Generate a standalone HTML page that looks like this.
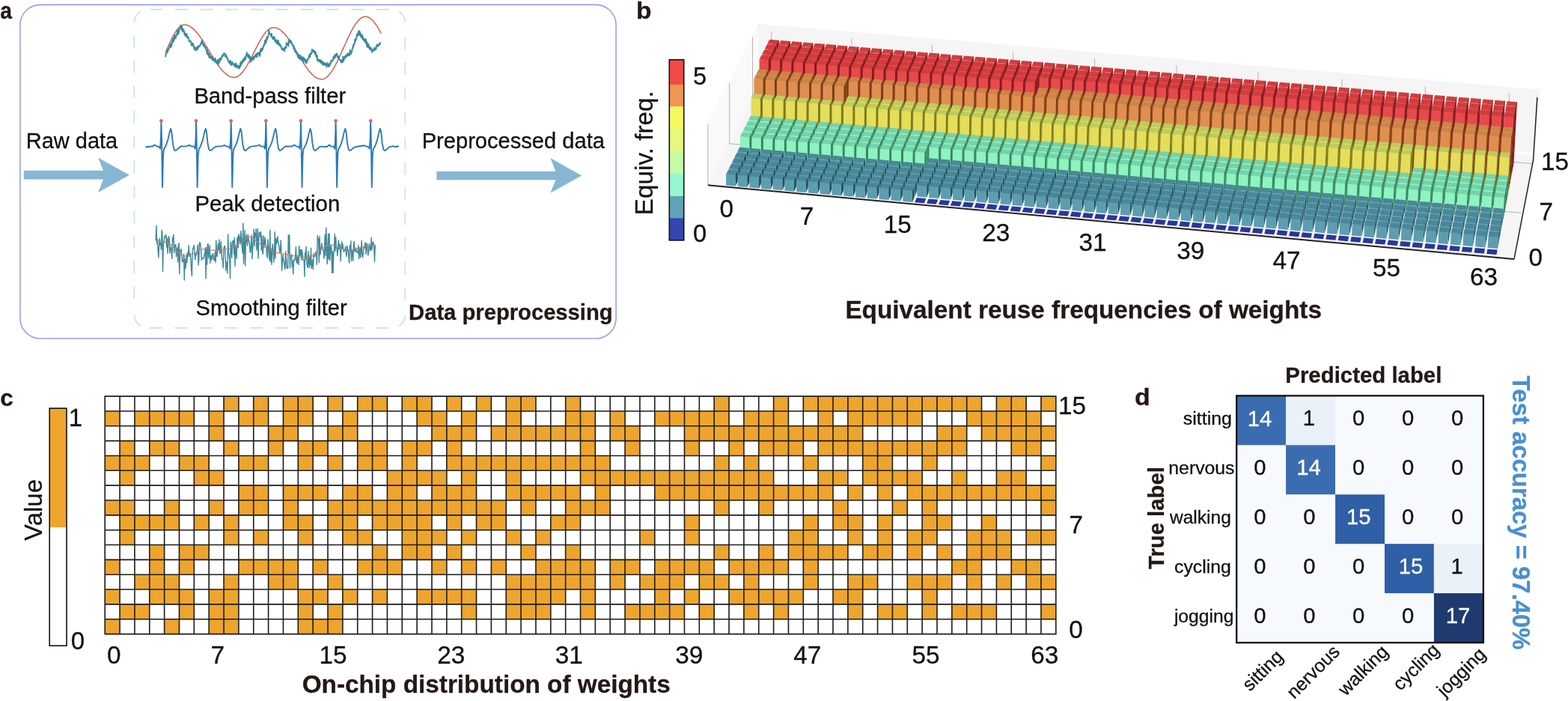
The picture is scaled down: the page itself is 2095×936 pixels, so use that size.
<!DOCTYPE html>
<html lang="en"><head><meta charset="utf-8"><title>Figure</title>
<style>
html,body{margin:0;padding:0;background:#fff;}
body{width:2095px;height:936px;overflow:hidden;}
svg{display:block;font-family:"Liberation Sans",sans-serif;}
.b{font-weight:700;fill:#231815;}
.t{fill:#111;}
</style></head><body>
<svg width="2095" height="936" viewBox="0 0 2095 936">
<rect width="2095" height="936" fill="#fff"/>
<g id="panel-a">
<rect x="26.9" y="6.4" width="796.2" height="445.6" rx="27" ry="27" fill="none" stroke="#9d9dee" stroke-width="1.6"/>
<path d="M200.5 12.6h16.8M234.1 12.6h16.8M267.7 12.6h16.8M301.3 12.6h16.8M334.9 12.6h16.8M368.5 12.6h16.8M402.1 12.6h16.8M435.7 12.6h16.8M469.3 12.6h16.8M502.9 12.6h16.8M199.8 437.8h16.8M233.4 437.8h16.8M267.0 437.8h16.8M300.6 437.8h16.8M334.2 437.8h16.8M367.8 437.8h16.8M401.4 437.8h16.8M435.0 437.8h16.8M468.6 437.8h16.8M502.2 437.8h16.8M179.3 47.3v16.7M179.3 80.8v16.7M179.3 114.2v16.7M179.3 147.7v16.7M179.3 181.1v16.7M179.3 214.6v16.7M179.3 248.0v16.7M179.3 281.5v16.7M179.3 314.9v16.7M179.3 348.4v16.7M179.3 381.8v16.7M541.4 49.4v16.7M541.4 82.8v16.7M541.4 116.3v16.7M541.4 149.8v16.7M541.4 183.2v16.7M541.4 216.7v16.7M541.4 250.1v16.7M541.4 283.6v16.7M541.4 317.0v16.7M541.4 350.4v16.7M541.4 383.9v16.7M179.3 29.7A18 18 0 0 1 187.8 15.3M532.9 15.3A18 18 0 0 1 541.4 29.7M541.4 420.7A18 18 0 0 1 532.9 435.1M187.8 435.1A18 18 0 0 1 179.3 420.7" fill="none" stroke="#c5e5e9" stroke-width="1.7"/>
<path d="M31.8 227.8H138.1L131.1 210.4L172.8 233.7L131.1 256.9L138.1 239.6H31.8z" fill="#86b6d3"/>
<path d="M583.3 228.7H742.4L735.4 211.1L777.1 234.5L735.4 257.6L742.4 240.3H583.3z" fill="#86b6d3"/>
<path d="M221.1 70.0L222.1 67.8L223.1 65.5L224.1 63.3L225.1 61.0L226.1 58.8L227.1 56.7L228.1 54.5L229.1 52.5L230.1 50.5L231.1 48.6L232.1 46.7L233.1 45.0L234.1 43.3L235.1 41.8L236.1 40.3L237.1 39.0L238.1 37.8L239.1 36.7L240.1 35.8L241.1 35.0L242.1 34.3L243.1 33.8L244.1 33.4L245.1 33.2L246.1 33.1L247.1 33.1L248.1 33.2L249.1 33.4L250.1 33.6L251.1 34.0L252.1 34.4L253.1 34.9L254.1 35.4L255.1 36.1L256.1 36.8L257.1 37.6L258.1 38.4L259.1 39.3L260.1 40.3L261.1 41.3L262.1 42.4L263.1 43.6L264.1 44.8L265.1 46.1L266.1 47.4L267.1 48.7L268.1 50.1L269.1 51.6L270.1 53.0L271.1 54.6L272.1 56.1L273.1 57.7L274.1 59.3L275.1 60.9L276.1 62.5L277.1 64.2L278.1 65.8L279.1 67.5L280.1 69.1L281.1 70.8L282.1 72.4L283.1 74.1L284.1 75.7L285.1 77.3L286.1 78.9L287.1 80.5L288.1 82.0L289.1 83.5L290.1 85.0L291.1 86.4L292.1 87.8L293.1 89.2L294.1 90.5L295.1 91.7L296.1 93.0L297.1 94.1L298.1 95.2L299.1 96.2L300.1 97.2L301.1 98.1L302.1 98.9L303.1 99.7L304.1 100.4L305.1 101.0L306.1 101.6L307.1 102.1L308.1 102.5L309.1 102.8L310.1 103.1L311.1 103.2L312.1 103.3L313.1 103.4L314.1 103.3L315.1 103.1L316.1 102.7L317.1 102.3L318.1 101.7L319.1 101.1L320.1 100.3L321.1 99.4L322.1 98.4L323.1 97.3L324.1 96.2L325.1 94.9L326.1 93.5L327.1 92.1L328.1 90.5L329.1 88.9L330.1 87.3L331.1 85.5L332.1 83.8L333.1 81.9L334.1 80.1L335.1 78.2L336.1 76.2L337.1 74.3L338.1 72.3L339.1 70.3L340.1 68.3L341.1 66.4L342.1 64.4L343.1 62.5L344.1 60.5L345.1 58.7L346.1 56.8L347.1 55.0L348.1 53.3L349.1 51.6L350.1 50.0L351.1 48.4L352.1 47.0L353.1 45.6L354.1 44.3L355.1 43.1L356.1 42.0L357.1 41.0L358.1 40.1L359.1 39.3L360.1 38.6L361.1 38.0L362.1 37.5L363.1 37.2L364.1 36.9L365.1 36.8L366.1 36.8L367.1 36.9L368.1 37.0L369.1 37.3L370.1 37.6L371.1 38.0L372.1 38.5L373.1 39.1L374.1 39.7L375.1 40.5L376.1 41.3L377.1 42.1L378.1 43.1L379.1 44.1L380.1 45.1L381.1 46.3L382.1 47.5L383.1 48.7L384.1 50.0L385.1 51.4L386.1 52.8L387.1 54.2L388.1 55.7L389.1 57.2L390.1 58.8L391.1 60.4L392.1 62.0L393.1 63.6L394.1 65.3L395.1 67.0L396.1 68.6L397.1 70.3L398.1 72.0L399.1 73.7L400.1 75.4L401.1 77.1L402.1 78.7L403.1 80.4L404.1 82.0L405.1 83.6L406.1 85.1L407.1 86.7L408.1 88.2L409.1 89.6L410.1 91.0L411.1 92.4L412.1 93.7L413.1 95.0L414.1 96.2L415.1 97.3L416.1 98.4L417.1 99.4L418.1 100.3L419.1 101.2L420.1 102.0L421.1 102.8L422.1 103.4L423.1 104.0L424.1 104.5L425.1 104.9L426.1 105.2L427.1 105.5L428.1 105.7L429.1 105.8L430.1 105.8L431.1 105.7L432.1 105.5L433.1 105.1L434.1 104.7L435.1 104.1L436.1 103.4L437.1 102.6L438.1 101.6L439.1 100.6L440.1 99.5L441.1 98.2L442.1 96.9L443.1 95.5L444.1 93.9L445.1 92.3L446.1 90.6L447.1 88.9L448.1 87.0L449.1 85.1L450.1 83.2L451.1 81.1L452.1 79.1L453.1 76.9L454.1 74.8L455.1 72.6L456.1 70.4L457.1 68.2L458.1 65.9L459.1 63.7L460.1 61.4L461.1 59.2L462.1 57.0L463.1 54.8L464.1 52.6L465.1 50.4L466.1 48.3L467.1 46.3L468.1 44.3L469.1 42.3L470.1 40.4L471.1 38.6L472.1 36.9L473.1 35.2L474.1 33.6L475.1 32.1L476.1 30.7L477.1 29.4L478.1 28.2L479.1 27.1L480.1 26.1L481.1 25.2L482.1 24.4L483.1 23.7L484.1 23.2L485.1 22.8L486.1 22.4L487.1 22.2L488.1 22.2L489.1 22.2L490.1 22.4L491.1 22.7L492.1 23.0L493.1 23.5L494.1 24.1L495.1 24.8L496.1 25.7L497.1 26.6L498.1 27.6L499.1 28.7L500.1 29.9L501.1 31.3L502.1 32.7L503.1 34.1L504.1 35.7L505.1 37.3L506.1 39.0L507.1 40.8L508.1 42.7L509.1 44.6" fill="none" stroke="#d2604f" stroke-width="1.5"/>
<path d="M221.1 76.3L221.5 71.8L221.8 72.1L222.2 72.0L222.5 69.3L222.9 70.0L223.3 69.3L223.6 65.6L224.0 69.8L224.3 68.4L224.7 65.6L225.1 65.7L225.4 66.3L225.8 64.3L226.1 63.6L226.5 60.8L226.9 63.7L227.2 62.3L227.6 61.9L227.9 58.1L228.3 63.0L228.7 59.7L229.0 58.1L229.4 61.6L229.7 57.3L230.1 54.2L230.5 55.4L230.8 51.4L231.2 56.6L231.5 53.4L231.9 52.2L232.3 54.7L232.6 49.2L233.0 52.4L233.3 47.2L233.7 49.0L234.1 47.4L234.4 51.4L234.8 51.2L235.1 46.9L235.5 48.3L235.9 45.8L236.2 46.5L236.6 43.5L236.9 41.2L237.3 40.4L237.7 43.5L238.0 46.1L238.4 42.0L238.7 39.9L239.1 43.5L239.5 40.0L239.8 39.1L240.2 38.7L240.5 37.3L240.9 36.3L241.3 33.7L241.6 37.2L242.0 36.7L242.3 39.5L242.7 37.3L243.1 35.1L243.4 38.8L243.8 42.5L244.1 39.4L244.5 39.0L244.9 39.0L245.2 39.8L245.6 41.6L245.9 40.6L246.3 45.9L246.7 43.3L247.0 44.5L247.4 47.4L247.7 48.0L248.1 45.5L248.5 47.0L248.8 48.3L249.2 47.2L249.5 44.9L249.9 49.7L250.3 50.7L250.6 50.4L251.0 48.5L251.3 50.4L251.7 50.2L252.1 51.2L252.4 54.6L252.8 55.5L253.1 54.5L253.5 54.9L253.9 55.6L254.2 54.9L254.6 55.4L254.9 54.8L255.3 56.5L255.7 61.0L256.0 59.1L256.4 57.6L256.7 57.9L257.1 57.7L257.5 60.4L257.8 61.0L258.2 58.3L258.5 62.2L258.9 60.9L259.3 64.9L259.6 63.2L260.0 66.5L260.3 63.2L260.7 64.0L261.1 65.6L261.4 67.5L261.8 66.9L262.1 63.4L262.5 65.4L262.9 64.8L263.2 63.6L263.6 62.8L263.9 66.6L264.3 62.5L264.7 61.3L265.0 63.5L265.4 62.2L265.7 61.4L266.1 62.5L266.5 61.6L266.8 61.0L267.2 61.7L267.5 60.1L267.9 58.1L268.3 58.2L268.6 57.5L269.0 58.4L269.3 55.7L269.7 54.0L270.1 57.7L270.4 55.8L270.8 55.3L271.1 60.0L271.5 58.7L271.9 61.5L272.2 60.3L272.6 59.9L272.9 60.3L273.3 62.2L273.7 63.2L274.0 62.9L274.4 64.4L274.7 62.9L275.1 66.2L275.5 63.6L275.8 67.1L276.2 69.2L276.5 70.5L276.9 72.2L277.3 67.1L277.6 71.8L278.0 73.2L278.3 73.4L278.7 70.7L279.1 73.7L279.4 76.8L279.8 71.6L280.1 75.6L280.5 77.4L280.9 74.8L281.2 77.6L281.6 75.0L281.9 75.7L282.3 75.9L282.7 77.9L283.0 77.7L283.4 79.8L283.7 76.7L284.1 78.4L284.5 80.5L284.8 80.1L285.2 77.0L285.5 80.8L285.9 79.0L286.3 80.8L286.6 80.9L287.0 82.7L287.3 81.0L287.7 77.8L288.1 78.9L288.4 82.9L288.8 81.4L289.1 84.1L289.5 82.8L289.9 81.3L290.2 84.7L290.6 81.7L290.9 79.7L291.3 87.2L291.7 80.5L292.0 84.5L292.4 84.5L292.7 82.5L293.1 78.7L293.5 82.9L293.8 78.0L294.2 77.6L294.5 78.7L294.9 80.2L295.3 78.8L295.6 79.1L296.0 76.3L296.3 76.2L296.7 73.9L297.1 74.8L297.4 75.8L297.8 73.7L298.1 74.4L298.5 72.0L298.9 71.4L299.2 72.0L299.6 71.0L299.9 72.1L300.3 72.0L300.7 75.4L301.0 72.6L301.4 73.2L301.7 72.4L302.1 74.9L302.5 76.7L302.8 74.9L303.2 76.7L303.5 78.7L303.9 77.9L304.3 77.8L304.6 81.1L305.0 80.2L305.3 81.3L305.7 83.3L306.1 83.9L306.4 82.0L306.8 82.3L307.1 84.4L307.5 83.8L307.9 80.9L308.2 86.6L308.6 84.5L308.9 85.9L309.3 82.8L309.7 87.2L310.0 84.1L310.4 85.1L310.7 83.0L311.1 85.3L311.5 85.4L311.8 85.6L312.2 86.8L312.5 86.3L312.9 88.1L313.3 85.7L313.6 85.0L314.0 86.8L314.3 88.1L314.7 89.4L315.1 88.8L315.4 84.4L315.8 88.3L316.1 90.4L316.5 88.1L316.9 87.2L317.2 88.8L317.6 87.6L317.9 89.7L318.3 88.7L318.7 91.3L319.0 89.9L319.4 88.0L319.7 90.4L320.1 91.2L320.5 88.0L320.8 87.6L321.2 83.7L321.5 88.7L321.9 85.5L322.3 82.1L322.6 82.1L323.0 84.2L323.3 85.3L323.7 83.2L324.1 83.5L324.4 80.1L324.8 79.1L325.1 82.4L325.5 81.0L325.9 79.5L326.2 81.2L326.6 76.6L326.9 76.9L327.3 78.8L327.7 79.6L328.0 75.8L328.4 78.1L328.7 73.5L329.1 74.5L329.5 72.9L329.8 69.8L330.2 73.3L330.5 74.9L330.9 73.4L331.3 73.9L331.6 76.9L332.0 72.7L332.3 72.7L332.7 74.5L333.1 74.0L333.4 78.8L333.8 77.4L334.1 75.8L334.5 76.6L334.9 83.1L335.2 77.4L335.6 77.6L335.9 79.9L336.3 80.8L336.7 80.0L337.0 77.7L337.4 76.9L337.7 79.7L338.1 78.2L338.5 75.1L338.8 79.7L339.2 78.7L339.5 76.6L339.9 76.3L340.3 76.8L340.6 74.9L341.0 73.4L341.3 76.0L341.7 72.6L342.1 75.5L342.4 72.0L342.8 74.0L343.1 73.7L343.5 76.7L343.9 71.4L344.2 70.5L344.6 71.5L344.9 70.4L345.3 71.0L345.7 72.4L346.0 72.7L346.4 74.0L346.7 69.5L347.1 75.1L347.5 73.6L347.8 69.4L348.2 65.5L348.5 69.0L348.9 69.0L349.3 64.5L349.6 68.0L350.0 66.7L350.3 64.8L350.7 66.5L351.1 66.3L351.4 62.9L351.8 63.3L352.1 60.9L352.5 59.8L352.9 60.5L353.2 60.5L353.6 57.7L353.9 54.0L354.3 58.1L354.7 53.4L355.0 55.6L355.4 57.7L355.7 53.7L356.1 50.8L356.5 49.5L356.8 53.3L357.2 50.4L357.5 50.5L357.9 50.4L358.3 47.8L358.6 46.6L359.0 44.6L359.3 40.0L359.7 42.0L360.1 44.1L360.4 44.4L360.8 45.8L361.1 45.4L361.5 46.3L361.9 47.8L362.2 45.3L362.6 46.8L362.9 45.0L363.3 49.9L363.7 48.7L364.0 49.9L364.4 52.2L364.7 51.9L365.1 50.3L365.5 52.2L365.8 48.8L366.2 52.5L366.5 52.4L366.9 49.8L367.3 55.4L367.6 52.2L368.0 55.1L368.3 53.6L368.7 56.5L369.1 57.5L369.4 54.2L369.8 53.4L370.1 56.3L370.5 58.5L370.9 56.8L371.2 56.8L371.6 59.1L371.9 53.9L372.3 58.0L372.7 57.2L373.0 60.6L373.4 59.2L373.7 59.0L374.1 60.7L374.5 59.2L374.8 62.2L375.2 61.5L375.5 62.5L375.9 62.3L376.3 65.6L376.6 64.2L377.0 65.8L377.3 66.1L377.7 64.3L378.1 67.2L378.4 67.2L378.8 67.1L379.1 65.4L379.5 64.9L379.9 66.6L380.2 68.6L380.6 62.9L380.9 64.8L381.3 62.8L381.7 64.4L382.0 63.3L382.4 63.9L382.7 56.8L383.1 60.1L383.5 59.0L383.8 60.1L384.2 58.6L384.5 58.3L384.9 60.1L385.3 61.8L385.6 53.1L386.0 57.1L386.3 57.7L386.7 56.7L387.1 55.6L387.4 53.4L387.8 53.7L388.1 56.2L388.5 56.9L388.9 55.9L389.2 55.0L389.6 57.4L389.9 57.6L390.3 59.7L390.7 59.7L391.0 59.2L391.4 61.3L391.7 59.7L392.1 63.9L392.5 65.3L392.8 61.9L393.2 65.5L393.5 63.8L393.9 68.1L394.3 68.6L394.6 67.3L395.0 70.2L395.3 68.5L395.7 68.9L396.1 69.7L396.4 71.2L396.8 71.7L397.1 73.3L397.5 72.7L397.9 75.8L398.2 76.8L398.6 74.4L398.9 73.0L399.3 77.0L399.7 78.0L400.0 75.9L400.4 74.2L400.7 77.1L401.1 79.6L401.5 73.8L401.8 78.2L402.2 77.0L402.5 76.3L402.9 78.9L403.3 76.0L403.6 79.0L404.0 81.0L404.3 79.3L404.7 77.7L405.1 76.3L405.4 77.4L405.8 76.7L406.1 82.9L406.5 79.9L406.9 78.8L407.2 78.6L407.6 79.2L407.9 80.7L408.3 79.3L408.7 84.7L409.0 80.7L409.4 80.8L409.7 82.3L410.1 83.7L410.5 82.8L410.8 79.0L411.2 79.7L411.5 78.9L411.9 78.9L412.3 77.8L412.6 75.1L413.0 73.9L413.3 75.8L413.7 72.8L414.1 76.7L414.4 73.7L414.8 71.2L415.1 71.8L415.5 70.9L415.9 70.9L416.2 72.2L416.6 67.4L416.9 66.0L417.3 69.3L417.7 67.7L418.0 67.7L418.4 67.6L418.7 67.2L419.1 69.5L419.5 67.2L419.8 69.5L420.2 68.6L420.5 68.7L420.9 72.4L421.3 73.0L421.6 69.2L422.0 71.3L422.3 74.4L422.7 76.4L423.1 74.0L423.4 75.5L423.8 74.0L424.1 81.5L424.5 78.6L424.9 79.9L425.2 80.2L425.6 81.3L425.9 81.0L426.3 79.6L426.7 81.7L427.0 80.8L427.4 83.1L427.7 79.8L428.1 80.4L428.5 82.7L428.8 84.0L429.2 82.3L429.5 81.0L429.9 82.2L430.3 81.8L430.6 86.2L431.0 84.7L431.3 85.6L431.7 84.1L432.1 82.8L432.4 86.1L432.8 87.1L433.1 85.5L433.5 84.7L433.9 86.8L434.2 84.5L434.6 86.7L434.9 84.4L435.3 84.1L435.7 87.0L436.0 86.9L436.4 89.8L436.7 86.2L437.1 87.0L437.5 85.2L437.8 84.1L438.2 84.5L438.5 88.7L438.9 85.5L439.3 89.0L439.6 89.0L440.0 85.5L440.3 88.4L440.7 85.4L441.1 86.4L441.4 83.5L441.8 85.1L442.1 81.2L442.5 83.4L442.9 81.0L443.2 81.1L443.6 81.9L443.9 80.5L444.3 79.6L444.7 80.5L445.0 80.1L445.4 75.7L445.7 78.6L446.1 78.2L446.5 75.2L446.8 76.7L447.2 73.2L447.5 77.5L447.9 74.0L448.3 73.8L448.6 75.5L449.0 72.6L449.3 73.7L449.7 71.3L450.1 72.7L450.4 71.7L450.8 74.3L451.1 77.0L451.5 76.0L451.9 77.7L452.2 74.8L452.6 75.6L452.9 76.8L453.3 79.1L453.7 79.2L454.0 79.1L454.4 80.7L454.7 79.8L455.1 80.6L455.5 83.4L455.8 80.3L456.2 81.4L456.5 83.6L456.9 80.6L457.3 81.4L457.6 78.8L458.0 83.0L458.3 75.3L458.7 77.0L459.1 76.8L459.4 81.2L459.8 78.7L460.1 77.3L460.5 75.3L460.9 77.8L461.2 77.1L461.6 75.4L461.9 73.7L462.3 74.1L462.7 76.1L463.0 76.0L463.4 75.3L463.7 74.6L464.1 71.4L464.5 74.3L464.8 72.1L465.2 73.7L465.5 74.2L465.9 71.9L466.3 71.0L466.6 74.2L467.0 72.8L467.3 70.8L467.7 66.3L468.1 71.2L468.4 72.1L468.8 72.6L469.1 69.2L469.5 69.0L469.9 68.2L470.2 69.4L470.6 64.7L470.9 65.5L471.3 62.9L471.7 63.9L472.0 59.6L472.4 61.9L472.7 59.2L473.1 58.6L473.5 58.8L473.8 58.8L474.2 52.7L474.5 56.3L474.9 54.4L475.3 51.8L475.6 53.7L476.0 50.4L476.3 51.2L476.7 46.8L477.1 45.2L477.4 47.8L477.8 48.3L478.1 44.5L478.5 44.1L478.9 42.2L479.2 41.2L479.6 43.6L479.9 47.1L480.3 41.7L480.7 44.6L481.0 42.6L481.4 46.6L481.7 48.4L482.1 45.2L482.5 47.1L482.8 50.6L483.2 48.6L483.5 47.1L483.9 47.4L484.3 46.7L484.6 52.1L485.0 49.9L485.3 53.5L485.7 53.7L486.1 51.5L486.4 52.2L486.8 54.9L487.1 54.3L487.5 55.0L487.9 52.1L488.2 57.1L488.6 54.5L488.9 52.5L489.3 55.9L489.7 58.2L490.0 61.6L490.4 57.7L490.7 56.5L491.1 63.1L491.5 60.1L491.8 59.8L492.2 58.9L492.5 59.5L492.9 64.3L493.3 61.7L493.6 61.8L494.0 62.3L494.3 66.4L494.7 63.1L495.1 65.7L495.4 65.6L495.8 66.0L496.1 64.5L496.5 67.7L496.9 69.8L497.2 67.4L497.6 66.4L497.9 66.2L498.3 68.4L498.7 67.2L499.0 67.1L499.4 66.9L499.7 63.9L500.1 67.5L500.5 66.1L500.8 65.2L501.2 65.4L501.5 66.2L501.9 64.3L502.3 62.3L502.6 65.4L503.0 62.3L503.3 61.4L503.7 59.5L504.1 61.9L504.4 59.6L504.8 60.2L505.1 61.5L505.5 60.4L505.9 61.7L506.2 60.1L506.6 58.4L506.9 58.2L507.3 57.5L507.7 59.1L508.0 57.6L508.4 56.5" fill="none" stroke="#3a8a9c" stroke-width="1.8" stroke-linejoin="round"/>
<path d="M194.50 196.90L197.00 195.70L200.00 196.00L203.00 195.20L203.40 195.70L205.40 194.23L206.90 193.44L208.40 194.57L210.40 195.75L212.80 195.98L214.00 198.60L214.90 185.40L215.40 161.80L216.00 185.40L217.00 249.90L218.00 207.40L219.00 198.90L220.40 196.92L222.40 192.40L224.40 186.40L226.40 177.40L228.10 171.80L229.40 176.40L230.90 191.40L232.40 198.90L233.90 201.00L235.90 200.40L238.40 197.90L241.40 195.45L250.03 195.11L252.03 194.12L253.53 193.68L255.03 195.06L257.03 195.55L259.43 195.74L260.63 198.60L261.53 185.40L262.03 161.80L262.63 185.40L263.63 249.90L264.63 207.40L265.63 198.90L267.03 197.02L269.03 192.40L271.03 186.40L273.03 177.40L274.73 171.80L276.03 176.40L277.53 191.40L279.03 198.90L280.53 201.00L282.53 200.40L285.03 197.90L288.03 195.68L296.66 195.14L298.66 194.47L300.16 193.88L301.66 195.38L303.66 195.55L306.06 195.83L307.26 198.60L308.16 185.40L308.66 161.80L309.26 185.40L310.26 249.90L311.26 207.40L312.26 198.90L313.66 196.49L315.66 192.40L317.66 186.40L319.66 177.40L321.36 171.80L322.66 176.40L324.16 191.40L325.66 198.90L327.16 201.00L329.16 200.40L331.66 197.90L334.66 195.86L343.29 194.65L345.29 194.06L346.79 193.48L348.29 195.40L350.29 195.60L352.69 195.56L353.89 198.60L354.79 185.40L355.29 161.80L355.89 185.40L356.89 249.90L357.89 207.40L358.89 198.90L360.29 196.40L362.29 192.40L364.29 186.40L366.29 177.40L367.99 171.80L369.29 176.40L370.79 191.40L372.29 198.90L373.79 201.00L375.79 200.40L378.29 197.90L381.29 195.34L389.92 195.44L391.92 194.22L393.42 193.53L394.92 194.86L396.92 195.53L399.32 196.25L400.52 198.60L401.42 185.40L401.92 161.80L402.52 185.40L403.52 249.90L404.52 207.40L405.52 198.90L406.92 196.51L408.92 192.40L410.92 186.40L412.92 177.40L414.62 171.80L415.92 176.40L417.42 191.40L418.92 198.90L420.42 201.00L422.42 200.40L424.92 197.90L427.92 195.61L436.55 195.97L438.55 194.39L440.05 193.44L441.55 195.33L443.55 195.34L445.95 195.90L447.15 198.60L448.05 185.40L448.55 161.80L449.15 185.40L450.15 249.90L451.15 207.40L452.15 198.90L453.55 197.44L455.55 192.40L457.55 186.40L459.55 177.40L461.25 171.80L462.55 176.40L464.05 191.40L465.55 198.90L467.05 201.00L469.05 200.40L471.55 197.90L474.55 196.26L483.18 194.80L485.18 194.45L486.68 194.28L488.18 194.91L490.18 195.69L492.58 196.43L493.78 198.60L494.68 185.40L495.18 161.80L495.78 185.40L496.78 249.90L497.78 207.40L498.78 198.90L500.18 196.73L502.18 192.40L504.18 186.40L506.18 177.40L507.88 171.80L509.18 176.40L510.68 191.40L512.18 198.90L513.68 201.00L515.68 200.40L518.18 197.90L521.18 195.76L523.18 195.60L525.18 195.10L527.18 195.80L529.18 196.00L530.68 196.20L532.38 194.20" fill="none" stroke="#2b79b8" stroke-width="1.9" stroke-linejoin="round"/>
<circle cx="215.4" cy="161.2" r="2.3" fill="#cf6b5d"/>
<circle cx="262.0" cy="161.2" r="2.3" fill="#cf6b5d"/>
<circle cx="308.7" cy="161.2" r="2.3" fill="#cf6b5d"/>
<circle cx="355.3" cy="161.2" r="2.3" fill="#cf6b5d"/>
<circle cx="401.9" cy="161.2" r="2.3" fill="#cf6b5d"/>
<circle cx="448.6" cy="161.2" r="2.3" fill="#cf6b5d"/>
<circle cx="495.2" cy="161.2" r="2.3" fill="#cf6b5d"/>
<path d="M208.2 320.9L208.9 301.3L209.6 325.2L210.3 319.8L211.0 331.5L211.8 343.9L212.5 329.1L213.2 318.2L213.9 326.9L214.6 324.4L215.4 333.1L216.1 307.3L216.8 310.3L217.5 362.6L218.2 329.1L219.0 322.6L219.7 316.2L220.4 315.3L221.1 317.0L221.8 313.4L222.6 330.0L223.3 318.1L224.0 338.1L224.7 327.2L225.4 315.6L226.2 318.6L226.9 338.0L227.6 331.0L228.3 330.2L229.0 335.5L229.8 345.5L230.5 316.9L231.2 322.7L231.9 313.1L232.6 337.5L233.4 329.1L234.1 326.8L234.8 326.5L235.5 342.4L236.2 334.3L237.0 330.8L237.7 350.1L238.4 326.4L239.1 324.7L239.8 365.7L240.6 335.2L241.3 333.9L242.0 332.4L242.7 339.2L243.4 349.5L244.2 349.6L244.9 347.7L245.6 339.2L246.3 374.0L247.0 345.2L247.8 358.3L248.5 353.4L249.2 339.9L249.9 350.2L250.6 337.2L251.4 342.4L252.1 327.6L252.8 337.4L253.5 342.2L254.2 338.6L255.0 348.6L255.7 360.6L256.4 368.6L257.1 336.0L257.8 331.0L258.6 331.4L259.3 327.4L260.0 338.5L260.7 346.6L261.4 338.9L262.2 340.7L262.9 337.8L263.6 334.1L264.3 326.9L265.0 354.1L265.8 346.2L266.5 324.0L267.2 323.8L267.9 327.1L268.6 333.9L269.4 347.5L270.1 344.5L270.8 344.9L271.5 345.0L272.2 345.0L273.0 340.6L273.7 337.3L274.4 330.7L275.1 371.9L275.8 330.7L276.6 353.0L277.3 326.3L278.0 325.5L278.7 344.6L279.4 334.0L280.2 327.7L280.9 351.5L281.6 340.9L282.3 342.6L283.0 347.1L283.8 339.8L284.5 338.5L285.2 343.3L285.9 347.7L286.6 347.5L287.4 336.3L288.1 350.5L288.8 320.9L289.5 342.0L290.2 342.5L291.0 329.8L291.7 325.2L292.4 333.7L293.1 319.9L293.8 338.3L294.6 337.6L295.3 322.7L296.0 334.4L296.7 346.5L297.4 346.4L298.2 357.8L298.9 331.5L299.6 329.1L300.3 328.3L301.0 340.1L301.8 361.2L302.5 349.6L303.2 351.6L303.9 364.9L304.6 312.8L305.4 336.9L306.1 342.3L306.8 346.7L307.5 372.1L308.2 323.1L309.0 331.7L309.7 343.8L310.4 324.1L311.1 322.0L311.8 321.0L312.6 339.4L313.3 317.4L314.0 355.2L314.7 328.6L315.4 336.1L316.2 345.3L316.9 318.3L317.6 316.1L318.3 330.6L319.0 312.7L319.8 315.9L320.5 322.9L321.2 325.7L321.9 308.5L322.6 318.4L323.4 329.5L324.1 338.1L324.8 298.2L325.5 352.3L326.2 331.2L327.0 307.3L327.7 354.8L328.4 324.3L329.1 313.8L329.8 320.0L330.6 328.1L331.3 313.0L332.0 318.9L332.7 322.2L333.4 326.9L334.2 337.1L334.9 336.5L335.6 319.4L336.3 314.1L337.0 345.6L337.8 325.7L338.5 323.7L339.2 306.1L339.9 329.0L340.6 311.1L341.4 315.5L342.1 305.7L342.8 334.3L343.5 323.3L344.2 305.4L345.0 344.9L345.7 323.4L346.4 309.9L347.1 310.6L347.8 316.1L348.6 309.8L349.3 334.2L350.0 315.7L350.7 337.0L351.4 339.3L352.2 314.8L352.9 329.9L353.6 324.3L354.3 317.0L355.0 327.0L355.8 328.5L356.5 340.2L357.2 344.3L357.9 319.7L358.6 328.2L359.4 339.6L360.1 347.6L360.8 307.1L361.5 349.5L362.2 332.8L363.0 353.2L363.7 330.5L364.4 326.0L365.1 336.6L365.8 350.1L366.6 336.9L367.3 309.8L368.0 344.9L368.7 318.1L369.4 325.6L370.2 323.6L370.9 315.8L371.6 322.9L372.3 326.1L373.0 330.7L373.8 337.4L374.5 334.2L375.2 320.9L375.9 336.3L376.6 361.4L377.4 349.9L378.1 340.5L378.8 346.3L379.5 349.6L380.2 355.3L381.0 359.3L381.7 335.8L382.4 346.1L383.1 357.1L383.8 358.3L384.6 358.2L385.3 313.6L386.0 337.9L386.7 313.9L387.4 357.8L388.2 341.5L388.9 341.6L389.6 339.6L390.3 356.5L391.0 348.3L391.8 365.7L392.5 348.2L393.2 346.1L393.9 347.4L394.6 343.5L395.4 329.6L396.1 350.8L396.8 350.9L397.5 341.1L398.2 351.4L399.0 353.5L399.7 328.3L400.4 341.6L401.1 338.2L401.8 332.9L402.6 347.2L403.3 333.7L404.0 338.4L404.7 346.2L405.4 347.4L406.2 347.0L406.9 369.2L407.6 337.4L408.3 346.1L409.0 329.1L409.8 348.7L410.5 356.4L411.2 357.0L411.9 335.6L412.6 349.4L413.4 357.5L414.1 341.7L414.8 353.8L415.5 331.3L416.2 358.3L417.0 353.8L417.7 346.9L418.4 359.6L419.1 338.7L419.8 341.8L420.6 342.6L421.3 337.9L422.0 336.1L422.7 340.3L423.4 353.3L424.2 314.5L424.9 321.1L425.6 318.7L426.3 350.5L427.0 315.5L427.8 340.1L428.5 335.5L429.2 330.0L429.9 324.7L430.6 333.1L431.4 332.7L432.1 333.7L432.8 345.0L433.5 335.9L434.2 313.2L435.0 341.4L435.7 304.3L436.4 321.8L437.1 352.6L437.8 343.9L438.6 312.5L439.3 346.0L440.0 311.9L440.7 347.7L441.4 336.2L442.2 327.5L442.9 331.4L443.6 364.5L444.3 335.8L445.0 364.2L445.8 338.8L446.5 332.0L447.2 312.3L447.9 335.3L448.6 317.0L449.4 330.5L450.1 331.3L450.8 341.5L451.5 335.8L452.2 320.7L453.0 332.2L453.7 325.8L454.4 329.5L455.1 348.7L455.8 332.8L456.6 322.5L457.3 331.4L458.0 326.0L458.7 333.3L459.4 336.1L460.2 334.1L460.9 334.2L461.6 329.0L462.3 337.4L463.0 342.5L463.8 328.4L464.5 333.1L465.2 334.1L465.9 343.8L466.6 351.1L467.4 327.7L468.1 334.7L468.8 321.7L469.5 348.8L470.2 333.6L471.0 338.3L471.7 348.1L472.4 330.6L473.1 322.4L473.8 335.6L474.6 331.0L475.3 335.4L476.0 333.1L476.7 337.1L477.4 336.4L478.2 337.5L478.9 327.6L479.6 345.5L480.3 338.0L481.0 331.0L481.8 343.7L482.5 332.5L483.2 321.2L483.9 340.2L484.6 343.6L485.4 337.2L486.1 330.4L486.8 331.3L487.5 327.1L488.2 323.8L489.0 339.2L489.7 325.9L490.4 325.1L491.1 334.4L491.8 340.9L492.6 334.1L493.3 325.5L494.0 327.6L494.7 334.6L495.4 333.6L496.2 317.1L496.9 333.5L497.6 326.1L498.3 322.9L499.0 324.8L499.8 332.3L500.5 349.5L501.2 328.0L501.9 330.5" fill="none" stroke="#3f8b9c" stroke-width="1.45" stroke-linejoin="round"/>
<path d="M208.2 321.5L210.2 321.7L212.2 321.9L214.2 322.2L216.2 322.4L218.2 322.7L220.2 322.9L222.2 323.2L224.2 323.6L226.2 324.8L228.2 326.9L230.2 329.3L232.2 331.7L234.2 333.9L236.2 335.7L238.2 337.2L240.2 338.7L242.2 340.2L244.2 341.6L246.2 342.2L248.2 342.0L250.2 341.5L252.2 341.0L254.2 340.5L256.2 339.8L258.2 338.8L260.2 337.6L262.2 336.4L264.2 335.3L266.2 334.3L268.2 333.7L270.2 333.1L272.2 332.5L274.2 332.1L276.2 332.2L278.2 332.7L280.2 333.3L282.2 333.8L284.2 334.1L286.2 334.2L288.2 334.3L290.2 334.4L292.2 334.4L294.2 334.2L296.2 333.8L298.2 333.5L300.2 333.1L302.2 332.7L304.2 332.3L306.2 331.9L308.2 331.1L310.2 330.1L312.2 329.0L314.2 327.8L316.2 326.7L318.2 325.6L320.2 324.5L322.2 323.3L324.2 322.0L326.2 320.7L328.2 319.4L330.2 318.2L332.2 316.9L334.2 316.2L336.2 316.8L338.2 318.4L340.2 319.9L342.2 321.5L344.2 323.1L346.2 324.6L348.2 326.1L350.2 327.5L352.2 328.9L354.2 330.3L356.2 331.6L358.2 332.7L360.2 333.7L362.2 334.7L364.2 335.7L366.2 336.4L368.2 336.9L370.2 337.3L372.2 337.7L374.2 338.1L376.2 338.5L378.2 338.9L380.2 339.3L382.2 339.7L384.2 340.1L386.2 340.5L388.2 340.9L390.2 341.3L392.2 341.7L394.2 342.1L396.2 342.5L398.2 342.9L400.2 343.3L402.2 343.5L404.2 343.4L406.2 343.3L408.2 343.2L410.2 343.0L412.2 342.9L414.2 342.8L416.2 342.3L418.2 341.3L420.2 339.9L422.2 338.5L424.2 337.0L426.2 335.4L428.2 333.7L430.2 331.9L432.2 330.1L434.2 328.7L436.2 327.9L438.2 327.7L440.2 327.5L442.2 327.2L444.2 327.1L446.2 327.4L448.2 328.2L450.2 329.2L452.2 330.1L454.2 331.0L456.2 331.9L458.2 332.8L460.2 333.4L462.2 333.6L464.2 333.6L466.2 333.6L468.2 333.6L470.2 333.5L472.2 333.1L474.2 332.5L476.2 331.9L478.2 331.2L480.2 330.6L482.2 330.0L484.2 329.4L486.2 329.0L488.2 328.7L490.2 328.4L492.2 328.2L494.2 327.9L496.2 327.7L498.2 327.4L500.2 327.2L502.2 327.0" fill="none" stroke="#d4796b" stroke-width="1.2"/>
<text x="0.2" y="24.8" font-size="32.0" textLength="15.7" lengthAdjust="spacingAndGlyphs" font-weight="700" fill="#231815" stroke="#231815" stroke-width="0.3">a</text>
<text x="259.4" y="138.2" font-size="29.2" fill="#111" stroke="#111" stroke-width="0.3">Band-pass filter</text>
<text x="260.4" y="282.0" font-size="29.3" fill="#111" stroke="#111" stroke-width="0.3">Peak detection</text>
<text x="261.5" y="420.8" font-size="29.1" fill="#111" stroke="#111" stroke-width="0.3">Smoothing filter</text>
<text x="34.7" y="198.1" font-size="29.0" fill="#111" stroke="#111" stroke-width="0.3">Raw data</text>
<text x="563.7" y="197.9" font-size="29.1" fill="#111" stroke="#111" stroke-width="0.3">Preprocessed data</text>
<text x="546.1" y="426.6" font-size="29.2" font-weight="700" fill="#231815" stroke="#231815" stroke-width="0.3">Data preprocessing</text>
</g>
<g id="panel-b">
<path d="M1012.9 32L2057.6 119.4L2048.6 213.6L1012.9 116z" fill="#f5f5f5"/>
<path d="M945.8 247L945.8 163L1012.9 32L1012.9 116z" fill="#f9f9f9"/>
<path d="M945.8 247L2023 345.7L2050 205.5L1012.9 116z" fill="#f5f5f5"/>
<path d="M1012.9 116L2050 205.5" stroke="#fff" stroke-width="3.5" fill="none" opacity="0.9"/>
<path d="M945.8 166V247M974.7 111V191.8L2032.8 284.3M1005.5 49.5V130.5L2046.7 218.5M1030.9 42.0V122.0M1137.9 51.0V131.0M1245.3 59.9V139.9M1353.6 69.0V149.0M1462.5 78.1V158.1M1572 87.3V167.3M1681 96.4V176.4M1793 105.8V185.8M1904.3 115.1V195.1M2016.3 124.4V204.4" stroke="#b4b4b4" stroke-width="1" fill="none"/>
<path d="M1037.3 138.4L1040.1 132.7L1040.3 53.8L1037.5 59.3zM1052.5 139.7L1055.2 134.0L1055.5 55.0L1052.7 60.6zM1067.6 141.0L1070.4 135.3L1070.7 56.3L1067.9 61.9zM1082.8 142.3L1085.5 136.6L1085.9 57.6L1083.2 63.1zM1098.0 143.6L1100.7 137.9L1101.1 58.8L1098.4 64.4zM1113.2 144.9L1115.9 139.2L1116.4 60.1L1113.7 65.7zM1128.4 146.2L1131.1 140.5L1131.6 61.4L1129.0 67.0zM1143.7 147.5L1146.3 141.8L1146.9 62.7L1144.3 68.3zM1158.9 148.9L1161.5 143.1L1162.2 64.0L1159.6 69.5zM1174.2 150.2L1176.8 144.4L1177.5 65.2L1174.9 70.8zM1189.5 151.5L1192.0 145.8L1192.8 66.5L1190.3 72.1zM1204.7 152.8L1207.3 147.1L1208.2 67.8L1205.6 73.4zM1220.1 154.1L1222.6 148.4L1223.5 69.1L1221.0 74.7zM1235.4 155.4L1237.9 149.7L1238.9 70.4L1236.4 76.0zM1250.7 156.8L1253.2 151.0L1254.3 71.6L1251.8 77.3zM1266.1 158.1L1268.5 152.3L1269.7 72.9L1267.2 78.6zM1281.4 159.4L1283.8 153.7L1285.1 74.2L1282.7 79.9zM1296.8 160.7L1299.2 155.0L1300.5 75.5L1298.1 81.2zM1312.2 162.1L1314.6 156.3L1315.9 76.8L1313.6 82.4zM1327.6 163.4L1330.0 157.6L1331.4 78.1L1329.0 83.7zM1343.1 164.7L1345.4 159.0L1346.8 79.4L1344.5 85.0zM1358.5 166.1L1360.8 160.3L1362.3 80.7L1360.1 86.3zM1374.0 167.4L1376.2 161.6L1377.8 82.0L1375.6 87.6zM1389.5 168.7L1391.7 162.9L1393.3 83.3L1391.1 88.9zM1404.9 170.1L1407.1 164.3L1408.9 84.6L1406.7 90.2zM1420.4 171.4L1422.6 165.6L1424.4 85.9L1422.2 91.5zM1436.0 172.8L1438.1 166.9L1440.0 87.2L1437.8 92.9zM1451.5 174.1L1453.6 168.3L1455.5 88.5L1453.4 94.2zM1467.1 175.4L1469.1 169.6L1471.1 89.8L1469.1 95.5zM1482.6 176.8L1484.7 171.0L1486.7 91.1L1484.7 96.8zM1498.2 178.1L1500.2 172.3L1502.4 92.4L1500.3 98.1zM1513.8 179.5L1515.8 173.6L1518.0 93.7L1516.0 99.4zM1529.4 180.8L1531.4 175.0L1533.6 95.0L1531.7 100.7zM1545.0 182.2L1547.0 176.3L1549.3 96.3L1547.4 102.0zM1560.7 183.5L1562.6 177.7L1565.0 97.6L1563.1 103.3zM1576.3 184.9L1578.2 179.0L1580.7 98.9L1578.8 104.7zM1592.0 186.2L1593.9 180.3L1596.4 100.2L1594.5 106.0zM1607.7 187.6L1609.5 181.7L1612.1 101.6L1610.3 107.3zM1623.4 188.9L1625.2 183.0L1627.9 102.9L1626.1 108.6zM1639.1 190.3L1640.9 184.4L1643.6 104.2L1641.8 109.9zM1654.8 191.6L1656.6 185.7L1659.4 105.5L1657.6 111.3zM1670.6 193.0L1672.3 187.1L1675.2 106.8L1673.5 112.6zM1686.3 194.3L1688.0 188.5L1691.0 108.1L1689.3 113.9zM1702.1 195.7L1703.8 189.8L1706.8 109.5L1705.1 115.2zM1717.9 197.1L1719.6 191.2L1722.7 110.8L1721.0 116.6zM1733.7 198.4L1735.3 192.5L1738.5 112.1L1736.9 117.9zM1749.5 199.8L1751.1 193.9L1754.4 113.4L1752.8 119.2zM1765.4 201.2L1766.9 195.2L1770.3 114.8L1768.7 120.6zM1781.2 202.5L1782.8 196.6L1786.1 116.1L1784.6 121.9zM1797.1 203.9L1798.6 198.0L1802.1 117.4L1800.6 123.2zM1813.0 205.3L1814.5 199.3L1818.0 118.8L1816.5 124.6zM1828.9 206.6L1830.4 200.7L1833.9 120.1L1832.5 125.9zM1844.8 208.0L1846.2 202.1L1849.9 121.4L1848.5 127.2zM1860.8 209.4L1862.2 203.4L1865.9 122.8L1864.5 128.6zM1876.7 210.8L1878.1 204.8L1881.9 124.1L1880.5 129.9zM1892.7 212.1L1894.0 206.2L1897.9 125.4L1896.5 131.3zM1908.7 213.5L1910.0 207.6L1913.9 126.8L1912.6 132.6zM1924.7 214.9L1925.9 208.9L1929.9 128.1L1928.7 134.0zM1940.7 216.3L1941.9 210.3L1946.0 129.5L1944.7 135.3zM1956.7 217.7L1957.9 211.7L1962.1 130.8L1960.8 136.7zM1972.7 219.1L1973.9 213.1L1978.1 132.1L1977.0 138.0zM1988.8 220.4L1990.0 214.4L1994.3 133.5L1993.1 139.4zM2004.9 221.8L2006.0 215.8L2010.4 134.8L2009.2 140.7zM2021.0 223.2L2022.1 217.2L2026.5 136.2L2025.4 142.1z" fill="#821a20" stroke="#821a20" stroke-width="0.9" stroke-linejoin="round"/>
<path d="M1025.3 58.3L1037.5 59.3L1040.3 53.8L1028.2 52.7zM1040.5 59.6L1052.7 60.6L1055.5 55.0L1043.3 54.0zM1055.7 60.9L1067.9 61.9L1070.7 56.3L1058.5 55.3zM1071.0 62.1L1083.2 63.1L1085.9 57.6L1073.7 56.6zM1086.2 63.4L1098.4 64.4L1101.1 58.8L1088.9 57.8zM1101.5 64.7L1113.7 65.7L1116.4 60.1L1104.2 59.1zM1116.7 66.0L1129.0 67.0L1131.6 61.4L1119.4 60.4zM1132.0 67.2L1144.3 68.3L1146.9 62.7L1134.7 61.7zM1147.3 68.5L1159.6 69.5L1162.2 64.0L1150.0 62.9zM1162.7 69.8L1174.9 70.8L1177.5 65.2L1165.3 64.2zM1178.0 71.1L1190.3 72.1L1192.8 66.5L1180.6 65.5zM1193.3 72.4L1205.6 73.4L1208.2 67.8L1195.9 66.8zM1208.7 73.7L1221.0 74.7L1223.5 69.1L1211.2 68.0zM1224.1 75.0L1236.4 76.0L1238.9 70.4L1226.6 69.3zM1239.5 76.2L1251.8 77.3L1254.3 71.6L1242.0 70.6zM1254.9 77.5L1267.2 78.6L1269.7 72.9L1257.3 71.9zM1270.3 78.8L1282.7 79.9L1285.1 74.2L1272.7 73.2zM1285.7 80.1L1298.1 81.2L1300.5 75.5L1288.1 74.5zM1301.2 81.4L1313.6 82.4L1315.9 76.8L1303.6 75.8zM1316.7 82.7L1329.0 83.7L1331.4 78.1L1319.0 77.1zM1332.1 84.0L1344.5 85.0L1346.8 79.4L1334.5 78.3zM1347.6 85.3L1360.1 86.3L1362.3 80.7L1349.9 79.6zM1363.2 86.6L1375.6 87.6L1377.8 82.0L1365.4 80.9zM1378.7 87.9L1391.1 88.9L1393.3 83.3L1380.9 82.2zM1394.2 89.2L1406.7 90.2L1408.9 84.6L1396.4 83.5zM1409.8 90.5L1422.2 91.5L1424.4 85.9L1412.0 84.8zM1425.4 91.8L1437.8 92.9L1440.0 87.2L1427.5 86.1zM1441.0 93.1L1453.4 94.2L1455.5 88.5L1443.1 87.4zM1456.6 94.4L1469.1 95.5L1471.1 89.8L1458.7 88.7zM1472.2 95.7L1484.7 96.8L1486.7 91.1L1474.3 90.0zM1487.8 97.0L1500.3 98.1L1502.4 92.4L1489.9 91.3zM1503.5 98.4L1516.0 99.4L1518.0 93.7L1505.5 92.6zM1519.1 99.7L1531.7 100.7L1533.6 95.0L1521.1 93.9zM1534.8 101.0L1547.4 102.0L1549.3 96.3L1536.8 95.3zM1550.5 102.3L1563.1 103.3L1565.0 97.6L1552.4 96.6zM1566.2 103.6L1578.8 104.7L1580.7 98.9L1568.1 97.9zM1581.9 104.9L1594.5 106.0L1596.4 100.2L1583.8 99.2zM1597.7 106.2L1610.3 107.3L1612.1 101.6L1599.5 100.5zM1613.4 107.6L1626.1 108.6L1627.9 102.9L1615.3 101.8zM1629.2 108.9L1641.8 109.9L1643.6 104.2L1631.0 103.1zM1645.0 110.2L1657.6 111.3L1659.4 105.5L1646.8 104.4zM1660.8 111.5L1673.5 112.6L1675.2 106.8L1662.6 105.8zM1676.6 112.9L1689.3 113.9L1691.0 108.1L1678.4 107.1zM1692.5 114.2L1705.1 115.2L1706.8 109.5L1694.2 108.4zM1708.3 115.5L1721.0 116.6L1722.7 110.8L1710.0 109.7zM1724.2 116.8L1736.9 117.9L1738.5 112.1L1725.8 111.1zM1740.1 118.2L1752.8 119.2L1754.4 113.4L1741.7 112.4zM1756.0 119.5L1768.7 120.6L1770.3 114.8L1757.5 113.7zM1771.9 120.8L1784.6 121.9L1786.1 116.1L1773.4 115.0zM1787.8 122.2L1800.6 123.2L1802.1 117.4L1789.3 116.4zM1803.7 123.5L1816.5 124.6L1818.0 118.8L1805.2 117.7zM1819.7 124.8L1832.5 125.9L1833.9 120.1L1821.2 119.0zM1835.7 126.2L1848.5 127.2L1849.9 121.4L1837.1 120.4zM1851.7 127.5L1864.5 128.6L1865.9 122.8L1853.1 121.7zM1867.7 128.9L1880.5 129.9L1881.9 124.1L1869.1 123.0zM1883.7 130.2L1896.5 131.3L1897.9 125.4L1885.1 124.4zM1899.8 131.5L1912.6 132.6L1913.9 126.8L1901.1 125.7zM1915.8 132.9L1928.7 134.0L1929.9 128.1L1917.1 127.0zM1931.9 134.2L1944.7 135.3L1946.0 129.5L1933.1 128.4zM1948.0 135.6L1960.8 136.7L1962.1 130.8L1949.2 129.7zM1964.1 136.9L1977.0 138.0L1978.1 132.1L1965.3 131.1zM1980.2 138.3L1993.1 139.4L1994.3 133.5L1981.4 132.4zM1996.3 139.6L2009.2 140.7L2010.4 134.8L1997.5 133.8zM2012.5 141.0L2025.4 142.1L2026.5 136.2L2013.6 135.1z" fill="#cf3d3e"/>
<path d="M1025.2 137.3L1037.3 138.4L1037.5 59.3L1025.3 58.3zM1040.3 138.6L1052.5 139.7L1052.7 60.6L1040.5 59.6zM1055.5 139.9L1067.6 141.0L1067.9 61.9L1055.7 60.9zM1070.7 141.2L1082.8 142.3L1083.2 63.1L1071.0 62.1zM1085.8 142.5L1098.0 143.6L1098.4 64.4L1086.2 63.4zM1101.0 143.9L1113.2 144.9L1113.7 65.7L1101.5 64.7zM1116.2 145.2L1128.4 146.2L1129.0 67.0L1116.7 66.0zM1131.5 146.5L1143.7 147.5L1144.3 68.3L1132.0 67.2zM1146.7 147.8L1158.9 148.9L1159.6 69.5L1147.3 68.5zM1162.0 149.1L1174.2 150.2L1174.9 70.8L1162.7 69.8zM1177.2 150.4L1189.5 151.5L1190.3 72.1L1178.0 71.1zM1192.5 151.8L1204.7 152.8L1205.6 73.4L1193.3 72.4zM1207.8 153.1L1220.1 154.1L1221.0 74.7L1208.7 73.7zM1223.1 154.4L1235.4 155.4L1236.4 76.0L1224.1 75.0zM1238.5 155.7L1250.7 156.8L1251.8 77.3L1239.5 76.2zM1253.8 157.0L1266.1 158.1L1267.2 78.6L1254.9 77.5zM1269.2 158.4L1281.4 159.4L1282.7 79.9L1270.3 78.8zM1284.5 159.7L1296.8 160.7L1298.1 81.2L1285.7 80.1zM1299.9 161.0L1312.2 162.1L1313.6 82.4L1301.2 81.4zM1315.3 162.3L1327.6 163.4L1329.0 83.7L1316.7 82.7zM1330.7 163.7L1343.1 164.7L1344.5 85.0L1332.1 84.0zM1346.2 165.0L1358.5 166.1L1360.1 86.3L1347.6 85.3zM1361.6 166.3L1374.0 167.4L1375.6 87.6L1363.2 86.6zM1377.1 167.7L1389.5 168.7L1391.1 88.9L1378.7 87.9zM1392.6 169.0L1404.9 170.1L1406.7 90.2L1394.2 89.2zM1408.0 170.3L1420.4 171.4L1422.2 91.5L1409.8 90.5zM1423.5 171.7L1436.0 172.8L1437.8 92.9L1425.4 91.8zM1439.1 173.0L1451.5 174.1L1453.4 94.2L1441.0 93.1zM1454.6 174.4L1467.1 175.4L1469.1 95.5L1456.6 94.4zM1470.2 175.7L1482.6 176.8L1484.7 96.8L1472.2 95.7zM1485.7 177.0L1498.2 178.1L1500.3 98.1L1487.8 97.0zM1501.3 178.4L1513.8 179.5L1516.0 99.4L1503.5 98.4zM1516.9 179.7L1529.4 180.8L1531.7 100.7L1519.1 99.7zM1532.5 181.1L1545.0 182.2L1547.4 102.0L1534.8 101.0zM1548.2 182.4L1560.7 183.5L1563.1 103.3L1550.5 102.3zM1563.8 183.8L1576.3 184.9L1578.8 104.7L1566.2 103.6zM1579.5 185.1L1592.0 186.2L1594.5 106.0L1581.9 104.9zM1595.1 186.5L1607.7 187.6L1610.3 107.3L1597.7 106.2zM1610.8 187.8L1623.4 188.9L1626.1 108.6L1613.4 107.6zM1626.5 189.2L1639.1 190.3L1641.8 109.9L1629.2 108.9zM1642.2 190.5L1654.8 191.6L1657.6 111.3L1645.0 110.2zM1658.0 191.9L1670.6 193.0L1673.5 112.6L1660.8 111.5zM1673.7 193.3L1686.3 194.3L1689.3 113.9L1676.6 112.9zM1689.5 194.6L1702.1 195.7L1705.1 115.2L1692.5 114.2zM1705.3 196.0L1717.9 197.1L1721.0 116.6L1708.3 115.5zM1721.1 197.3L1733.7 198.4L1736.9 117.9L1724.2 116.8zM1736.9 198.7L1749.5 199.8L1752.8 119.2L1740.1 118.2zM1752.7 200.1L1765.4 201.2L1768.7 120.6L1756.0 119.5zM1768.6 201.4L1781.2 202.5L1784.6 121.9L1771.9 120.8zM1784.4 202.8L1797.1 203.9L1800.6 123.2L1787.8 122.2zM1800.3 204.2L1813.0 205.3L1816.5 124.6L1803.7 123.5zM1816.2 205.5L1828.9 206.6L1832.5 125.9L1819.7 124.8zM1832.1 206.9L1844.8 208.0L1848.5 127.2L1835.7 126.2zM1848.0 208.3L1860.8 209.4L1864.5 128.6L1851.7 127.5zM1863.9 209.7L1876.7 210.8L1880.5 129.9L1867.7 128.9zM1879.9 211.0L1892.7 212.1L1896.5 131.3L1883.7 130.2zM1895.9 212.4L1908.7 213.5L1912.6 132.6L1899.8 131.5zM1911.9 213.8L1924.7 214.9L1928.7 134.0L1915.8 132.9zM1927.9 215.2L1940.7 216.3L1944.7 135.3L1931.9 134.2zM1943.9 216.6L1956.7 217.7L1960.8 136.7L1948.0 135.6zM1959.9 217.9L1972.7 219.1L1977.0 138.0L1964.1 136.9zM1976.0 219.3L1988.8 220.4L1993.1 139.4L1980.2 138.3zM1992.0 220.7L2004.9 221.8L2009.2 140.7L1996.3 139.6zM2008.1 222.1L2021.0 223.2L2025.4 142.1L2012.5 141.0z" fill="#e74a4a"/>
<path d="M1033.8 145.5L1036.6 139.8L1036.8 60.7L1033.9 66.3zM1049.0 146.8L1051.8 141.1L1052.0 62.0L1049.2 67.6zM1064.2 148.1L1066.9 142.4L1067.2 63.3L1064.4 68.9zM1079.4 149.4L1082.1 143.7L1082.5 64.5L1079.7 70.1zM1094.6 150.7L1097.3 145.0L1097.7 65.8L1095.0 71.4zM1109.8 152.1L1112.5 146.3L1113.0 67.1L1110.3 72.7zM1125.1 153.4L1127.8 147.7L1128.3 68.4L1125.6 74.0zM1140.3 154.7L1143.0 149.0L1143.6 69.7L1141.0 75.3zM1155.6 156.0L1158.3 150.3L1158.9 71.0L1156.3 76.6zM1170.9 157.3L1173.5 151.6L1174.3 72.2L1171.7 77.9zM1186.2 158.7L1188.8 152.9L1189.6 73.5L1187.0 79.2zM1201.6 160.0L1204.1 154.2L1205.0 74.8L1202.4 80.5zM1216.9 161.3L1219.4 155.6L1220.4 76.1L1217.9 81.7zM1232.3 162.7L1234.8 156.9L1235.8 77.4L1233.3 83.0zM1247.6 164.0L1250.1 158.2L1251.2 78.7L1248.7 84.3zM1263.0 165.3L1265.5 159.5L1266.6 80.0L1264.2 85.6zM1278.4 166.6L1280.8 160.9L1282.1 81.3L1279.6 86.9zM1293.9 168.0L1296.2 162.2L1297.5 82.6L1295.1 88.2zM1309.3 169.3L1311.6 163.5L1313.0 83.9L1310.6 89.5zM1324.7 170.7L1327.1 164.9L1328.5 85.2L1326.1 90.8zM1340.2 172.0L1342.5 166.2L1344.0 86.5L1341.7 92.1zM1355.7 173.3L1358.0 167.5L1359.5 87.8L1357.2 93.4zM1371.2 174.7L1373.4 168.9L1375.0 89.1L1372.8 94.8zM1386.7 176.0L1388.9 170.2L1390.6 90.4L1388.3 96.1zM1402.2 177.4L1404.4 171.5L1406.1 91.7L1403.9 97.4zM1417.7 178.7L1419.9 172.9L1421.7 93.0L1419.5 98.7zM1433.3 180.0L1435.4 174.2L1437.3 94.3L1435.2 100.0zM1448.9 181.4L1451.0 175.5L1452.9 95.6L1450.8 101.3zM1464.4 182.7L1466.5 176.9L1468.5 96.9L1466.4 102.6zM1480.0 184.1L1482.1 178.2L1484.2 98.2L1482.1 103.9zM1495.7 185.4L1497.7 179.6L1499.8 99.5L1497.8 105.3zM1511.3 186.8L1513.3 180.9L1515.5 100.8L1513.5 106.6zM1526.9 188.1L1528.9 182.3L1531.2 102.1L1529.2 107.9zM1542.6 189.5L1544.5 183.6L1546.9 103.5L1544.9 109.2zM1558.3 190.9L1560.2 185.0L1562.6 104.8L1560.7 110.5zM1573.9 192.2L1575.8 186.3L1578.3 106.1L1576.4 111.9zM1589.7 193.6L1591.5 187.7L1594.1 107.4L1592.2 113.2zM1605.4 194.9L1607.2 189.0L1609.8 108.7L1608.0 114.5zM1621.1 196.3L1622.9 190.4L1625.6 110.1L1623.8 115.8zM1636.9 197.7L1638.7 191.7L1641.4 111.4L1639.6 117.2zM1652.6 199.0L1654.4 193.1L1657.2 112.7L1655.4 118.5zM1668.4 200.4L1670.1 194.5L1673.0 114.0L1671.3 119.8zM1684.2 201.7L1685.9 195.8L1688.9 115.4L1687.2 121.2zM1700.0 203.1L1701.7 197.2L1704.7 116.7L1703.0 122.5zM1715.9 204.5L1717.5 198.6L1720.6 118.0L1718.9 123.8zM1731.7 205.9L1733.3 199.9L1736.5 119.4L1734.9 125.2zM1747.6 207.2L1749.2 201.3L1752.4 120.7L1750.8 126.5zM1763.4 208.6L1765.0 202.7L1768.3 122.0L1766.7 127.8zM1779.3 210.0L1780.9 204.0L1784.2 123.4L1782.7 129.2zM1795.2 211.3L1796.7 205.4L1800.2 124.7L1798.7 130.5zM1811.2 212.7L1812.6 206.8L1816.1 126.0L1814.7 131.9zM1827.1 214.1L1828.5 208.1L1832.1 127.4L1830.7 133.2zM1843.0 215.5L1844.5 209.5L1848.1 128.7L1846.7 134.6zM1859.0 216.9L1860.4 210.9L1864.1 130.1L1862.7 135.9zM1875.0 218.2L1876.4 212.3L1880.2 131.4L1878.8 137.3zM1891.0 219.6L1892.3 213.6L1896.2 132.7L1894.9 138.6zM1907.0 221.0L1908.3 215.0L1912.3 134.1L1911.0 140.0zM1923.1 222.4L1924.3 216.4L1928.3 135.4L1927.1 141.3zM1939.1 223.8L1940.4 217.8L1944.4 136.8L1943.2 142.7zM1955.2 225.2L1956.4 219.2L1960.5 138.1L1959.3 144.0zM1971.2 226.6L1972.4 220.6L1976.7 139.5L1975.5 145.4zM1987.3 228.0L1988.5 221.9L1992.8 140.8L1991.6 146.7zM2003.5 229.4L2004.6 223.3L2009.0 142.2L2007.8 148.1zM2019.6 230.8L2020.7 224.7L2025.1 143.5L2024.0 149.5z" fill="#821a20" stroke="#821a20" stroke-width="0.9" stroke-linejoin="round"/>
<path d="M1021.7 65.3L1033.9 66.3L1036.8 60.7L1024.6 59.7zM1037.0 66.6L1049.2 67.6L1052.0 62.0L1039.8 61.0zM1052.2 67.8L1064.4 68.9L1067.2 63.3L1055.0 62.2zM1067.5 69.1L1079.7 70.1L1082.5 64.5L1070.3 63.5zM1082.8 70.4L1095.0 71.4L1097.7 65.8L1085.5 64.8zM1098.1 71.7L1110.3 72.7L1113.0 67.1L1100.8 66.1zM1113.4 73.0L1125.6 74.0L1128.3 68.4L1116.1 67.4zM1128.7 74.3L1141.0 75.3L1143.6 69.7L1131.4 68.6zM1144.0 75.5L1156.3 76.6L1158.9 71.0L1146.7 69.9zM1159.4 76.8L1171.7 77.9L1174.3 72.2L1162.0 71.2zM1174.7 78.1L1187.0 79.2L1189.6 73.5L1177.3 72.5zM1190.1 79.4L1202.4 80.5L1205.0 74.8L1192.7 73.8zM1205.5 80.7L1217.9 81.7L1220.4 76.1L1208.1 75.1zM1220.9 82.0L1233.3 83.0L1235.8 77.4L1223.5 76.4zM1236.4 83.3L1248.7 84.3L1251.2 78.7L1238.9 77.6zM1251.8 84.6L1264.2 85.6L1266.6 80.0L1254.3 78.9zM1267.3 85.9L1279.6 86.9L1282.1 81.3L1269.7 80.2zM1282.7 87.2L1295.1 88.2L1297.5 82.6L1285.1 81.5zM1298.2 88.5L1310.6 89.5L1313.0 83.9L1300.6 82.8zM1313.7 89.8L1326.1 90.8L1328.5 85.2L1316.1 84.1zM1329.2 91.1L1341.7 92.1L1344.0 86.5L1331.6 85.4zM1344.8 92.4L1357.2 93.4L1359.5 87.8L1347.1 86.7zM1360.3 93.7L1372.8 94.8L1375.0 89.1L1362.6 88.0zM1375.9 95.0L1388.3 96.1L1390.6 90.4L1378.1 89.3zM1391.5 96.3L1403.9 97.4L1406.1 91.7L1393.7 90.6zM1407.0 97.6L1419.5 98.7L1421.7 93.0L1409.2 91.9zM1422.7 98.9L1435.2 100.0L1437.3 94.3L1424.8 93.2zM1438.3 100.3L1450.8 101.3L1452.9 95.6L1440.4 94.5zM1453.9 101.6L1466.4 102.6L1468.5 96.9L1456.0 95.9zM1469.6 102.9L1482.1 103.9L1484.2 98.2L1471.7 97.2zM1485.2 104.2L1497.8 105.3L1499.8 99.5L1487.3 98.5zM1500.9 105.5L1513.5 106.6L1515.5 100.8L1503.0 99.8zM1516.6 106.8L1529.2 107.9L1531.2 102.1L1518.6 101.1zM1532.3 108.2L1544.9 109.2L1546.9 103.5L1534.3 102.4zM1548.1 109.5L1560.7 110.5L1562.6 104.8L1550.0 103.7zM1563.8 110.8L1576.4 111.9L1578.3 106.1L1565.7 105.0zM1579.6 112.1L1592.2 113.2L1594.1 107.4L1581.5 106.4zM1595.4 113.5L1608.0 114.5L1609.8 108.7L1597.2 107.7zM1611.1 114.8L1623.8 115.8L1625.6 110.1L1613.0 109.0zM1627.0 116.1L1639.6 117.2L1641.4 111.4L1628.8 110.3zM1642.8 117.4L1655.4 118.5L1657.2 112.7L1644.6 111.6zM1658.6 118.8L1671.3 119.8L1673.0 114.0L1660.4 113.0zM1674.5 120.1L1687.2 121.2L1688.9 115.4L1676.2 114.3zM1690.3 121.4L1703.0 122.5L1704.7 116.7L1692.0 115.6zM1706.2 122.8L1718.9 123.8L1720.6 118.0L1707.9 117.0zM1722.1 124.1L1734.9 125.2L1736.5 119.4L1723.8 118.3zM1738.0 125.4L1750.8 126.5L1752.4 120.7L1739.7 119.6zM1754.0 126.8L1766.7 127.8L1768.3 122.0L1755.6 121.0zM1769.9 128.1L1782.7 129.2L1784.2 123.4L1771.5 122.3zM1785.9 129.5L1798.7 130.5L1800.2 124.7L1787.4 123.6zM1801.9 130.8L1814.7 131.9L1816.1 126.0L1803.4 125.0zM1817.9 132.1L1830.7 133.2L1832.1 127.4L1819.3 126.3zM1833.9 133.5L1846.7 134.6L1848.1 128.7L1835.3 127.6zM1849.9 134.8L1862.7 135.9L1864.1 130.1L1851.3 129.0zM1866.0 136.2L1878.8 137.3L1880.2 131.4L1867.3 130.3zM1882.0 137.5L1894.9 138.6L1896.2 132.7L1883.4 131.7zM1898.1 138.9L1911.0 140.0L1912.3 134.1L1899.4 133.0zM1914.2 140.2L1927.1 141.3L1928.3 135.4L1915.5 134.4zM1930.3 141.6L1943.2 142.7L1944.4 136.8L1931.6 135.7zM1946.4 142.9L1959.3 144.0L1960.5 138.1L1947.7 137.1zM1962.5 144.3L1975.5 145.4L1976.7 139.5L1963.8 138.4zM1978.7 145.6L1991.6 146.7L1992.8 140.8L1979.9 139.8zM1994.9 147.0L2007.8 148.1L2009.0 142.2L1996.0 141.1zM2011.1 148.4L2024.0 149.5L2025.1 143.5L2012.2 142.5z" fill="#cf3d3e"/>
<path d="M1021.6 144.4L1033.8 145.5L1033.9 66.3L1021.7 65.3zM1036.8 145.7L1049.0 146.8L1049.2 67.6L1037.0 66.6zM1052.0 147.1L1064.2 148.1L1064.4 68.9L1052.2 67.8zM1067.2 148.4L1079.4 149.4L1079.7 70.1L1067.5 69.1zM1082.4 149.7L1094.6 150.7L1095.0 71.4L1082.8 70.4zM1097.6 151.0L1109.8 152.1L1110.3 72.7L1098.1 71.7zM1112.9 152.3L1125.1 153.4L1125.6 74.0L1113.4 73.0zM1128.1 153.6L1140.3 154.7L1141.0 75.3L1128.7 74.3zM1143.4 155.0L1155.6 156.0L1156.3 76.6L1144.0 75.5zM1158.7 156.3L1170.9 157.3L1171.7 77.9L1159.4 76.8zM1174.0 157.6L1186.2 158.7L1187.0 79.2L1174.7 78.1zM1189.3 158.9L1201.6 160.0L1202.4 80.5L1190.1 79.4zM1204.6 160.3L1216.9 161.3L1217.9 81.7L1205.5 80.7zM1220.0 161.6L1232.3 162.7L1233.3 83.0L1220.9 82.0zM1235.3 162.9L1247.6 164.0L1248.7 84.3L1236.4 83.3zM1250.7 164.3L1263.0 165.3L1264.2 85.6L1251.8 84.6zM1266.1 165.6L1278.4 166.6L1279.6 86.9L1267.3 85.9zM1281.5 166.9L1293.9 168.0L1295.1 88.2L1282.7 87.2zM1296.9 168.2L1309.3 169.3L1310.6 89.5L1298.2 88.5zM1312.4 169.6L1324.7 170.7L1326.1 90.8L1313.7 89.8zM1327.8 170.9L1340.2 172.0L1341.7 92.1L1329.2 91.1zM1343.3 172.3L1355.7 173.3L1357.2 93.4L1344.8 92.4zM1358.8 173.6L1371.2 174.7L1372.8 94.8L1360.3 93.7zM1374.3 174.9L1386.7 176.0L1388.3 96.1L1375.9 95.0zM1389.8 176.3L1402.2 177.4L1403.9 97.4L1391.5 96.3zM1405.3 177.6L1417.7 178.7L1419.5 98.7L1407.0 97.6zM1420.8 179.0L1433.3 180.0L1435.2 100.0L1422.7 98.9zM1436.4 180.3L1448.9 181.4L1450.8 101.3L1438.3 100.3zM1452.0 181.7L1464.4 182.7L1466.4 102.6L1453.9 101.6zM1467.6 183.0L1480.0 184.1L1482.1 103.9L1469.6 102.9zM1483.2 184.4L1495.7 185.4L1497.8 105.3L1485.2 104.2zM1498.8 185.7L1511.3 186.8L1513.5 106.6L1500.9 105.5zM1514.4 187.1L1526.9 188.1L1529.2 107.9L1516.6 106.8zM1530.1 188.4L1542.6 189.5L1544.9 109.2L1532.3 108.2zM1545.7 189.8L1558.3 190.9L1560.7 110.5L1548.1 109.5zM1561.4 191.1L1573.9 192.2L1576.4 111.9L1563.8 110.8zM1577.1 192.5L1589.7 193.6L1592.2 113.2L1579.6 112.1zM1592.8 193.8L1605.4 194.9L1608.0 114.5L1595.4 113.5zM1608.5 195.2L1621.1 196.3L1623.8 115.8L1611.1 114.8zM1624.3 196.6L1636.9 197.7L1639.6 117.2L1627.0 116.1zM1640.0 197.9L1652.6 199.0L1655.4 118.5L1642.8 117.4zM1655.8 199.3L1668.4 200.4L1671.3 119.8L1658.6 118.8zM1671.6 200.7L1684.2 201.7L1687.2 121.2L1674.5 120.1zM1687.4 202.0L1700.0 203.1L1703.0 122.5L1690.3 121.4zM1703.2 203.4L1715.9 204.5L1718.9 123.8L1706.2 122.8zM1719.0 204.8L1731.7 205.9L1734.9 125.2L1722.1 124.1zM1734.9 206.1L1747.6 207.2L1750.8 126.5L1738.0 125.4zM1750.7 207.5L1763.4 208.6L1766.7 127.8L1754.0 126.8zM1766.6 208.9L1779.3 210.0L1782.7 129.2L1769.9 128.1zM1782.5 210.2L1795.2 211.3L1798.7 130.5L1785.9 129.5zM1798.4 211.6L1811.2 212.7L1814.7 131.9L1801.9 130.8zM1814.3 213.0L1827.1 214.1L1830.7 133.2L1817.9 132.1zM1830.3 214.4L1843.0 215.5L1846.7 134.6L1833.9 133.5zM1846.2 215.8L1859.0 216.9L1862.7 135.9L1849.9 134.8zM1862.2 217.1L1875.0 218.2L1878.8 137.3L1866.0 136.2zM1878.2 218.5L1891.0 219.6L1894.9 138.6L1882.0 137.5zM1894.2 219.9L1907.0 221.0L1911.0 140.0L1898.1 138.9zM1910.2 221.3L1923.1 222.4L1927.1 141.3L1914.2 140.2zM1926.3 222.7L1939.1 223.8L1943.2 142.7L1930.3 141.6zM1942.3 224.1L1955.2 225.2L1959.3 144.0L1946.4 142.9zM1958.4 225.5L1971.2 226.6L1975.5 145.4L1962.5 144.3zM1974.5 226.9L1987.3 228.0L1991.6 146.7L1978.7 145.6zM1990.6 228.2L2003.5 229.4L2007.8 148.1L1994.9 147.0zM2006.7 229.6L2019.6 230.8L2024.0 149.5L2011.1 148.4z" fill="#e74a4a"/>
<path d="M1030.2 152.6L1033.1 146.9L1033.2 67.7L1030.4 73.3zM1045.4 154.0L1048.3 148.2L1048.5 69.0L1045.6 74.6zM1060.7 155.3L1063.5 149.5L1063.7 70.3L1060.9 75.9zM1075.9 156.6L1078.7 150.9L1079.0 71.5L1076.2 77.2zM1091.2 157.9L1093.9 152.2L1094.3 72.8L1091.6 78.5zM1106.4 159.2L1109.2 153.5L1109.6 74.1L1106.9 79.8zM1121.7 160.6L1124.4 154.8L1125.0 75.4L1122.3 81.0zM1137.0 161.9L1139.7 156.1L1140.3 76.7L1137.6 82.3zM1152.3 163.2L1155.0 157.5L1155.6 78.0L1153.0 83.6zM1167.7 164.6L1170.3 158.8L1171.0 79.3L1168.4 84.9zM1183.0 165.9L1185.6 160.1L1186.4 80.6L1183.8 86.2zM1198.4 167.2L1200.9 161.4L1201.8 81.9L1199.2 87.5zM1213.8 168.6L1216.3 162.8L1217.2 83.2L1214.7 88.8zM1229.2 169.9L1231.7 164.1L1232.6 84.5L1230.1 90.1zM1244.6 171.2L1247.0 165.4L1248.1 85.8L1245.6 91.4zM1260.0 172.6L1262.4 166.8L1263.6 87.1L1261.1 92.7zM1275.4 173.9L1277.8 168.1L1279.0 88.4L1276.6 94.0zM1290.9 175.2L1293.3 169.4L1294.5 89.7L1292.1 95.3zM1306.3 176.6L1308.7 170.8L1310.0 91.0L1307.6 96.7zM1321.8 177.9L1324.2 172.1L1325.5 92.3L1323.2 98.0zM1337.3 179.3L1339.6 173.4L1341.1 93.6L1338.8 99.3zM1352.8 180.6L1355.1 174.8L1356.6 94.9L1354.3 100.6zM1368.3 182.0L1370.6 176.1L1372.2 96.2L1369.9 101.9zM1383.9 183.3L1386.1 177.5L1387.8 97.5L1385.5 103.2zM1399.4 184.7L1401.6 178.8L1403.4 98.8L1401.2 104.5zM1415.0 186.0L1417.2 180.2L1419.0 100.1L1416.8 105.9zM1430.6 187.4L1432.8 181.5L1434.6 101.4L1432.5 107.2zM1446.2 188.7L1448.3 182.9L1450.3 102.7L1448.1 108.5zM1461.8 190.1L1463.9 184.2L1465.9 104.1L1463.8 109.8zM1477.5 191.4L1479.5 185.6L1481.6 105.4L1479.5 111.1zM1493.1 192.8L1495.1 186.9L1497.3 106.7L1495.2 112.5zM1508.8 194.1L1510.8 188.3L1513.0 108.0L1511.0 113.8zM1524.4 195.5L1526.4 189.6L1528.7 109.3L1526.7 115.1zM1540.1 196.9L1542.1 191.0L1544.4 110.7L1542.5 116.4zM1555.8 198.2L1557.8 192.3L1560.2 112.0L1558.2 117.8zM1571.6 199.6L1573.5 193.7L1575.9 113.3L1574.0 119.1zM1587.3 201.0L1589.2 195.0L1591.7 114.6L1589.8 120.4zM1603.1 202.3L1604.9 196.4L1607.5 116.0L1605.7 121.8zM1618.8 203.7L1620.7 197.8L1623.3 117.3L1621.5 123.1zM1634.6 205.1L1636.4 199.1L1639.2 118.6L1637.4 124.4zM1650.4 206.4L1652.2 200.5L1655.0 119.9L1653.2 125.8zM1666.2 207.8L1668.0 201.9L1670.9 121.3L1669.1 127.1zM1682.1 209.2L1683.8 203.2L1686.7 122.6L1685.0 128.4zM1697.9 210.6L1699.6 204.6L1702.6 124.0L1700.9 129.8zM1713.8 211.9L1715.4 206.0L1718.5 125.3L1716.9 131.1zM1729.7 213.3L1731.3 207.3L1734.5 126.6L1732.8 132.5zM1745.6 214.7L1747.2 208.7L1750.4 128.0L1748.8 133.8zM1761.5 216.1L1763.0 210.1L1766.3 129.3L1764.8 135.2zM1777.4 217.4L1778.9 211.5L1782.3 130.6L1780.8 136.5zM1793.3 218.8L1794.9 212.8L1798.3 132.0L1796.8 137.9zM1809.3 220.2L1810.8 214.2L1814.3 133.3L1812.8 139.2zM1825.3 221.6L1826.7 215.6L1830.3 134.7L1828.9 140.6zM1841.3 223.0L1842.7 217.0L1846.3 136.0L1844.9 141.9zM1857.3 224.4L1858.7 218.4L1862.4 137.4L1861.0 143.3zM1873.3 225.8L1874.7 219.7L1878.5 138.7L1877.1 144.6zM1889.3 227.2L1890.7 221.1L1894.5 140.1L1893.2 146.0zM1905.4 228.5L1906.7 222.5L1910.6 141.4L1909.3 147.3zM1921.4 229.9L1922.7 223.9L1926.7 142.8L1925.5 148.7zM1937.5 231.3L1938.8 225.3L1942.9 144.1L1941.6 150.1zM1953.6 232.7L1954.9 226.7L1959.0 145.5L1957.8 151.4zM1969.7 234.1L1970.9 228.1L1975.2 146.9L1974.0 152.8zM1985.9 235.5L1987.1 229.5L1991.3 148.2L1990.2 154.1zM2002.0 236.9L2003.2 230.9L2007.5 149.6L2006.4 155.5zM2018.2 238.3L2019.3 232.3L2023.7 150.9L2022.6 156.9z" fill="#821a20" stroke="#821a20" stroke-width="0.9" stroke-linejoin="round"/>
<path d="M1018.2 72.3L1030.4 73.3L1033.2 67.7L1021.0 66.7zM1033.4 73.6L1045.6 74.6L1048.5 69.0L1036.3 68.0zM1048.7 74.8L1060.9 75.9L1063.7 70.3L1051.5 69.2zM1064.0 76.1L1076.2 77.2L1079.0 71.5L1066.8 70.5zM1079.3 77.4L1091.6 78.5L1094.3 72.8L1082.1 71.8zM1094.6 78.7L1106.9 79.8L1109.6 74.1L1097.4 73.1zM1110.0 80.0L1122.3 81.0L1125.0 75.4L1112.7 74.4zM1125.3 81.3L1137.6 82.3L1140.3 76.7L1128.0 75.7zM1140.7 82.6L1153.0 83.6L1155.6 78.0L1143.4 77.0zM1156.1 83.9L1168.4 84.9L1171.0 79.3L1158.7 78.2zM1171.5 85.2L1183.8 86.2L1186.4 80.6L1174.1 79.5zM1186.9 86.5L1199.2 87.5L1201.8 81.9L1189.5 80.8zM1202.3 87.8L1214.7 88.8L1217.2 83.2L1204.9 82.1zM1217.8 89.1L1230.1 90.1L1232.6 84.5L1220.3 83.4zM1233.2 90.4L1245.6 91.4L1248.1 85.8L1235.7 84.7zM1248.7 91.7L1261.1 92.7L1263.6 87.1L1251.2 86.0zM1264.2 93.0L1276.6 94.0L1279.0 88.4L1266.6 87.3zM1279.7 94.3L1292.1 95.3L1294.5 89.7L1282.1 88.6zM1295.2 95.6L1307.6 96.7L1310.0 91.0L1297.6 89.9zM1310.8 96.9L1323.2 98.0L1325.5 92.3L1313.1 91.2zM1326.3 98.2L1338.8 99.3L1341.1 93.6L1328.6 92.5zM1341.9 99.5L1354.3 100.6L1356.6 94.9L1344.2 93.8zM1357.5 100.9L1369.9 101.9L1372.2 96.2L1359.7 95.1zM1373.0 102.2L1385.5 103.2L1387.8 97.5L1375.3 96.4zM1388.7 103.5L1401.2 104.5L1403.4 98.8L1390.9 97.8zM1404.3 104.8L1416.8 105.9L1419.0 100.1L1406.5 99.1zM1419.9 106.1L1432.5 107.2L1434.6 101.4L1422.1 100.4zM1435.6 107.4L1448.1 108.5L1450.3 102.7L1437.7 101.7zM1451.3 108.8L1463.8 109.8L1465.9 104.1L1453.4 103.0zM1466.9 110.1L1479.5 111.1L1481.6 105.4L1469.0 104.3zM1482.6 111.4L1495.2 112.5L1497.3 106.7L1484.7 105.6zM1498.4 112.7L1511.0 113.8L1513.0 108.0L1500.4 107.0zM1514.1 114.0L1526.7 115.1L1528.7 109.3L1516.1 108.3zM1529.9 115.4L1542.5 116.4L1544.4 110.7L1531.8 109.6zM1545.6 116.7L1558.2 117.8L1560.2 112.0L1547.6 110.9zM1561.4 118.0L1574.0 119.1L1575.9 113.3L1563.3 112.2zM1577.2 119.4L1589.8 120.4L1591.7 114.6L1579.1 113.6zM1593.0 120.7L1605.7 121.8L1607.5 116.0L1594.9 114.9zM1608.8 122.0L1621.5 123.1L1623.3 117.3L1610.7 116.2zM1624.7 123.4L1637.4 124.4L1639.2 118.6L1626.5 117.6zM1640.5 124.7L1653.2 125.8L1655.0 119.9L1642.3 118.9zM1656.4 126.0L1669.1 127.1L1670.9 121.3L1658.2 120.2zM1672.3 127.4L1685.0 128.4L1686.7 122.6L1674.0 121.5zM1688.2 128.7L1700.9 129.8L1702.6 124.0L1689.9 122.9zM1704.1 130.0L1716.9 131.1L1718.5 125.3L1705.8 124.2zM1720.1 131.4L1732.8 132.5L1734.5 126.6L1721.7 125.6zM1736.0 132.7L1748.8 133.8L1750.4 128.0L1737.6 126.9zM1752.0 134.1L1764.8 135.2L1766.3 129.3L1753.6 128.2zM1768.0 135.4L1780.8 136.5L1782.3 130.6L1769.5 129.6zM1784.0 136.8L1796.8 137.9L1798.3 132.0L1785.5 130.9zM1800.0 138.1L1812.8 139.2L1814.3 133.3L1801.5 132.3zM1816.0 139.5L1828.9 140.6L1830.3 134.7L1817.5 133.6zM1832.1 140.8L1844.9 141.9L1846.3 136.0L1833.5 134.9zM1848.1 142.2L1861.0 143.3L1862.4 137.4L1849.6 136.3zM1864.2 143.5L1877.1 144.6L1878.5 138.7L1865.6 137.6zM1880.3 144.9L1893.2 146.0L1894.5 140.1L1881.7 139.0zM1896.4 146.2L1909.3 147.3L1910.6 141.4L1897.8 140.3zM1912.5 147.6L1925.5 148.7L1926.7 142.8L1913.9 141.7zM1928.7 149.0L1941.6 150.1L1942.9 144.1L1930.0 143.1zM1944.8 150.3L1957.8 151.4L1959.0 145.5L1946.1 144.4zM1961.0 151.7L1974.0 152.8L1975.2 146.9L1962.2 145.8zM1977.2 153.0L1990.2 154.1L1991.3 148.2L1978.4 147.1zM1993.4 154.4L2006.4 155.5L2007.5 149.6L1994.6 148.5zM2009.6 155.8L2022.6 156.9L2023.7 150.9L2010.8 149.8z" fill="#cf3d3e"/>
<path d="M1018.1 151.6L1030.2 152.6L1030.4 73.3L1018.2 72.3zM1033.3 152.9L1045.4 154.0L1045.6 74.6L1033.4 73.6zM1048.5 154.2L1060.7 155.3L1060.9 75.9L1048.7 74.8zM1063.7 155.5L1075.9 156.6L1076.2 77.2L1064.0 76.1zM1079.0 156.9L1091.2 157.9L1091.6 78.5L1079.3 77.4zM1094.2 158.2L1106.4 159.2L1106.9 79.8L1094.6 78.7zM1109.5 159.5L1121.7 160.6L1122.3 81.0L1110.0 80.0zM1124.8 160.8L1137.0 161.9L1137.6 82.3L1125.3 81.3zM1140.1 162.2L1152.3 163.2L1153.0 83.6L1140.7 82.6zM1155.4 163.5L1167.7 164.6L1168.4 84.9L1156.1 83.9zM1170.7 164.8L1183.0 165.9L1183.8 86.2L1171.5 85.2zM1186.1 166.2L1198.4 167.2L1199.2 87.5L1186.9 86.5zM1201.5 167.5L1213.8 168.6L1214.7 88.8L1202.3 87.8zM1216.8 168.8L1229.2 169.9L1230.1 90.1L1217.8 89.1zM1232.2 170.2L1244.6 171.2L1245.6 91.4L1233.2 90.4zM1247.6 171.5L1260.0 172.6L1261.1 92.7L1248.7 91.7zM1263.1 172.8L1275.4 173.9L1276.6 94.0L1264.2 93.0zM1278.5 174.2L1290.9 175.2L1292.1 95.3L1279.7 94.3zM1294.0 175.5L1306.3 176.6L1307.6 96.7L1295.2 95.6zM1309.4 176.9L1321.8 177.9L1323.2 98.0L1310.8 96.9zM1324.9 178.2L1337.3 179.3L1338.8 99.3L1326.3 98.2zM1340.4 179.5L1352.8 180.6L1354.3 100.6L1341.9 99.5zM1355.9 180.9L1368.3 182.0L1369.9 101.9L1357.5 100.9zM1371.5 182.2L1383.9 183.3L1385.5 103.2L1373.0 102.2zM1387.0 183.6L1399.4 184.7L1401.2 104.5L1388.7 103.5zM1402.6 184.9L1415.0 186.0L1416.8 105.9L1404.3 104.8zM1418.1 186.3L1430.6 187.4L1432.5 107.2L1419.9 106.1zM1433.7 187.6L1446.2 188.7L1448.1 108.5L1435.6 107.4zM1449.3 189.0L1461.8 190.1L1463.8 109.8L1451.3 108.8zM1464.9 190.3L1477.5 191.4L1479.5 111.1L1466.9 110.1zM1480.6 191.7L1493.1 192.8L1495.2 112.5L1482.6 111.4zM1496.2 193.1L1508.8 194.1L1511.0 113.8L1498.4 112.7zM1511.9 194.4L1524.4 195.5L1526.7 115.1L1514.1 114.0zM1527.6 195.8L1540.1 196.9L1542.5 116.4L1529.9 115.4zM1543.3 197.1L1555.8 198.2L1558.2 117.8L1545.6 116.7zM1559.0 198.5L1571.6 199.6L1574.0 119.1L1561.4 118.0zM1574.7 199.9L1587.3 201.0L1589.8 120.4L1577.2 119.4zM1590.5 201.2L1603.1 202.3L1605.7 121.8L1593.0 120.7zM1606.2 202.6L1618.8 203.7L1621.5 123.1L1608.8 122.0zM1622.0 204.0L1634.6 205.1L1637.4 124.4L1624.7 123.4zM1637.8 205.3L1650.4 206.4L1653.2 125.8L1640.5 124.7zM1653.6 206.7L1666.2 207.8L1669.1 127.1L1656.4 126.0zM1669.4 208.1L1682.1 209.2L1685.0 128.4L1672.3 127.4zM1685.2 209.5L1697.9 210.6L1700.9 129.8L1688.2 128.7zM1701.1 210.8L1713.8 211.9L1716.9 131.1L1704.1 130.0zM1717.0 212.2L1729.7 213.3L1732.8 132.5L1720.1 131.4zM1732.8 213.6L1745.6 214.7L1748.8 133.8L1736.0 132.7zM1748.7 215.0L1761.5 216.1L1764.8 135.2L1752.0 134.1zM1764.7 216.3L1777.4 217.4L1780.8 136.5L1768.0 135.4zM1780.6 217.7L1793.3 218.8L1796.8 137.9L1784.0 136.8zM1796.5 219.1L1809.3 220.2L1812.8 139.2L1800.0 138.1zM1812.5 220.5L1825.3 221.6L1828.9 140.6L1816.0 139.5zM1828.5 221.9L1841.3 223.0L1844.9 141.9L1832.1 140.8zM1844.5 223.3L1857.3 224.4L1861.0 143.3L1848.1 142.2zM1860.5 224.6L1873.3 225.8L1877.1 144.6L1864.2 143.5zM1876.5 226.0L1889.3 227.2L1893.2 146.0L1880.3 144.9zM1892.5 227.4L1905.4 228.5L1909.3 147.3L1896.4 146.2zM1908.6 228.8L1921.4 229.9L1925.5 148.7L1912.5 147.6zM1924.7 230.2L1937.5 231.3L1941.6 150.1L1928.7 149.0zM1940.7 231.6L1953.6 232.7L1957.8 151.4L1944.8 150.3zM1956.9 233.0L1969.7 234.1L1974.0 152.8L1961.0 151.7zM1973.0 234.4L1985.9 235.5L1990.2 154.1L1977.2 153.0zM1989.1 235.8L2002.0 236.9L2006.4 155.5L1993.4 154.4zM2005.3 237.2L2018.2 238.3L2022.6 156.9L2009.6 155.8z" fill="#e74a4a"/>
<path d="M1396.7 192.0L1398.9 186.1L1400.4 117.7L1398.1 123.5zM1412.3 193.4L1414.5 187.5L1416.0 119.0L1413.8 124.8zM1427.9 194.7L1430.1 188.8L1431.6 120.4L1429.5 126.2zM1443.5 196.1L1445.7 190.2L1447.3 121.7L1445.2 127.5zM1459.2 197.4L1461.3 191.5L1463.0 123.0L1460.9 128.8zM1474.9 198.8L1476.9 192.9L1478.7 124.4L1476.6 130.2zM1490.5 200.2L1492.6 194.3L1494.4 125.7L1492.3 131.5zM1506.2 201.5L1508.3 195.6L1510.1 127.0L1508.1 132.8zM1521.9 202.9L1523.9 197.0L1525.9 128.3L1523.9 134.2zM1537.7 204.3L1539.6 198.3L1541.6 129.7L1539.7 135.5zM1553.4 205.6L1555.4 199.7L1557.4 131.0L1555.5 136.8zM1569.2 207.0L1571.1 201.1L1573.2 132.4L1571.3 138.2zM1584.9 208.4L1586.8 202.4L1589.0 133.7L1587.1 139.5zM1600.7 209.8L1602.6 203.8L1604.8 135.0L1603.0 140.9zM1616.5 211.1L1618.4 205.2L1620.7 136.4L1618.8 142.2zM1632.4 212.5L1634.2 206.5L1636.5 137.7L1634.7 143.6zM1648.2 213.9L1650.0 207.9L1652.4 139.1L1650.6 144.9zM1664.1 215.3L1665.8 209.3L1668.3 140.4L1666.5 146.3zM1679.9 216.6L1681.6 210.7L1684.2 141.7L1682.4 147.6zM1695.8 218.0L1697.5 212.0L1700.1 143.1L1698.4 149.0zM1711.7 219.4L1713.4 213.4L1716.0 144.4L1714.3 150.3zM1727.6 220.8L1729.3 214.8L1732.0 145.8L1730.3 151.7zM1743.5 222.2L1745.2 216.2L1747.9 147.1L1746.3 153.0zM1759.5 223.6L1761.1 217.6L1763.9 148.5L1762.3 154.4zM1775.5 224.9L1777.0 218.9L1779.9 149.8L1778.3 155.7zM1791.4 226.3L1793.0 220.3L1795.9 151.2L1794.4 157.1zM1807.4 227.7L1808.9 221.7L1811.9 152.6L1810.4 158.5zM1823.4 229.1L1824.9 223.1L1828.0 153.9L1826.5 159.8zM1839.5 230.5L1840.9 224.5L1844.0 155.3L1842.6 161.2zM1855.5 231.9L1856.9 225.9L1860.1 156.6L1858.7 162.6zM1871.6 233.3L1872.9 227.3L1876.2 158.0L1874.8 163.9zM1887.6 234.7L1889.0 228.7L1892.3 159.4L1890.9 165.3zM1903.7 236.1L1905.0 230.1L1908.4 160.7L1907.1 166.7zM1919.8 237.5L1921.1 231.4L1924.5 162.1L1923.3 168.0zM1936.0 238.9L1937.2 232.8L1940.7 163.5L1939.4 169.4zM1952.1 240.3L1953.3 234.2L1956.9 164.8L1955.6 170.8zM1968.2 241.7L1969.4 235.6L1973.1 166.2L1971.9 172.2zM1984.4 243.1L1985.6 237.0L1989.3 167.6L1988.1 173.5zM2000.6 244.5L2001.7 238.4L2005.5 168.9L2004.3 174.9zM2016.8 245.9L2017.9 239.8L2021.7 170.3L2020.6 176.3z" fill="#7a3f14" stroke="#7a3f14" stroke-width="0.9" stroke-linejoin="round"/>
<path d="M1385.6 122.4L1398.1 123.5L1400.4 117.7L1387.9 116.7zM1401.3 123.8L1413.8 124.8L1416.0 119.0L1403.5 118.0zM1416.9 125.1L1429.5 126.2L1431.6 120.4L1419.1 119.3zM1432.6 126.4L1445.2 127.5L1447.3 121.7L1434.8 120.6zM1448.3 127.8L1460.9 128.8L1463.0 123.0L1450.4 122.0zM1464.0 129.1L1476.6 130.2L1478.7 124.4L1466.1 123.3zM1479.7 130.4L1492.3 131.5L1494.4 125.7L1481.8 124.6zM1495.5 131.8L1508.1 132.8L1510.1 127.0L1497.5 125.9zM1511.3 133.1L1523.9 134.2L1525.9 128.3L1513.3 127.3zM1527.0 134.4L1539.7 135.5L1541.6 129.7L1529.0 128.6zM1542.8 135.8L1555.5 136.8L1557.4 131.0L1544.8 129.9zM1558.6 137.1L1571.3 138.2L1573.2 132.4L1560.6 131.3zM1574.4 138.5L1587.1 139.5L1589.0 133.7L1576.4 132.6zM1590.3 139.8L1603.0 140.9L1604.8 135.0L1592.2 134.0zM1606.1 141.1L1618.8 142.2L1620.7 136.4L1608.0 135.3zM1622.0 142.5L1634.7 143.6L1636.5 137.7L1623.8 136.6zM1637.9 143.8L1650.6 144.9L1652.4 139.1L1639.7 138.0zM1653.8 145.2L1666.5 146.3L1668.3 140.4L1655.6 139.3zM1669.7 146.5L1682.4 147.6L1684.2 141.7L1671.4 140.7zM1685.6 147.9L1698.4 149.0L1700.1 143.1L1687.3 142.0zM1701.6 149.2L1714.3 150.3L1716.0 144.4L1703.3 143.4zM1717.5 150.6L1730.3 151.7L1732.0 145.8L1719.2 144.7zM1733.5 151.9L1746.3 153.0L1747.9 147.1L1735.1 146.1zM1749.5 153.3L1762.3 154.4L1763.9 148.5L1751.1 147.4zM1765.5 154.7L1778.3 155.7L1779.9 149.8L1767.1 148.8zM1781.5 156.0L1794.4 157.1L1795.9 151.2L1783.1 150.1zM1797.6 157.4L1810.4 158.5L1811.9 152.6L1799.1 151.5zM1813.6 158.7L1826.5 159.8L1828.0 153.9L1815.1 152.8zM1829.7 160.1L1842.6 161.2L1844.0 155.3L1831.2 154.2zM1845.8 161.5L1858.7 162.6L1860.1 156.6L1847.2 155.5zM1861.9 162.8L1874.8 163.9L1876.2 158.0L1863.3 156.9zM1878.0 164.2L1890.9 165.3L1892.3 159.4L1879.4 158.3zM1894.2 165.6L1907.1 166.7L1908.4 160.7L1895.5 159.6zM1910.3 166.9L1923.3 168.0L1924.5 162.1L1911.6 161.0zM1926.5 168.3L1939.4 169.4L1940.7 163.5L1927.8 162.4zM1942.7 169.7L1955.6 170.8L1956.9 164.8L1943.9 163.7zM1958.9 171.1L1971.9 172.2L1973.1 166.2L1960.1 165.1zM1975.1 172.4L1988.1 173.5L1989.3 167.6L1976.3 166.5zM1991.3 173.8L2004.3 174.9L2005.5 168.9L1992.5 167.8zM2007.6 175.2L2020.6 176.3L2021.7 170.3L2008.7 169.2z" fill="#c9854a"/>
<path d="M1384.2 190.9L1396.7 192.0L1398.1 123.5L1385.6 122.4zM1399.8 192.3L1412.3 193.4L1413.8 124.8L1401.3 123.8zM1415.4 193.6L1427.9 194.7L1429.5 126.2L1416.9 125.1zM1431.0 195.0L1443.5 196.1L1445.2 127.5L1432.6 126.4zM1446.7 196.4L1459.2 197.4L1460.9 128.8L1448.3 127.8zM1462.3 197.7L1474.9 198.8L1476.6 130.2L1464.0 129.1zM1478.0 199.1L1490.5 200.2L1492.3 131.5L1479.7 130.4zM1493.7 200.4L1506.2 201.5L1508.1 132.8L1495.5 131.8zM1509.4 201.8L1521.9 202.9L1523.9 134.2L1511.3 133.1zM1525.1 203.2L1537.7 204.3L1539.7 135.5L1527.0 134.4zM1540.8 204.5L1553.4 205.6L1555.5 136.8L1542.8 135.8zM1556.6 205.9L1569.2 207.0L1571.3 138.2L1558.6 137.1zM1572.3 207.3L1584.9 208.4L1587.1 139.5L1574.4 138.5zM1588.1 208.7L1600.7 209.8L1603.0 140.9L1590.3 139.8zM1603.9 210.0L1616.5 211.1L1618.8 142.2L1606.1 141.1zM1619.7 211.4L1632.4 212.5L1634.7 143.6L1622.0 142.5zM1635.5 212.8L1648.2 213.9L1650.6 144.9L1637.9 143.8zM1651.4 214.2L1664.1 215.3L1666.5 146.3L1653.8 145.2zM1667.2 215.5L1679.9 216.6L1682.4 147.6L1669.7 146.5zM1683.1 216.9L1695.8 218.0L1698.4 149.0L1685.6 147.9zM1699.0 218.3L1711.7 219.4L1714.3 150.3L1701.6 149.2zM1714.9 219.7L1727.6 220.8L1730.3 151.7L1717.5 150.6zM1730.8 221.1L1743.5 222.2L1746.3 153.0L1733.5 151.9zM1746.7 222.5L1759.5 223.6L1762.3 154.4L1749.5 153.3zM1762.7 223.8L1775.5 224.9L1778.3 155.7L1765.5 154.7zM1778.7 225.2L1791.4 226.3L1794.4 157.1L1781.5 156.0zM1794.6 226.6L1807.4 227.7L1810.4 158.5L1797.6 157.4zM1810.6 228.0L1823.4 229.1L1826.5 159.8L1813.6 158.7zM1826.6 229.4L1839.5 230.5L1842.6 161.2L1829.7 160.1zM1842.7 230.8L1855.5 231.9L1858.7 162.6L1845.8 161.5zM1858.7 232.2L1871.6 233.3L1874.8 163.9L1861.9 162.8zM1874.8 233.6L1887.6 234.7L1890.9 165.3L1878.0 164.2zM1890.9 235.0L1903.7 236.1L1907.1 166.7L1894.2 165.6zM1906.9 236.4L1919.8 237.5L1923.3 168.0L1910.3 166.9zM1923.1 237.8L1936.0 238.9L1939.4 169.4L1926.5 168.3zM1939.2 239.2L1952.1 240.3L1955.6 170.8L1942.7 169.7zM1955.3 240.6L1968.2 241.7L1971.9 172.2L1958.9 171.1zM1971.5 242.0L1984.4 243.1L1988.1 173.5L1975.1 172.4zM1987.6 243.4L2000.6 244.5L2004.3 174.9L1991.3 173.8zM2003.8 244.8L2016.8 245.9L2020.6 176.3L2007.6 175.2z" fill="#e08f50"/>
<path d="M1026.7 159.8L1029.5 154.1L1029.7 74.7L1026.8 80.3zM1041.9 161.2L1044.7 155.4L1044.9 76.0L1042.1 81.6zM1057.2 162.5L1060.0 156.7L1060.2 77.3L1057.4 82.9zM1072.4 163.8L1075.2 158.0L1075.6 78.6L1072.8 84.2zM1087.7 165.1L1090.5 159.4L1090.9 79.9L1088.1 85.5zM1103.0 166.5L1105.8 160.7L1106.2 81.2L1103.5 86.8zM1118.4 167.8L1121.1 162.0L1121.6 82.5L1118.9 88.1zM1133.7 169.1L1136.4 163.3L1137.0 83.8L1134.3 89.4zM1149.0 170.5L1151.7 164.7L1152.3 85.0L1149.7 90.7zM1164.4 171.8L1167.0 166.0L1167.7 86.3L1165.1 92.0zM1179.8 173.1L1182.4 167.3L1183.2 87.6L1180.6 93.3zM1195.2 174.5L1197.7 168.7L1198.6 88.9L1196.0 94.6zM1210.6 175.8L1213.1 170.0L1214.0 90.2L1211.5 95.9zM1226.0 177.2L1228.5 171.3L1229.5 91.6L1227.0 97.3zM1241.5 178.5L1243.9 172.7L1245.0 92.9L1242.5 98.6zM1256.9 179.8L1259.4 174.0L1260.5 94.2L1258.0 99.9zM1272.4 181.2L1274.8 175.4L1276.0 95.5L1273.6 101.2zM1287.9 182.5L1290.3 176.7L1291.5 96.8L1289.1 102.5zM1303.4 183.9L1305.7 178.0L1307.1 98.1L1304.7 103.8zM1318.9 185.2L1321.2 179.4L1322.6 99.4L1320.2 105.1zM1334.4 186.6L1336.7 180.7L1338.2 100.7L1335.8 106.4zM1349.9 187.9L1352.2 182.1L1353.8 102.0L1351.5 107.8zM1365.5 189.3L1367.8 183.4L1369.4 103.3L1367.1 109.1zM1381.1 190.6L1383.3 184.8L1385.0 104.7L1382.7 110.4z" fill="#821a20" stroke="#821a20" stroke-width="0.9" stroke-linejoin="round"/>
<path d="M1014.6 79.3L1026.8 80.3L1029.7 74.7L1017.4 73.7zM1029.9 80.6L1042.1 81.6L1044.9 76.0L1032.7 75.0zM1045.2 81.9L1057.4 82.9L1060.2 77.3L1048.0 76.3zM1060.5 83.2L1072.8 84.2L1075.6 78.6L1063.3 77.5zM1075.8 84.5L1088.1 85.5L1090.9 79.9L1078.6 78.8zM1091.2 85.8L1103.5 86.8L1106.2 81.2L1093.9 80.1zM1106.6 87.1L1118.9 88.1L1121.6 82.5L1109.3 81.4zM1122.0 88.4L1134.3 89.4L1137.0 83.8L1124.7 82.7zM1137.4 89.7L1149.7 90.7L1152.3 85.0L1140.0 84.0zM1152.8 91.0L1165.1 92.0L1167.7 86.3L1155.4 85.3zM1168.2 92.3L1180.6 93.3L1183.2 87.6L1170.8 86.6zM1183.7 93.6L1196.0 94.6L1198.6 88.9L1186.3 87.9zM1199.1 94.9L1211.5 95.9L1214.0 90.2L1201.7 89.2zM1214.6 96.2L1227.0 97.3L1229.5 91.6L1217.1 90.5zM1230.1 97.5L1242.5 98.6L1245.0 92.9L1232.6 91.8zM1245.6 98.8L1258.0 99.9L1260.5 94.2L1248.1 93.1zM1261.1 100.1L1273.6 101.2L1276.0 95.5L1263.6 94.4zM1276.7 101.4L1289.1 102.5L1291.5 96.8L1279.1 95.7zM1292.2 102.8L1304.7 103.8L1307.1 98.1L1294.6 97.0zM1307.8 104.1L1320.2 105.1L1322.6 99.4L1310.2 98.3zM1323.4 105.4L1335.8 106.4L1338.2 100.7L1325.7 99.7zM1339.0 106.7L1351.5 107.8L1353.8 102.0L1341.3 101.0zM1354.6 108.0L1367.1 109.1L1369.4 103.3L1356.9 102.3zM1370.2 109.3L1382.7 110.4L1385.0 104.7L1372.5 103.6z" fill="#cf3d3e"/>
<path d="M1014.5 158.8L1026.7 159.8L1026.8 80.3L1014.6 79.3zM1029.7 160.1L1041.9 161.2L1042.1 81.6L1029.9 80.6zM1045.0 161.4L1057.2 162.5L1057.4 82.9L1045.2 81.9zM1060.2 162.7L1072.4 163.8L1072.8 84.2L1060.5 83.2zM1075.5 164.1L1087.7 165.1L1088.1 85.5L1075.8 84.5zM1090.8 165.4L1103.0 166.5L1103.5 86.8L1091.2 85.8zM1106.1 166.7L1118.4 167.8L1118.9 88.1L1106.6 87.1zM1121.4 168.1L1133.7 169.1L1134.3 89.4L1122.0 88.4zM1136.8 169.4L1149.0 170.5L1149.7 90.7L1137.4 89.7zM1152.1 170.7L1164.4 171.8L1165.1 92.0L1152.8 91.0zM1167.5 172.1L1179.8 173.1L1180.6 93.3L1168.2 92.3zM1182.9 173.4L1195.2 174.5L1196.0 94.6L1183.7 93.6zM1198.3 174.7L1210.6 175.8L1211.5 95.9L1199.1 94.9zM1213.7 176.1L1226.0 177.2L1227.0 97.3L1214.6 96.2zM1229.1 177.4L1241.5 178.5L1242.5 98.6L1230.1 97.5zM1244.5 178.8L1256.9 179.8L1258.0 99.9L1245.6 98.8zM1260.0 180.1L1272.4 181.2L1273.6 101.2L1261.1 100.1zM1275.5 181.5L1287.9 182.5L1289.1 102.5L1276.7 101.4zM1291.0 182.8L1303.4 183.9L1304.7 103.8L1292.2 102.8zM1306.5 184.2L1318.9 185.2L1320.2 105.1L1307.8 104.1zM1322.0 185.5L1334.4 186.6L1335.8 106.4L1323.4 105.4zM1337.5 186.9L1349.9 187.9L1351.5 107.8L1339.0 106.7zM1353.1 188.2L1365.5 189.3L1367.1 109.1L1354.6 108.0zM1368.6 189.6L1381.1 190.6L1382.7 110.4L1370.2 109.3z" fill="#e74a4a"/>
<path d="M1023.1 167.0L1026.0 161.3L1026.1 93.4L1023.2 99.1zM1038.4 168.4L1041.2 162.6L1041.4 94.7L1038.5 100.4zM1053.7 169.7L1056.5 163.9L1056.7 96.0L1053.9 101.7zM1069.0 171.0L1071.8 165.3L1072.0 97.3L1069.2 103.0zM1084.3 172.4L1087.0 166.6L1087.4 98.6L1084.6 104.3zM1099.6 173.7L1102.4 167.9L1102.7 99.9L1100.0 105.6zM1115.0 175.1L1117.7 169.2L1118.1 101.2L1115.4 106.9zM1130.3 176.4L1133.0 170.6L1133.5 102.5L1130.8 108.2zM1145.7 177.7L1148.4 171.9L1148.9 103.8L1146.3 109.6zM1161.1 179.1L1163.8 173.3L1164.4 105.2L1161.7 110.9zM1176.5 180.4L1179.1 174.6L1179.8 106.5L1177.2 112.2zM1192.0 181.8L1194.5 175.9L1195.3 107.8L1192.7 113.5zM1207.4 183.1L1210.0 177.3L1210.7 109.1L1208.2 114.8zM1222.9 184.5L1225.4 178.6L1226.2 110.4L1223.7 116.1zM1238.3 185.8L1240.8 180.0L1241.7 111.7L1239.2 117.5zM1253.8 187.2L1256.3 181.3L1257.2 113.0L1254.8 118.8zM1269.3 188.5L1271.8 182.7L1272.8 114.4L1270.3 120.1zM1284.8 189.9L1287.3 184.0L1288.3 115.7L1285.9 121.4zM1300.4 191.2L1302.8 185.4L1303.9 117.0L1301.5 122.8zM1315.9 192.6L1318.3 186.7L1319.5 118.3L1317.1 124.1zM1331.5 193.9L1333.8 188.1L1335.1 119.6L1332.7 125.4zM1347.1 195.3L1349.4 189.4L1350.7 121.0L1348.3 126.7zM1362.7 196.7L1364.9 190.8L1366.3 122.3L1364.0 128.1zM1378.3 198.0L1380.5 192.1L1381.9 123.6L1379.7 129.4zM1393.9 199.4L1396.1 193.5L1397.6 124.9L1395.3 130.7zM1409.5 200.7L1411.7 194.8L1413.2 126.3L1411.0 132.1zM1425.2 202.1L1427.4 196.2L1428.9 127.6L1426.8 133.4zM1440.9 203.5L1443.0 197.6L1444.6 128.9L1442.5 134.8zM1456.5 204.8L1458.7 198.9L1460.3 130.3L1458.2 136.1zM1472.2 206.2L1474.3 200.3L1476.1 131.6L1474.0 137.4zM1488.0 207.6L1490.0 201.6L1491.8 132.9L1489.8 138.8zM1503.7 209.0L1505.7 203.0L1507.6 134.3L1505.5 140.1zM1519.4 210.3L1521.4 204.4L1523.4 135.6L1521.4 141.5zM1535.2 211.7L1537.2 205.8L1539.2 137.0L1537.2 142.8zM1551.0 213.1L1552.9 207.1L1555.0 138.3L1553.0 144.2zM1566.8 214.5L1568.7 208.5L1570.8 139.6L1568.9 145.5zM1582.6 215.8L1584.5 209.9L1586.6 141.0L1584.7 146.9zM1598.4 217.2L1600.3 211.2L1602.5 142.3L1600.6 148.2zM1614.2 218.6L1616.1 212.6L1618.4 143.7L1616.5 149.6zM1630.1 220.0L1631.9 214.0L1634.2 145.0L1632.4 150.9zM1646.0 221.4L1647.8 215.4L1650.2 146.4L1648.4 152.3zM1661.9 222.8L1663.6 216.8L1666.1 147.7L1664.3 153.6zM1677.8 224.1L1679.5 218.1L1682.0 149.1L1680.3 155.0zM1693.7 225.5L1695.4 219.5L1698.0 150.4L1696.3 156.3zM1709.6 226.9L1711.3 220.9L1713.9 151.8L1712.2 157.7zM1725.6 228.3L1727.2 222.3L1729.9 153.1L1728.3 159.1zM1741.5 229.7L1743.1 223.7L1745.9 154.5L1744.3 160.4zM1757.5 231.1L1759.1 225.1L1761.9 155.9L1760.3 161.8zM1773.5 232.5L1775.1 226.5L1777.9 157.2L1776.4 163.2zM1789.5 233.9L1791.1 227.8L1794.0 158.6L1792.5 164.5zM1805.6 235.3L1807.1 229.2L1810.1 159.9L1808.6 165.9zM1821.6 236.7L1823.1 230.6L1826.1 161.3L1824.7 167.3zM1837.7 238.1L1839.1 232.0L1842.2 162.7L1840.8 168.6zM1853.7 239.5L1855.2 233.4L1858.3 164.0L1856.9 170.0zM1869.8 240.9L1871.2 234.8L1874.5 165.4L1873.1 171.4zM1885.9 242.3L1887.3 236.2L1890.6 166.8L1889.2 172.8zM1902.1 243.7L1903.4 237.6L1906.8 168.2L1905.4 174.1zM1918.2 245.1L1919.5 239.0L1922.9 169.5L1921.6 175.5zM1934.4 246.5L1935.6 240.4L1939.1 170.9L1937.9 176.9zM1950.5 247.9L1951.8 241.8L1955.3 172.3L1954.1 178.3zM1966.7 249.3L1967.9 243.2L1971.5 173.7L1970.3 179.7zM1982.9 250.8L1984.1 244.6L1987.8 175.0L1986.6 181.0zM1999.2 252.2L2000.3 246.1L2004.0 176.4L2002.9 182.4zM2015.4 253.6L2016.5 247.5L2020.3 177.8L2019.2 183.8z" fill="#7a3f14" stroke="#7a3f14" stroke-width="0.9" stroke-linejoin="round"/>
<path d="M1010.9 98.0L1023.2 99.1L1026.1 93.4L1013.8 92.4zM1026.3 99.4L1038.5 100.4L1041.4 94.7L1029.1 93.7zM1041.6 100.7L1053.9 101.7L1056.7 96.0L1044.4 95.0zM1056.9 102.0L1069.2 103.0L1072.0 97.3L1059.8 96.3zM1072.3 103.3L1084.6 104.3L1087.4 98.6L1075.1 97.6zM1087.7 104.6L1100.0 105.6L1102.7 99.9L1090.4 98.9zM1103.1 105.9L1115.4 106.9L1118.1 101.2L1105.8 100.2zM1118.5 107.2L1130.8 108.2L1133.5 102.5L1121.2 101.5zM1133.9 108.5L1146.3 109.6L1148.9 103.8L1136.6 102.8zM1149.4 109.8L1161.7 110.9L1164.4 105.2L1152.0 104.1zM1164.8 111.1L1177.2 112.2L1179.8 106.5L1167.4 105.4zM1180.3 112.5L1192.7 113.5L1195.3 107.8L1182.9 106.7zM1195.8 113.8L1208.2 114.8L1210.7 109.1L1198.4 108.0zM1211.3 115.1L1223.7 116.1L1226.2 110.4L1213.8 109.3zM1226.8 116.4L1239.2 117.5L1241.7 111.7L1229.3 110.7zM1242.3 117.7L1254.8 118.8L1257.2 113.0L1244.8 112.0zM1257.9 119.1L1270.3 120.1L1272.8 114.4L1260.3 113.3zM1273.4 120.4L1285.9 121.4L1288.3 115.7L1275.9 114.6zM1289.0 121.7L1301.5 122.8L1303.9 117.0L1291.4 115.9zM1304.6 123.0L1317.1 124.1L1319.5 118.3L1307.0 117.3zM1320.2 124.4L1332.7 125.4L1335.1 119.6L1322.6 118.6zM1335.8 125.7L1348.3 126.7L1350.7 121.0L1338.2 119.9zM1351.5 127.0L1364.0 128.1L1366.3 122.3L1353.8 121.2zM1367.1 128.3L1379.7 129.4L1381.9 123.6L1369.4 122.6zM1382.8 129.7L1395.3 130.7L1397.6 124.9L1385.1 123.9zM1398.5 131.0L1411.0 132.1L1413.2 126.3L1400.7 125.2zM1414.2 132.3L1426.8 133.4L1428.9 127.6L1416.4 126.5zM1429.9 133.7L1442.5 134.8L1444.6 128.9L1432.1 127.9zM1445.6 135.0L1458.2 136.1L1460.3 130.3L1447.8 129.2zM1461.4 136.4L1474.0 137.4L1476.1 131.6L1463.5 130.5zM1477.1 137.7L1489.8 138.8L1491.8 132.9L1479.2 131.9zM1492.9 139.0L1505.5 140.1L1507.6 134.3L1495.0 133.2zM1508.7 140.4L1521.4 141.5L1523.4 135.6L1510.7 134.5zM1524.5 141.7L1537.2 142.8L1539.2 137.0L1526.5 135.9zM1540.3 143.1L1553.0 144.2L1555.0 138.3L1542.3 137.2zM1556.2 144.4L1568.9 145.5L1570.8 139.6L1558.1 138.6zM1572.0 145.8L1584.7 146.9L1586.6 141.0L1574.0 139.9zM1587.9 147.1L1600.6 148.2L1602.5 142.3L1589.8 141.3zM1603.8 148.5L1616.5 149.6L1618.4 143.7L1605.7 142.6zM1619.7 149.8L1632.4 150.9L1634.2 145.0L1621.5 144.0zM1635.6 151.2L1648.4 152.3L1650.2 146.4L1637.4 145.3zM1651.6 152.5L1664.3 153.6L1666.1 147.7L1653.3 146.6zM1667.5 153.9L1680.3 155.0L1682.0 149.1L1669.3 148.0zM1683.5 155.3L1696.3 156.3L1698.0 150.4L1685.2 149.4zM1699.5 156.6L1712.2 157.7L1713.9 151.8L1701.1 150.7zM1715.4 158.0L1728.3 159.1L1729.9 153.1L1717.1 152.1zM1731.5 159.3L1744.3 160.4L1745.9 154.5L1733.1 153.4zM1747.5 160.7L1760.3 161.8L1761.9 155.9L1749.1 154.8zM1763.5 162.1L1776.4 163.2L1777.9 157.2L1765.1 156.1zM1779.6 163.4L1792.5 164.5L1794.0 158.6L1781.2 157.5zM1795.7 164.8L1808.6 165.9L1810.1 159.9L1797.2 158.9zM1811.8 166.2L1824.7 167.3L1826.1 161.3L1813.3 160.2zM1827.9 167.5L1840.8 168.6L1842.2 162.7L1829.3 161.6zM1844.0 168.9L1856.9 170.0L1858.3 164.0L1845.4 163.0zM1860.1 170.3L1873.1 171.4L1874.5 165.4L1861.6 164.3zM1876.3 171.7L1889.2 172.8L1890.6 166.8L1877.7 165.7zM1892.5 173.0L1905.4 174.1L1906.8 168.2L1893.8 167.1zM1908.7 174.4L1921.6 175.5L1922.9 169.5L1910.0 168.4zM1924.9 175.8L1937.9 176.9L1939.1 170.9L1926.2 169.8zM1941.1 177.2L1954.1 178.3L1955.3 172.3L1942.4 171.2zM1957.3 178.5L1970.3 179.7L1971.5 173.7L1958.6 172.6zM1973.6 179.9L1986.6 181.0L1987.8 175.0L1974.8 173.9zM1989.9 181.3L2002.9 182.4L2004.0 176.4L1991.0 175.3zM2006.1 182.7L2019.2 183.8L2020.3 177.8L2007.3 176.7z" fill="#c9854a"/>
<path d="M1010.9 166.0L1023.1 167.0L1023.2 99.1L1010.9 98.0zM1026.1 167.3L1038.4 168.4L1038.5 100.4L1026.3 99.4zM1041.4 168.6L1053.7 169.7L1053.9 101.7L1041.6 100.7zM1056.7 170.0L1069.0 171.0L1069.2 103.0L1056.9 102.0zM1072.0 171.3L1084.3 172.4L1084.6 104.3L1072.3 103.3zM1087.4 172.6L1099.6 173.7L1100.0 105.6L1087.7 104.6zM1102.7 174.0L1115.0 175.1L1115.4 106.9L1103.1 105.9zM1118.1 175.3L1130.3 176.4L1130.8 108.2L1118.5 107.2zM1133.4 176.7L1145.7 177.7L1146.3 109.6L1133.9 108.5zM1148.8 178.0L1161.1 179.1L1161.7 110.9L1149.4 109.8zM1164.2 179.4L1176.5 180.4L1177.2 112.2L1164.8 111.1zM1179.6 180.7L1192.0 181.8L1192.7 113.5L1180.3 112.5zM1195.1 182.0L1207.4 183.1L1208.2 114.8L1195.8 113.8zM1210.5 183.4L1222.9 184.5L1223.7 116.1L1211.3 115.1zM1226.0 184.7L1238.3 185.8L1239.2 117.5L1226.8 116.4zM1241.4 186.1L1253.8 187.2L1254.8 118.8L1242.3 117.7zM1256.9 187.4L1269.3 188.5L1270.3 120.1L1257.9 119.1zM1272.4 188.8L1284.8 189.9L1285.9 121.4L1273.4 120.4zM1287.9 190.1L1300.4 191.2L1301.5 122.8L1289.0 121.7zM1303.5 191.5L1315.9 192.6L1317.1 124.1L1304.6 123.0zM1319.0 192.9L1331.5 193.9L1332.7 125.4L1320.2 124.4zM1334.6 194.2L1347.1 195.3L1348.3 126.7L1335.8 125.7zM1350.2 195.6L1362.7 196.7L1364.0 128.1L1351.5 127.0zM1365.8 196.9L1378.3 198.0L1379.7 129.4L1367.1 128.3zM1381.4 198.3L1393.9 199.4L1395.3 130.7L1382.8 129.7zM1397.0 199.7L1409.5 200.7L1411.0 132.1L1398.5 131.0zM1412.7 201.0L1425.2 202.1L1426.8 133.4L1414.2 132.3zM1428.3 202.4L1440.9 203.5L1442.5 134.8L1429.9 133.7zM1444.0 203.8L1456.5 204.8L1458.2 136.1L1445.6 135.0zM1459.7 205.1L1472.2 206.2L1474.0 137.4L1461.4 136.4zM1475.4 206.5L1488.0 207.6L1489.8 138.8L1477.1 137.7zM1491.1 207.9L1503.7 209.0L1505.5 140.1L1492.9 139.0zM1506.8 209.2L1519.4 210.3L1521.4 141.5L1508.7 140.4zM1522.6 210.6L1535.2 211.7L1537.2 142.8L1524.5 141.7zM1538.4 212.0L1551.0 213.1L1553.0 144.2L1540.3 143.1zM1554.1 213.4L1566.8 214.5L1568.9 145.5L1556.2 144.4zM1569.9 214.7L1582.6 215.8L1584.7 146.9L1572.0 145.8zM1585.7 216.1L1598.4 217.2L1600.6 148.2L1587.9 147.1zM1601.6 217.5L1614.2 218.6L1616.5 149.6L1603.8 148.5zM1617.4 218.9L1630.1 220.0L1632.4 150.9L1619.7 149.8zM1633.3 220.3L1646.0 221.4L1648.4 152.3L1635.6 151.2zM1649.1 221.6L1661.9 222.8L1664.3 153.6L1651.6 152.5zM1665.0 223.0L1677.8 224.1L1680.3 155.0L1667.5 153.9zM1680.9 224.4L1693.7 225.5L1696.3 156.3L1683.5 155.3zM1696.9 225.8L1709.6 226.9L1712.2 157.7L1699.5 156.6zM1712.8 227.2L1725.6 228.3L1728.3 159.1L1715.4 158.0zM1728.8 228.6L1741.5 229.7L1744.3 160.4L1731.5 159.3zM1744.7 230.0L1757.5 231.1L1760.3 161.8L1747.5 160.7zM1760.7 231.4L1773.5 232.5L1776.4 163.2L1763.5 162.1zM1776.7 232.8L1789.5 233.9L1792.5 164.5L1779.6 163.4zM1792.7 234.2L1805.6 235.3L1808.6 165.9L1795.7 164.8zM1808.8 235.6L1821.6 236.7L1824.7 167.3L1811.8 166.2zM1824.8 237.0L1837.7 238.1L1840.8 168.6L1827.9 167.5zM1840.9 238.4L1853.7 239.5L1856.9 170.0L1844.0 168.9zM1857.0 239.8L1869.8 240.9L1873.1 171.4L1860.1 170.3zM1873.1 241.2L1885.9 242.3L1889.2 172.8L1876.3 171.7zM1889.2 242.6L1902.1 243.7L1905.4 174.1L1892.5 173.0zM1905.3 244.0L1918.2 245.1L1921.6 175.5L1908.7 174.4zM1921.4 245.4L1934.4 246.5L1937.9 176.9L1924.9 175.8zM1937.6 246.8L1950.5 247.9L1954.1 178.3L1941.1 177.2zM1953.8 248.2L1966.7 249.3L1970.3 179.7L1957.3 178.5zM1970.0 249.6L1982.9 250.8L1986.6 181.0L1973.6 179.9zM1986.2 251.0L1999.2 252.2L2002.9 182.4L1989.9 181.3zM2002.4 252.4L2015.4 253.6L2019.2 183.8L2006.1 182.7z" fill="#e08f50"/>
<path d="M1142.4 185.0L1145.1 179.2L1145.5 129.4L1142.8 135.1zM1157.8 186.4L1160.5 180.5L1160.9 130.7L1158.3 136.5zM1173.3 187.7L1175.9 181.9L1176.4 132.0L1173.7 137.8zM1188.7 189.1L1191.3 183.2L1191.8 133.3L1189.2 139.1zM1204.2 190.4L1206.8 184.6L1207.3 134.7L1204.8 140.5zM1219.7 191.8L1222.2 185.9L1222.8 136.0L1220.3 141.8zM1235.2 193.2L1237.7 187.3L1238.4 137.3L1235.8 143.1zM1250.7 194.5L1253.2 188.6L1253.9 138.7L1251.4 144.5zM1266.3 195.9L1268.7 190.0L1269.4 140.0L1267.0 145.8zM1281.8 197.2L1284.2 191.3L1285.0 141.3L1282.6 147.1zM1297.4 198.6L1299.8 192.7L1300.6 142.7L1298.2 148.5zM1313.0 200.0L1315.3 194.1L1316.2 144.0L1313.8 149.8zM1328.6 201.3L1330.9 195.4L1331.8 145.3L1329.4 151.2zM1344.2 202.7L1346.5 196.8L1347.4 146.7L1345.1 152.5zM1359.8 204.1L1362.1 198.1L1363.1 148.0L1360.8 153.9zM1375.4 205.4L1377.7 199.5L1378.7 149.4L1376.5 155.2zM1391.1 206.8L1393.3 200.9L1394.4 150.7L1392.2 156.6zM1406.8 208.2L1409.0 202.2L1410.1 152.0L1407.9 157.9zM1422.5 209.5L1424.6 203.6L1425.8 153.4L1423.6 159.3zM1438.2 210.9L1440.3 205.0L1441.5 154.7L1439.3 160.6zM1453.9 212.3L1456.0 206.3L1457.2 156.1L1455.1 162.0zM1469.6 213.7L1471.7 207.7L1473.0 157.4L1470.9 163.3zM1485.4 215.0L1487.4 209.1L1488.8 158.8L1486.7 164.7zM1501.1 216.4L1503.2 210.4L1504.5 160.1L1502.5 166.0zM1516.9 217.8L1518.9 211.8L1520.3 161.5L1518.3 167.4zM1532.7 219.2L1534.7 213.2L1536.1 162.8L1534.2 168.8zM1548.5 220.6L1550.5 214.6L1552.0 164.2L1550.0 170.1zM1564.4 221.9L1566.3 216.0L1567.8 165.6L1565.9 171.5zM1580.2 223.3L1582.1 217.3L1583.7 166.9L1581.8 172.8zM1596.1 224.7L1597.9 218.7L1599.6 168.3L1597.7 174.2zM1611.9 226.1L1613.8 220.1L1615.4 169.6L1613.6 175.6zM1627.8 227.5L1629.6 221.5L1631.4 171.0L1629.5 176.9zM1643.7 228.9L1645.5 222.9L1647.3 172.4L1645.5 178.3zM1659.7 230.3L1661.4 224.3L1663.2 173.7L1661.4 179.7zM1675.6 231.7L1677.3 225.6L1679.2 175.1L1677.4 181.1zM1691.5 233.1L1693.3 227.0L1695.1 176.5L1693.4 182.4zM1707.5 234.5L1709.2 228.4L1711.1 177.8L1709.4 183.8zM1723.5 235.9L1725.2 229.8L1727.1 179.2L1725.5 185.2zM1739.5 237.3L1741.1 231.2L1743.1 180.6L1741.5 186.6zM1755.5 238.7L1757.1 232.6L1759.2 182.0L1757.6 187.9zM1771.6 240.1L1773.1 234.0L1775.2 183.3L1773.7 189.3zM1787.6 241.5L1789.1 235.4L1791.3 184.7L1789.7 190.7zM1803.7 242.9L1805.2 236.8L1807.4 186.1L1805.9 192.1zM1819.8 244.3L1821.2 238.2L1823.5 187.5L1822.0 193.5zM1835.8 245.7L1837.3 239.6L1839.6 188.8L1838.1 194.9zM1852.0 247.1L1853.4 241.0L1855.7 190.2L1854.3 196.2zM1868.1 248.5L1869.5 242.4L1871.9 191.6L1870.5 197.6zM1884.2 249.9L1885.6 243.8L1888.0 193.0L1886.7 199.0zM1900.4 251.3L1901.7 245.2L1904.2 194.4L1902.9 200.4zM1916.6 252.7L1917.9 246.6L1920.4 195.8L1919.1 201.8zM1932.8 254.2L1934.0 248.0L1936.6 197.2L1935.3 203.2zM1949.0 255.6L1950.2 249.5L1952.8 198.5L1951.6 204.6zM1965.2 257.0L1966.4 250.9L1969.1 199.9L1967.8 206.0zM1981.4 258.4L1982.6 252.3L1985.3 201.3L1984.1 207.4zM1997.7 259.8L1998.9 253.7L2001.6 202.7L2000.4 208.8zM2014.0 261.3L2015.1 255.1L2017.9 204.1L2016.8 210.2z" fill="#7d7a1e" stroke="#7d7a1e" stroke-width="0.9" stroke-linejoin="round"/>
<path d="M1130.4 134.1L1142.8 135.1L1145.5 129.4L1133.1 128.3zM1145.9 135.4L1158.3 136.5L1160.9 130.7L1148.5 129.6zM1161.4 136.7L1173.7 137.8L1176.4 132.0L1164.0 131.0zM1176.8 138.1L1189.2 139.1L1191.8 133.3L1179.5 132.3zM1192.3 139.4L1204.8 140.5L1207.3 134.7L1194.9 133.6zM1207.9 140.7L1220.3 141.8L1222.8 136.0L1210.4 134.9zM1223.4 142.1L1235.8 143.1L1238.4 137.3L1225.9 136.3zM1239.0 143.4L1251.4 144.5L1253.9 138.7L1241.5 137.6zM1254.5 144.7L1267.0 145.8L1269.4 140.0L1257.0 138.9zM1270.1 146.1L1282.6 147.1L1285.0 141.3L1272.6 140.3zM1285.7 147.4L1298.2 148.5L1300.6 142.7L1288.1 141.6zM1301.3 148.8L1313.8 149.8L1316.2 144.0L1303.7 142.9zM1316.9 150.1L1329.4 151.2L1331.8 145.3L1319.3 144.3zM1332.6 151.4L1345.1 152.5L1347.4 146.7L1334.9 145.6zM1348.2 152.8L1360.8 153.9L1363.1 148.0L1350.5 146.9zM1363.9 154.1L1376.5 155.2L1378.7 149.4L1366.2 148.3zM1379.6 155.5L1392.2 156.6L1394.4 150.7L1381.9 149.6zM1395.3 156.8L1407.9 157.9L1410.1 152.0L1397.5 151.0zM1411.0 158.2L1423.6 159.3L1425.8 153.4L1413.2 152.3zM1426.7 159.5L1439.3 160.6L1441.5 154.7L1428.9 153.7zM1442.5 160.9L1455.1 162.0L1457.2 156.1L1444.7 155.0zM1458.3 162.2L1470.9 163.3L1473.0 157.4L1460.4 156.4zM1474.0 163.6L1486.7 164.7L1488.8 158.8L1476.1 157.7zM1489.8 164.9L1502.5 166.0L1504.5 160.1L1491.9 159.1zM1505.7 166.3L1518.3 167.4L1520.3 161.5L1507.7 160.4zM1521.5 167.7L1534.2 168.8L1536.1 162.8L1523.5 161.8zM1537.3 169.0L1550.0 170.1L1552.0 164.2L1539.3 163.1zM1553.2 170.4L1565.9 171.5L1567.8 165.6L1555.1 164.5zM1569.1 171.7L1581.8 172.8L1583.7 166.9L1571.0 165.8zM1585.0 173.1L1597.7 174.2L1599.6 168.3L1586.9 167.2zM1600.9 174.5L1613.6 175.6L1615.4 169.6L1602.7 168.6zM1616.8 175.8L1629.5 176.9L1631.4 171.0L1618.6 169.9zM1632.7 177.2L1645.5 178.3L1647.3 172.4L1634.5 171.3zM1648.7 178.6L1661.4 179.7L1663.2 173.7L1650.5 172.6zM1664.6 180.0L1677.4 181.1L1679.2 175.1L1666.4 174.0zM1680.6 181.3L1693.4 182.4L1695.1 176.5L1682.4 175.4zM1696.6 182.7L1709.4 183.8L1711.1 177.8L1698.3 176.7zM1712.6 184.1L1725.5 185.2L1727.1 179.2L1714.3 178.1zM1728.7 185.5L1741.5 186.6L1743.1 180.6L1730.3 179.5zM1744.7 186.8L1757.6 187.9L1759.2 182.0L1746.3 180.9zM1760.8 188.2L1773.7 189.3L1775.2 183.3L1762.4 182.2zM1776.9 189.6L1789.7 190.7L1791.3 184.7L1778.4 183.6zM1793.0 191.0L1805.9 192.1L1807.4 186.1L1794.5 185.0zM1809.1 192.4L1822.0 193.5L1823.5 187.5L1810.6 186.4zM1825.2 193.7L1838.1 194.9L1839.6 188.8L1826.7 187.7zM1841.4 195.1L1854.3 196.2L1855.7 190.2L1842.8 189.1zM1857.5 196.5L1870.5 197.6L1871.9 191.6L1858.9 190.5zM1873.7 197.9L1886.7 199.0L1888.0 193.0L1875.1 191.9zM1889.9 199.3L1902.9 200.4L1904.2 194.4L1891.2 193.3zM1906.1 200.7L1919.1 201.8L1920.4 195.8L1907.4 194.7zM1922.3 202.1L1935.3 203.2L1936.6 197.2L1923.6 196.0zM1938.6 203.5L1951.6 204.6L1952.8 198.5L1939.8 197.4zM1954.8 204.9L1967.8 206.0L1969.1 199.9L1956.1 198.8zM1971.1 206.3L1984.1 207.4L1985.3 201.3L1972.3 200.2zM1987.4 207.7L2000.4 208.8L2001.6 202.7L1988.6 201.6zM2003.7 209.1L2016.8 210.2L2017.9 204.1L2004.9 203.0z" fill="#bace60"/>
<path d="M1130.1 184.0L1142.4 185.0L1142.8 135.1L1130.4 134.1zM1145.5 185.3L1157.8 186.4L1158.3 136.5L1145.9 135.4zM1160.9 186.7L1173.3 187.7L1173.7 137.8L1161.4 136.7zM1176.4 188.0L1188.7 189.1L1189.2 139.1L1176.8 138.1zM1191.8 189.4L1204.2 190.4L1204.8 140.5L1192.3 139.4zM1207.3 190.7L1219.7 191.8L1220.3 141.8L1207.9 140.7zM1222.8 192.1L1235.2 193.2L1235.8 143.1L1223.4 142.1zM1238.3 193.4L1250.7 194.5L1251.4 144.5L1239.0 143.4zM1253.8 194.8L1266.3 195.9L1267.0 145.8L1254.5 144.7zM1269.4 196.1L1281.8 197.2L1282.6 147.1L1270.1 146.1zM1284.9 197.5L1297.4 198.6L1298.2 148.5L1285.7 147.4zM1300.5 198.9L1313.0 200.0L1313.8 149.8L1301.3 148.8zM1316.1 200.2L1328.6 201.3L1329.4 151.2L1316.9 150.1zM1331.7 201.6L1344.2 202.7L1345.1 152.5L1332.6 151.4zM1347.3 203.0L1359.8 204.1L1360.8 153.9L1348.2 152.8zM1362.9 204.3L1375.4 205.4L1376.5 155.2L1363.9 154.1zM1378.6 205.7L1391.1 206.8L1392.2 156.6L1379.6 155.5zM1394.2 207.1L1406.8 208.2L1407.9 157.9L1395.3 156.8zM1409.9 208.4L1422.5 209.5L1423.6 159.3L1411.0 158.2zM1425.6 209.8L1438.2 210.9L1439.3 160.6L1426.7 159.5zM1441.3 211.2L1453.9 212.3L1455.1 162.0L1442.5 160.9zM1457.0 212.6L1469.6 213.7L1470.9 163.3L1458.3 162.2zM1472.8 213.9L1485.4 215.0L1486.7 164.7L1474.0 163.6zM1488.5 215.3L1501.1 216.4L1502.5 166.0L1489.8 164.9zM1504.3 216.7L1516.9 217.8L1518.3 167.4L1505.7 166.3zM1520.1 218.1L1532.7 219.2L1534.2 168.8L1521.5 167.7zM1535.9 219.5L1548.5 220.6L1550.0 170.1L1537.3 169.0zM1551.7 220.8L1564.4 221.9L1565.9 171.5L1553.2 170.4zM1567.5 222.2L1580.2 223.3L1581.8 172.8L1569.1 171.7zM1583.4 223.6L1596.1 224.7L1597.7 174.2L1585.0 173.1zM1599.2 225.0L1611.9 226.1L1613.6 175.6L1600.9 174.5zM1615.1 226.4L1627.8 227.5L1629.5 176.9L1616.8 175.8zM1631.0 227.8L1643.7 228.9L1645.5 178.3L1632.7 177.2zM1646.9 229.2L1659.7 230.3L1661.4 179.7L1648.7 178.6zM1662.8 230.6L1675.6 231.7L1677.4 181.1L1664.6 180.0zM1678.8 231.9L1691.5 233.1L1693.4 182.4L1680.6 181.3zM1694.7 233.3L1707.5 234.5L1709.4 183.8L1696.6 182.7zM1710.7 234.7L1723.5 235.9L1725.5 185.2L1712.6 184.1zM1726.7 236.1L1739.5 237.3L1741.5 186.6L1728.7 185.5zM1742.7 237.5L1755.5 238.7L1757.6 187.9L1744.7 186.8zM1758.7 238.9L1771.6 240.1L1773.7 189.3L1760.8 188.2zM1774.8 240.3L1787.6 241.5L1789.7 190.7L1776.9 189.6zM1790.8 241.7L1803.7 242.9L1805.9 192.1L1793.0 191.0zM1806.9 243.2L1819.8 244.3L1822.0 193.5L1809.1 192.4zM1823.0 244.6L1835.8 245.7L1838.1 194.9L1825.2 193.7zM1839.1 246.0L1852.0 247.1L1854.3 196.2L1841.4 195.1zM1855.2 247.4L1868.1 248.5L1870.5 197.6L1857.5 196.5zM1871.3 248.8L1884.2 249.9L1886.7 199.0L1873.7 197.9zM1887.5 250.2L1900.4 251.3L1902.9 200.4L1889.9 199.3zM1903.6 251.6L1916.6 252.7L1919.1 201.8L1906.1 200.7zM1919.8 253.0L1932.8 254.2L1935.3 203.2L1922.3 202.1zM1936.0 254.4L1949.0 255.6L1951.6 204.6L1938.6 203.5zM1952.2 255.9L1965.2 257.0L1967.8 206.0L1954.8 204.9zM1968.5 257.3L1981.4 258.4L1984.1 207.4L1971.1 206.3zM1984.7 258.7L1997.7 259.8L2000.4 208.8L1987.4 207.7zM2001.0 260.1L2014.0 261.3L2016.8 210.2L2003.7 209.1z" fill="#e4de5a"/>
<path d="M1019.5 174.3L1022.4 168.5L1022.5 100.5L1019.6 106.2zM1034.8 175.6L1037.7 169.8L1037.8 101.8L1034.9 107.5zM1050.1 177.0L1053.0 171.2L1053.2 103.1L1050.3 108.8zM1065.5 178.3L1068.3 172.5L1068.5 104.4L1065.7 110.1zM1080.8 179.7L1083.6 173.8L1083.9 105.7L1081.1 111.5zM1096.2 181.0L1098.9 175.2L1099.3 107.1L1096.6 112.8zM1111.6 182.3L1114.3 176.5L1114.7 108.4L1112.0 114.1zM1127.0 183.7L1129.7 177.9L1130.2 109.7L1127.5 115.4z" fill="#7a3f14" stroke="#7a3f14" stroke-width="0.9" stroke-linejoin="round"/>
<path d="M1007.3 105.2L1019.6 106.2L1022.5 100.5L1010.2 99.5zM1022.7 106.5L1034.9 107.5L1037.8 101.8L1025.5 100.8zM1038.0 107.8L1050.3 108.8L1053.2 103.1L1040.9 102.1zM1053.4 109.1L1065.7 110.1L1068.5 104.4L1056.2 103.4zM1068.8 110.4L1081.1 111.5L1083.9 105.7L1071.6 104.7zM1084.2 111.7L1096.6 112.8L1099.3 107.1L1087.0 106.0zM1099.6 113.0L1112.0 114.1L1114.7 108.4L1102.4 107.3zM1115.1 114.4L1127.5 115.4L1130.2 109.7L1117.8 108.6z" fill="#c9854a"/>
<path d="M1007.3 173.2L1019.5 174.3L1019.6 106.2L1007.3 105.2zM1022.6 174.6L1034.8 175.6L1034.9 107.5L1022.7 106.5zM1037.9 175.9L1050.1 177.0L1050.3 108.8L1038.0 107.8zM1053.2 177.2L1065.5 178.3L1065.7 110.1L1053.4 109.1zM1068.5 178.6L1080.8 179.7L1081.1 111.5L1068.8 110.4zM1083.9 179.9L1096.2 181.0L1096.6 112.8L1084.2 111.7zM1099.3 181.3L1111.6 182.3L1112.0 114.1L1099.6 113.0zM1114.7 182.6L1127.0 183.7L1127.5 115.4L1115.1 114.4z" fill="#e08f50"/>
<path d="M1898.7 259.0L1900.1 252.9L1901.4 224.8L1900.1 230.9zM1914.9 260.4L1916.2 254.3L1917.6 226.2L1916.3 232.3zM1931.2 261.8L1932.4 255.7L1933.9 227.7L1932.6 233.8zM1947.4 263.3L1948.7 257.1L1950.1 229.1L1948.8 235.2zM1963.7 264.7L1964.9 258.5L1966.4 230.5L1965.1 236.6zM1980.0 266.1L1981.1 260.0L1982.6 231.9L1981.4 238.0zM1996.3 267.5L1997.4 261.4L1998.9 233.3L1997.8 239.4zM2012.6 269.0L2013.7 262.8L2015.2 234.7L2014.1 240.8z" fill="#3a8460" stroke="#3a8460" stroke-width="0.9" stroke-linejoin="round"/>
<path d="M1887.1 229.8L1900.1 230.9L1901.4 224.8L1888.5 223.7zM1903.3 231.2L1916.3 232.3L1917.6 226.2L1904.7 225.1zM1919.6 232.6L1932.6 233.8L1933.9 227.7L1920.9 226.5zM1935.8 234.0L1948.8 235.2L1950.1 229.1L1937.1 227.9zM1952.1 235.5L1965.1 236.6L1966.4 230.5L1953.3 229.3zM1968.4 236.9L1981.4 238.0L1982.6 231.9L1969.6 230.8zM1984.7 238.3L1997.8 239.4L1998.9 233.3L1985.9 232.2zM2001.0 239.7L2014.1 240.8L2015.2 234.7L2002.2 233.6z" fill="#74d3ac"/>
<path d="M1885.8 257.9L1898.7 259.0L1900.1 230.9L1887.1 229.8zM1902.0 259.3L1914.9 260.4L1916.3 232.3L1903.3 231.2zM1918.2 260.7L1931.2 261.8L1932.6 233.8L1919.6 232.6zM1934.4 262.1L1947.4 263.3L1948.8 235.2L1935.8 234.0zM1950.7 263.5L1963.7 264.7L1965.1 236.6L1952.1 235.5zM1966.9 265.0L1980.0 266.1L1981.4 238.0L1968.4 236.9zM1983.2 266.4L1996.3 267.5L1997.8 239.4L1984.7 238.3zM1999.5 267.8L2012.6 269.0L2014.1 240.8L2001.0 239.7z" fill="#8df3c0"/>
<path d="M1015.9 181.6L1018.8 175.7L1018.8 126.0L1015.9 131.8zM1031.2 182.9L1034.1 177.1L1034.2 127.3L1031.3 133.1zM1046.6 184.3L1049.4 178.4L1049.6 128.6L1046.7 134.4zM1062.0 185.6L1064.8 179.8L1065.0 130.0L1062.1 135.7zM1077.3 187.0L1080.1 181.1L1080.4 131.3L1077.6 137.1zM1092.8 188.3L1095.5 182.5L1095.8 132.6L1093.0 138.4zM1108.2 189.7L1110.9 183.8L1111.2 133.9L1108.5 139.7zM1123.6 191.0L1126.3 185.2L1126.7 135.3L1123.9 141.1zM1139.1 192.4L1141.7 186.5L1142.1 136.6L1139.4 142.4zM1154.5 193.7L1157.2 187.9L1157.6 137.9L1154.9 143.7zM1170.0 195.1L1172.6 189.2L1173.1 139.3L1170.5 145.1zM1185.5 196.5L1188.1 190.6L1188.6 140.6L1186.0 146.4zM1201.0 197.8L1203.6 191.9L1204.1 141.9L1201.5 147.7zM1216.5 199.2L1219.1 193.3L1219.7 143.3L1217.1 149.1zM1232.1 200.5L1234.6 194.6L1235.2 144.6L1232.7 150.4zM1247.6 201.9L1250.1 196.0L1250.8 145.9L1248.3 151.8zM1263.2 203.3L1265.6 197.4L1266.4 147.3L1263.9 153.1zM1278.8 204.6L1281.2 198.7L1282.0 148.6L1279.5 154.4zM1294.4 206.0L1296.8 200.1L1297.6 149.9L1295.2 155.8zM1310.0 207.4L1312.4 201.4L1313.2 151.3L1310.8 157.1zM1325.6 208.7L1328.0 202.8L1328.9 152.6L1326.5 158.5zM1341.3 210.1L1343.6 204.2L1344.5 154.0L1342.2 159.8zM1356.9 211.5L1359.2 205.5L1360.2 155.3L1357.9 161.2zM1372.6 212.9L1374.9 206.9L1375.9 156.7L1373.6 162.6zM1388.3 214.2L1390.5 208.3L1391.6 158.0L1389.3 163.9zM1404.0 215.6L1406.2 209.6L1407.3 159.4L1405.1 165.3zM1419.7 217.0L1421.9 211.0L1423.1 160.7L1420.9 166.6zM1435.5 218.4L1437.6 212.4L1438.8 162.1L1436.6 168.0zM1451.2 219.8L1453.3 213.8L1454.6 163.4L1452.4 169.3zM1467.0 221.1L1469.1 215.2L1470.4 164.8L1468.2 170.7zM1482.8 222.5L1484.8 216.5L1486.2 166.1L1484.1 172.1zM1498.6 223.9L1500.6 217.9L1502.0 167.5L1499.9 173.4zM1514.4 225.3L1516.4 219.3L1517.8 168.9L1515.8 174.8zM1530.2 226.7L1532.2 220.7L1533.7 170.2L1531.7 176.2zM1546.1 228.1L1548.0 222.1L1549.5 171.6L1547.5 177.5zM1561.9 229.5L1563.9 223.4L1565.4 173.0L1563.5 178.9zM1577.8 230.9L1579.7 224.8L1581.3 174.3L1579.4 180.3zM1593.7 232.2L1595.6 226.2L1597.2 175.7L1595.3 181.6zM1609.6 233.6L1611.5 227.6L1613.1 177.1L1611.3 183.0zM1625.5 235.0L1627.4 229.0L1629.1 178.4L1627.2 184.4zM1641.5 236.4L1643.3 230.4L1645.0 179.8L1643.2 185.8zM1657.4 237.8L1659.2 231.8L1661.0 181.2L1659.2 187.1zM1673.4 239.2L1675.2 233.2L1677.0 182.5L1675.2 188.5zM1689.4 240.6L1691.1 234.6L1693.0 183.9L1691.3 189.9zM1705.4 242.0L1707.1 236.0L1709.0 185.3L1707.3 191.3zM1721.4 243.4L1723.1 237.4L1725.1 186.7L1723.4 192.7zM1737.5 244.9L1739.1 238.8L1741.1 188.1L1739.5 194.1zM1753.5 246.3L1755.1 240.2L1757.2 189.4L1755.6 195.4zM1769.6 247.7L1771.2 241.6L1773.3 190.8L1771.7 196.8zM1785.7 249.1L1787.2 243.0L1789.4 192.2L1787.8 198.2zM1801.8 250.5L1803.3 244.4L1805.5 193.6L1804.0 199.6zM1817.9 251.9L1819.4 245.8L1821.6 195.0L1820.1 201.0zM1834.0 253.3L1835.5 247.2L1837.8 196.4L1836.3 202.4zM1850.2 254.7L1851.6 248.6L1853.9 197.7L1852.5 203.8zM1866.3 256.2L1867.7 250.0L1870.1 199.1L1868.7 205.2zM1882.5 257.6L1883.9 251.4L1886.3 200.5L1884.9 206.6z" fill="#7d7a1e" stroke="#7d7a1e" stroke-width="0.9" stroke-linejoin="round"/>
<path d="M1003.6 130.7L1015.9 131.8L1018.8 126.0L1006.6 124.9zM1019.0 132.0L1031.3 133.1L1034.2 127.3L1021.9 126.3zM1034.4 133.3L1046.7 134.4L1049.6 128.6L1037.3 127.6zM1049.8 134.7L1062.1 135.7L1065.0 130.0L1052.6 128.9zM1065.2 136.0L1077.6 137.1L1080.4 131.3L1068.0 130.2zM1080.7 137.3L1093.0 138.4L1095.8 132.6L1083.4 131.5zM1096.1 138.7L1108.5 139.7L1111.2 133.9L1098.9 132.9zM1111.6 140.0L1123.9 141.1L1126.7 135.3L1114.3 134.2zM1127.0 141.3L1139.4 142.4L1142.1 136.6L1129.7 135.5zM1142.5 142.7L1154.9 143.7L1157.6 137.9L1145.2 136.9zM1158.0 144.0L1170.5 145.1L1173.1 139.3L1160.7 138.2zM1173.6 145.3L1186.0 146.4L1188.6 140.6L1176.2 139.5zM1189.1 146.7L1201.5 147.7L1204.1 141.9L1191.7 140.8zM1204.7 148.0L1217.1 149.1L1219.7 143.3L1207.2 142.2zM1220.2 149.3L1232.7 150.4L1235.2 144.6L1222.8 143.5zM1235.8 150.7L1248.3 151.8L1250.8 145.9L1238.3 144.9zM1251.4 152.0L1263.9 153.1L1266.4 147.3L1253.9 146.2zM1267.0 153.4L1279.5 154.4L1282.0 148.6L1269.5 147.5zM1282.6 154.7L1295.2 155.8L1297.6 149.9L1285.1 148.9zM1298.3 156.1L1310.8 157.1L1313.2 151.3L1300.7 150.2zM1314.0 157.4L1326.5 158.5L1328.9 152.6L1316.3 151.6zM1329.6 158.8L1342.2 159.8L1344.5 154.0L1332.0 152.9zM1345.3 160.1L1357.9 161.2L1360.2 155.3L1347.6 154.2zM1361.0 161.5L1373.6 162.6L1375.9 156.7L1363.3 155.6zM1376.8 162.8L1389.3 163.9L1391.6 158.0L1379.0 156.9zM1392.5 164.2L1405.1 165.3L1407.3 159.4L1394.7 158.3zM1408.2 165.5L1420.9 166.6L1423.1 160.7L1410.5 159.6zM1424.0 166.9L1436.6 168.0L1438.8 162.1L1426.2 161.0zM1439.8 168.3L1452.4 169.3L1454.6 163.4L1442.0 162.4zM1455.6 169.6L1468.2 170.7L1470.4 164.8L1457.7 163.7zM1471.4 171.0L1484.1 172.1L1486.2 166.1L1473.5 165.1zM1487.2 172.3L1499.9 173.4L1502.0 167.5L1489.3 166.4zM1503.1 173.7L1515.8 174.8L1517.8 168.9L1505.1 167.8zM1519.0 175.1L1531.7 176.2L1533.7 170.2L1521.0 169.1zM1534.8 176.4L1547.5 177.5L1549.5 171.6L1536.8 170.5zM1550.7 177.8L1563.5 178.9L1565.4 173.0L1552.7 171.9zM1566.6 179.2L1579.4 180.3L1581.3 174.3L1568.6 173.2zM1582.6 180.5L1595.3 181.6L1597.2 175.7L1584.5 174.6zM1598.5 181.9L1611.3 183.0L1613.1 177.1L1600.4 176.0zM1614.5 183.3L1627.2 184.4L1629.1 178.4L1616.3 177.3zM1630.4 184.7L1643.2 185.8L1645.0 179.8L1632.3 178.7zM1646.4 186.0L1659.2 187.1L1661.0 181.2L1648.2 180.1zM1662.4 187.4L1675.2 188.5L1677.0 182.5L1664.2 181.4zM1678.5 188.8L1691.3 189.9L1693.0 183.9L1680.2 182.8zM1694.5 190.2L1707.3 191.3L1709.0 185.3L1696.2 184.2zM1710.5 191.6L1723.4 192.7L1725.1 186.7L1712.2 185.6zM1726.6 192.9L1739.5 194.1L1741.1 188.1L1728.3 187.0zM1742.7 194.3L1755.6 195.4L1757.2 189.4L1744.3 188.3zM1758.8 195.7L1771.7 196.8L1773.3 190.8L1760.4 189.7zM1774.9 197.1L1787.8 198.2L1789.4 192.2L1776.5 191.1zM1791.0 198.5L1804.0 199.6L1805.5 193.6L1792.6 192.5zM1807.2 199.9L1820.1 201.0L1821.6 195.0L1808.7 193.9zM1823.4 201.3L1836.3 202.4L1837.8 196.4L1824.8 195.2zM1839.5 202.7L1852.5 203.8L1853.9 197.7L1841.0 196.6zM1855.7 204.1L1868.7 205.2L1870.1 199.1L1857.2 198.0zM1872.0 205.5L1884.9 206.6L1886.3 200.5L1873.3 199.4z" fill="#bace60"/>
<path d="M1003.6 180.5L1015.9 181.6L1015.9 131.8L1003.6 130.7zM1019.0 181.8L1031.2 182.9L1031.3 133.1L1019.0 132.0zM1034.3 183.2L1046.6 184.3L1046.7 134.4L1034.4 133.3zM1049.7 184.5L1062.0 185.6L1062.1 135.7L1049.8 134.7zM1065.0 185.9L1077.3 187.0L1077.6 137.1L1065.2 136.0zM1080.4 187.2L1092.8 188.3L1093.0 138.4L1080.7 137.3zM1095.8 188.6L1108.2 189.7L1108.5 139.7L1096.1 138.7zM1111.3 189.9L1123.6 191.0L1123.9 141.1L1111.6 140.0zM1126.7 191.3L1139.1 192.4L1139.4 142.4L1127.0 141.3zM1142.1 192.7L1154.5 193.7L1154.9 143.7L1142.5 142.7zM1157.6 194.0L1170.0 195.1L1170.5 145.1L1158.0 144.0zM1173.1 195.4L1185.5 196.5L1186.0 146.4L1173.6 145.3zM1188.6 196.7L1201.0 197.8L1201.5 147.7L1189.1 146.7zM1204.1 198.1L1216.5 199.2L1217.1 149.1L1204.7 148.0zM1219.6 199.4L1232.1 200.5L1232.7 150.4L1220.2 149.3zM1235.2 200.8L1247.6 201.9L1248.3 151.8L1235.8 150.7zM1250.7 202.2L1263.2 203.3L1263.9 153.1L1251.4 152.0zM1266.3 203.5L1278.8 204.6L1279.5 154.4L1267.0 153.4zM1281.9 204.9L1294.4 206.0L1295.2 155.8L1282.6 154.7zM1297.5 206.3L1310.0 207.4L1310.8 157.1L1298.3 156.1zM1313.1 207.6L1325.6 208.7L1326.5 158.5L1314.0 157.4zM1328.7 209.0L1341.3 210.1L1342.2 159.8L1329.6 158.8zM1344.4 210.4L1356.9 211.5L1357.9 161.2L1345.3 160.1zM1360.1 211.8L1372.6 212.9L1373.6 162.6L1361.0 161.5zM1375.7 213.1L1388.3 214.2L1389.3 163.9L1376.8 162.8zM1391.4 214.5L1404.0 215.6L1405.1 165.3L1392.5 164.2zM1407.1 215.9L1419.7 217.0L1420.9 166.6L1408.2 165.5zM1422.9 217.3L1435.5 218.4L1436.6 168.0L1424.0 166.9zM1438.6 218.6L1451.2 219.8L1452.4 169.3L1439.8 168.3zM1454.4 220.0L1467.0 221.1L1468.2 170.7L1455.6 169.6zM1470.1 221.4L1482.8 222.5L1484.1 172.1L1471.4 171.0zM1485.9 222.8L1498.6 223.9L1499.9 173.4L1487.2 172.3zM1501.7 224.2L1514.4 225.3L1515.8 174.8L1503.1 173.7zM1517.6 225.6L1530.2 226.7L1531.7 176.2L1519.0 175.1zM1533.4 227.0L1546.1 228.1L1547.5 177.5L1534.8 176.4zM1549.2 228.3L1561.9 229.5L1563.5 178.9L1550.7 177.8zM1565.1 229.7L1577.8 230.9L1579.4 180.3L1566.6 179.2zM1581.0 231.1L1593.7 232.2L1595.3 181.6L1582.6 180.5zM1596.9 232.5L1609.6 233.6L1611.3 183.0L1598.5 181.9zM1612.8 233.9L1625.5 235.0L1627.2 184.4L1614.5 183.3zM1628.7 235.3L1641.5 236.4L1643.2 185.8L1630.4 184.7zM1644.7 236.7L1657.4 237.8L1659.2 187.1L1646.4 186.0zM1660.6 238.1L1673.4 239.2L1675.2 188.5L1662.4 187.4zM1676.6 239.5L1689.4 240.6L1691.3 189.9L1678.5 188.8zM1692.6 240.9L1705.4 242.0L1707.3 191.3L1694.5 190.2zM1708.6 242.3L1721.4 243.4L1723.4 192.7L1710.5 191.6zM1724.6 243.7L1737.5 244.9L1739.5 194.1L1726.6 192.9zM1740.7 245.1L1753.5 246.3L1755.6 195.4L1742.7 194.3zM1756.7 246.5L1769.6 247.7L1771.7 196.8L1758.8 195.7zM1772.8 248.0L1785.7 249.1L1787.8 198.2L1774.9 197.1zM1788.9 249.4L1801.8 250.5L1804.0 199.6L1791.0 198.5zM1805.0 250.8L1817.9 251.9L1820.1 201.0L1807.2 199.9zM1821.1 252.2L1834.0 253.3L1836.3 202.4L1823.4 201.3zM1837.3 253.6L1850.2 254.7L1852.5 203.8L1839.5 202.7zM1853.4 255.0L1866.3 256.2L1868.7 205.2L1855.7 204.1zM1869.6 256.4L1882.5 257.6L1884.9 206.6L1872.0 205.5z" fill="#e4de5a"/>
<path d="M1012.3 188.9L1015.2 183.0L1015.2 155.6L1012.3 161.4zM1027.6 190.2L1030.5 184.4L1030.6 157.0L1027.7 162.8zM1043.0 191.6L1045.9 185.7L1045.9 158.3L1043.1 164.1zM1058.4 193.0L1061.3 187.1L1061.4 159.6L1058.5 165.5zM1073.9 194.3L1076.7 188.4L1076.8 161.0L1074.0 166.8zM1089.3 195.7L1092.1 189.8L1092.2 162.3L1089.4 168.2zM1104.7 197.0L1107.5 191.1L1107.6 163.7L1104.9 169.5zM1120.2 198.4L1122.9 192.5L1123.1 165.0L1120.4 170.8zM1135.7 199.7L1138.4 193.9L1138.6 166.3L1135.9 172.2zM1151.2 201.1L1153.8 195.2L1154.1 167.7L1151.4 173.6zM1166.7 202.5L1169.3 196.6L1169.6 169.0L1166.9 174.9zM1182.2 203.8L1184.8 197.9L1185.1 170.4L1182.5 176.3zM1197.8 205.2L1200.4 199.3L1200.6 171.7L1198.1 177.6zM1213.3 206.6L1215.9 200.7L1216.2 173.1L1213.6 179.0zM1228.9 207.9L1231.4 202.0L1231.8 174.4L1229.2 180.3zM1244.5 209.3L1247.0 203.4L1247.4 175.8L1244.9 181.7zM1260.1 210.7L1262.6 204.7L1263.0 177.1L1260.5 183.0zM1275.7 212.1L1278.2 206.1L1278.6 178.5L1276.1 184.4zM1291.3 213.4L1293.8 207.5L1294.2 179.9L1291.8 185.8zM1307.0 214.8L1309.4 208.9L1309.8 181.2L1307.4 187.1zM1322.7 216.2L1325.0 210.2L1325.5 182.6L1323.1 188.5zM1338.3 217.6L1340.7 211.6L1341.2 183.9L1338.8 189.9zM1354.0 218.9L1356.3 213.0L1356.9 185.3L1354.6 191.2zM1369.7 220.3L1372.0 214.4L1372.6 186.7L1370.3 192.6zM1385.5 221.7L1387.7 215.7L1388.3 188.0L1386.0 194.0zM1401.2 223.1L1403.4 217.1L1404.0 189.4L1401.8 195.4zM1417.0 224.5L1419.2 218.5L1419.8 190.8L1417.6 196.7zM1432.7 225.9L1434.9 219.9L1435.6 192.1L1433.4 198.1zM1448.5 227.3L1450.7 221.3L1451.3 193.5L1449.2 199.5zM1464.3 228.6L1466.5 222.6L1467.2 194.9L1465.0 200.9zM1480.2 230.0L1482.2 224.0L1483.0 196.3L1480.9 202.2zM1496.0 231.4L1498.1 225.4L1498.8 197.6L1496.7 203.6zM1511.8 232.8L1513.9 226.8L1514.6 199.0L1512.6 205.0zM1527.7 234.2L1529.7 228.2L1530.5 200.4L1528.5 206.4zM1543.6 235.6L1545.6 229.6L1546.4 201.8L1544.4 207.8zM1559.5 237.0L1561.4 231.0L1562.3 203.1L1560.3 209.2zM1575.4 238.4L1577.3 232.4L1578.2 204.5L1576.3 210.5zM1591.3 239.8L1593.2 233.8L1594.1 205.9L1592.2 211.9zM1607.3 241.2L1609.1 235.2L1610.1 207.3L1608.2 213.3zM1623.2 242.6L1625.1 236.6L1626.0 208.7L1624.2 214.7zM1639.2 244.0L1641.0 238.0L1642.0 210.1L1640.2 216.1zM1655.2 245.4L1657.0 239.4L1658.0 211.5L1656.2 217.5zM1671.2 246.8L1673.0 240.8L1674.0 212.9L1672.2 218.9zM1687.2 248.2L1689.0 242.2L1690.0 214.2L1688.3 220.3zM1703.3 249.7L1705.0 243.6L1706.0 215.6L1704.3 221.7zM1719.3 251.1L1721.0 245.0L1722.1 217.0L1720.4 223.1zM1735.4 252.5L1737.1 246.4L1738.2 218.4L1736.5 224.5zM1751.5 253.9L1753.1 247.8L1754.2 219.8L1752.6 225.9zM1767.6 255.3L1769.2 249.2L1770.4 221.2L1768.8 227.3zM1783.7 256.7L1785.3 250.6L1786.5 222.6L1784.9 228.7zM1799.9 258.2L1801.4 252.0L1802.6 224.0L1801.1 230.1zM1816.0 259.6L1817.5 253.4L1818.8 225.4L1817.3 231.5zM1832.2 261.0L1833.7 254.9L1834.9 226.8L1833.5 232.9zM1848.4 262.4L1849.8 256.3L1851.1 228.2L1849.7 234.3zM1864.6 263.8L1866.0 257.7L1867.3 229.6L1865.9 235.8zM1880.8 265.3L1882.2 259.1L1883.5 231.1L1882.1 237.2zM1897.0 266.7L1898.4 260.5L1899.7 232.5L1898.4 238.6zM1913.3 268.1L1914.6 262.0L1916.0 233.9L1914.7 240.0zM1929.6 269.6L1930.8 263.4L1932.2 235.3L1931.0 241.4zM1945.8 271.0L1947.1 264.8L1948.5 236.7L1947.3 242.8zM1962.1 272.4L1963.4 266.2L1964.8 238.1L1963.6 244.3zM1978.5 273.9L1979.7 267.7L1981.1 239.5L1979.9 245.7zM1994.8 275.3L1996.0 269.1L1997.5 241.0L1996.3 247.1zM2011.1 276.7L2012.3 270.5L2013.8 242.4L2012.7 248.5z" fill="#3a8460" stroke="#3a8460" stroke-width="0.9" stroke-linejoin="round"/>
<path d="M1000.0 160.4L1012.3 161.4L1015.2 155.6L1002.9 154.6zM1015.4 161.7L1027.7 162.8L1030.6 157.0L1018.3 155.9zM1030.8 163.0L1043.1 164.1L1045.9 158.3L1033.6 157.2zM1046.2 164.4L1058.5 165.5L1061.4 159.6L1049.0 158.6zM1061.6 165.7L1074.0 166.8L1076.8 161.0L1064.4 159.9zM1077.1 167.1L1089.4 168.2L1092.2 162.3L1079.9 161.2zM1092.5 168.4L1104.9 169.5L1107.6 163.7L1095.3 162.6zM1108.0 169.8L1120.4 170.8L1123.1 165.0L1110.7 163.9zM1123.5 171.1L1135.9 172.2L1138.6 166.3L1126.2 165.3zM1139.0 172.5L1151.4 173.6L1154.1 167.7L1141.7 166.6zM1154.5 173.8L1166.9 174.9L1169.6 169.0L1157.2 168.0zM1170.1 175.2L1182.5 176.3L1185.1 170.4L1172.7 169.3zM1185.6 176.5L1198.1 177.6L1200.6 171.7L1188.2 170.7zM1201.2 177.9L1213.6 179.0L1216.2 173.1L1203.8 172.0zM1216.8 179.2L1229.2 180.3L1231.8 174.4L1219.3 173.4zM1232.4 180.6L1244.9 181.7L1247.4 175.8L1234.9 174.7zM1248.0 182.0L1260.5 183.0L1263.0 177.1L1250.5 176.1zM1263.6 183.3L1276.1 184.4L1278.6 178.5L1266.1 177.4zM1279.2 184.7L1291.8 185.8L1294.2 179.9L1281.7 178.8zM1294.9 186.0L1307.4 187.1L1309.8 181.2L1297.3 180.1zM1310.6 187.4L1323.1 188.5L1325.5 182.6L1313.0 181.5zM1326.3 188.8L1338.8 189.9L1341.2 183.9L1328.6 182.9zM1342.0 190.1L1354.6 191.2L1356.9 185.3L1344.3 184.2zM1357.7 191.5L1370.3 192.6L1372.6 186.7L1360.0 185.6zM1373.4 192.9L1386.0 194.0L1388.3 188.0L1375.7 186.9zM1389.2 194.3L1401.8 195.4L1404.0 189.4L1391.5 188.3zM1405.0 195.6L1417.6 196.7L1419.8 190.8L1407.2 189.7zM1420.8 197.0L1433.4 198.1L1435.6 192.1L1422.9 191.0zM1436.6 198.4L1449.2 199.5L1451.3 193.5L1438.7 192.4zM1452.4 199.8L1465.0 200.9L1467.2 194.9L1454.5 193.8zM1468.2 201.1L1480.9 202.2L1483.0 196.3L1470.3 195.2zM1484.0 202.5L1496.7 203.6L1498.8 197.6L1486.1 196.5zM1499.9 203.9L1512.6 205.0L1514.6 199.0L1502.0 197.9zM1515.8 205.3L1528.5 206.4L1530.5 200.4L1517.8 199.3zM1531.7 206.7L1544.4 207.8L1546.4 201.8L1533.7 200.7zM1547.6 208.0L1560.3 209.2L1562.3 203.1L1549.6 202.0zM1563.5 209.4L1576.3 210.5L1578.2 204.5L1565.5 203.4zM1579.5 210.8L1592.2 211.9L1594.1 205.9L1581.4 204.8zM1595.4 212.2L1608.2 213.3L1610.1 207.3L1597.3 206.2zM1611.4 213.6L1624.2 214.7L1626.0 208.7L1613.2 207.6zM1627.4 215.0L1640.2 216.1L1642.0 210.1L1629.2 209.0zM1643.4 216.4L1656.2 217.5L1658.0 211.5L1645.2 210.4zM1659.4 217.8L1672.2 218.9L1674.0 212.9L1661.2 211.7zM1675.4 219.2L1688.3 220.3L1690.0 214.2L1677.2 213.1zM1691.5 220.6L1704.3 221.7L1706.0 215.6L1693.2 214.5zM1707.6 222.0L1720.4 223.1L1722.1 217.0L1709.3 215.9zM1723.6 223.4L1736.5 224.5L1738.2 218.4L1725.3 217.3zM1739.7 224.8L1752.6 225.9L1754.2 219.8L1741.4 218.7zM1755.9 226.2L1768.8 227.3L1770.4 221.2L1757.5 220.1zM1772.0 227.6L1784.9 228.7L1786.5 222.6L1773.6 221.5zM1788.1 229.0L1801.1 230.1L1802.6 224.0L1789.7 222.9zM1804.3 230.4L1817.3 231.5L1818.8 225.4L1805.8 224.3zM1820.5 231.8L1833.5 232.9L1834.9 226.8L1822.0 225.7zM1836.7 233.2L1849.7 234.3L1851.1 228.2L1838.2 227.1zM1852.9 234.6L1865.9 235.8L1867.3 229.6L1854.3 228.5zM1869.1 236.0L1882.1 237.2L1883.5 231.1L1870.5 229.9zM1885.4 237.5L1898.4 238.6L1899.7 232.5L1886.8 231.3zM1901.6 238.9L1914.7 240.0L1916.0 233.9L1903.0 232.7zM1917.9 240.3L1931.0 241.4L1932.2 235.3L1919.2 234.2zM1934.2 241.7L1947.3 242.8L1948.5 236.7L1935.5 235.6zM1950.5 243.1L1963.6 244.3L1964.8 238.1L1951.8 237.0zM1966.9 244.5L1979.9 245.7L1981.1 239.5L1968.1 238.4zM1983.2 246.0L1996.3 247.1L1997.5 241.0L1984.4 239.8zM1999.6 247.4L2012.7 248.5L2013.8 242.4L2000.7 241.2z" fill="#74d3ac"/>
<path d="M1000.0 187.8L1012.3 188.9L1012.3 161.4L1000.0 160.4zM1015.3 189.2L1027.6 190.2L1027.7 162.8L1015.4 161.7zM1030.7 190.5L1043.0 191.6L1043.1 164.1L1030.8 163.0zM1046.1 191.9L1058.4 193.0L1058.5 165.5L1046.2 164.4zM1061.5 193.2L1073.9 194.3L1074.0 166.8L1061.6 165.7zM1076.9 194.6L1089.3 195.7L1089.4 168.2L1077.1 167.1zM1092.4 195.9L1104.7 197.0L1104.9 169.5L1092.5 168.4zM1107.8 197.3L1120.2 198.4L1120.4 170.8L1108.0 169.8zM1123.3 198.7L1135.7 199.7L1135.9 172.2L1123.5 171.1zM1138.8 200.0L1151.2 201.1L1151.4 173.6L1139.0 172.5zM1154.3 201.4L1166.7 202.5L1166.9 174.9L1154.5 173.8zM1169.8 202.7L1182.2 203.8L1182.5 176.3L1170.1 175.2zM1185.3 204.1L1197.8 205.2L1198.1 177.6L1185.6 176.5zM1200.9 205.5L1213.3 206.6L1213.6 179.0L1201.2 177.9zM1216.4 206.8L1228.9 207.9L1229.2 180.3L1216.8 179.2zM1232.0 208.2L1244.5 209.3L1244.9 181.7L1232.4 180.6zM1247.6 209.6L1260.1 210.7L1260.5 183.0L1248.0 182.0zM1263.2 211.0L1275.7 212.1L1276.1 184.4L1263.6 183.3zM1278.8 212.3L1291.3 213.4L1291.8 185.8L1279.2 184.7zM1294.5 213.7L1307.0 214.8L1307.4 187.1L1294.9 186.0zM1310.1 215.1L1322.7 216.2L1323.1 188.5L1310.6 187.4zM1325.8 216.5L1338.3 217.6L1338.8 189.9L1326.3 188.8zM1341.5 217.8L1354.0 218.9L1354.6 191.2L1342.0 190.1zM1357.2 219.2L1369.7 220.3L1370.3 192.6L1357.7 191.5zM1372.9 220.6L1385.5 221.7L1386.0 194.0L1373.4 192.9zM1388.6 222.0L1401.2 223.1L1401.8 195.4L1389.2 194.3zM1404.4 223.4L1417.0 224.5L1417.6 196.7L1405.0 195.6zM1420.1 224.8L1432.7 225.9L1433.4 198.1L1420.8 197.0zM1435.9 226.1L1448.5 227.3L1449.2 199.5L1436.6 198.4zM1451.7 227.5L1464.3 228.6L1465.0 200.9L1452.4 199.8zM1467.5 228.9L1480.2 230.0L1480.9 202.2L1468.2 201.1zM1483.3 230.3L1496.0 231.4L1496.7 203.6L1484.0 202.5zM1499.2 231.7L1511.8 232.8L1512.6 205.0L1499.9 203.9zM1515.0 233.1L1527.7 234.2L1528.5 206.4L1515.8 205.3zM1530.9 234.5L1543.6 235.6L1544.4 207.8L1531.7 206.7zM1546.8 235.9L1559.5 237.0L1560.3 209.2L1547.6 208.0zM1562.7 237.3L1575.4 238.4L1576.3 210.5L1563.5 209.4zM1578.6 238.7L1591.3 239.8L1592.2 211.9L1579.5 210.8zM1594.5 240.1L1607.3 241.2L1608.2 213.3L1595.4 212.2zM1610.5 241.5L1623.2 242.6L1624.2 214.7L1611.4 213.6zM1626.4 242.9L1639.2 244.0L1640.2 216.1L1627.4 215.0zM1642.4 244.3L1655.2 245.4L1656.2 217.5L1643.4 216.4zM1658.4 245.7L1671.2 246.8L1672.2 218.9L1659.4 217.8zM1674.4 247.1L1687.2 248.2L1688.3 220.3L1675.4 219.2zM1690.5 248.5L1703.3 249.7L1704.3 221.7L1691.5 220.6zM1706.5 249.9L1719.3 251.1L1720.4 223.1L1707.6 222.0zM1722.6 251.4L1735.4 252.5L1736.5 224.5L1723.6 223.4zM1738.6 252.8L1751.5 253.9L1752.6 225.9L1739.7 224.8zM1754.7 254.2L1767.6 255.3L1768.8 227.3L1755.9 226.2zM1770.8 255.6L1783.7 256.7L1784.9 228.7L1772.0 227.6zM1787.0 257.0L1799.9 258.2L1801.1 230.1L1788.1 229.0zM1803.1 258.4L1816.0 259.6L1817.3 231.5L1804.3 230.4zM1819.3 259.9L1832.2 261.0L1833.5 232.9L1820.5 231.8zM1835.4 261.3L1848.4 262.4L1849.7 234.3L1836.7 233.2zM1851.6 262.7L1864.6 263.8L1865.9 235.8L1852.9 234.6zM1867.8 264.1L1880.8 265.3L1882.1 237.2L1869.1 236.0zM1884.1 265.6L1897.0 266.7L1898.4 238.6L1885.4 237.5zM1900.3 267.0L1913.3 268.1L1914.7 240.0L1901.6 238.9zM1916.5 268.4L1929.6 269.6L1931.0 241.4L1917.9 240.3zM1932.8 269.8L1945.8 271.0L1947.3 242.8L1934.2 241.7zM1949.1 271.3L1962.1 272.4L1963.6 244.3L1950.5 243.1zM1965.4 272.7L1978.5 273.9L1979.9 245.7L1966.9 244.5zM1981.7 274.1L1994.8 275.3L1996.3 247.1L1983.2 246.0zM1998.1 275.6L2011.1 276.7L2012.7 248.5L1999.6 247.4z" fill="#8df3c0"/>
<path d="M1008.6 196.2L1011.5 190.4L1011.6 162.9L1008.6 168.7zM1024.0 197.6L1026.9 191.7L1027.0 164.2L1024.1 170.1zM1039.5 199.0L1042.3 193.1L1042.4 165.6L1039.5 171.4zM1054.9 200.3L1057.7 194.4L1057.8 166.9L1055.0 172.8zM1070.3 201.7L1073.2 195.8L1073.3 168.3L1070.5 174.1zM1085.8 203.1L1088.6 197.1L1088.7 169.6L1085.9 175.5zM1101.3 204.4L1104.1 198.5L1104.2 171.0L1101.5 176.8zM1116.8 205.8L1119.5 199.9L1119.7 172.3L1117.0 178.2zM1132.3 207.2L1135.0 201.2L1135.2 173.7L1132.5 179.6zM1147.8 208.5L1150.5 202.6L1150.7 175.0L1148.1 180.9zM1163.4 209.9L1166.0 204.0L1166.3 176.4L1163.6 182.3zM1178.9 211.3L1181.6 205.3L1181.8 177.7L1179.2 183.6zM1194.5 212.6L1197.1 206.7L1197.4 179.1L1194.8 185.0zM1210.1 214.0L1212.7 208.1L1213.0 180.4L1210.4 186.4zM1225.7 215.4L1228.3 209.4L1228.6 181.8L1226.1 187.7zM1241.3 216.8L1243.9 210.8L1244.2 183.2L1241.7 189.1zM1257.0 218.1L1259.5 212.2L1259.9 184.5L1257.4 190.5zM1272.6 219.5L1275.1 213.6L1275.5 185.9L1273.0 191.8zM1288.3 220.9L1290.7 214.9L1291.2 187.3L1288.7 193.2zM1304.0 222.3L1306.4 216.3L1306.8 188.6L1304.4 194.6zM1319.7 223.7L1322.1 217.7L1322.5 190.0L1320.2 195.9zM1335.4 225.1L1337.7 219.1L1338.3 191.4L1335.9 197.3zM1351.1 226.4L1353.5 220.4L1354.0 192.7L1351.7 198.7zM1366.9 227.8L1369.2 221.8L1369.7 194.1L1367.4 200.1zM1382.6 229.2L1384.9 223.2L1385.5 195.5L1383.2 201.4zM1398.4 230.6L1400.7 224.6L1401.3 196.8L1399.0 202.8zM1414.2 232.0L1416.4 226.0L1417.0 198.2L1414.8 204.2zM1430.0 233.4L1432.2 227.4L1432.8 199.6L1430.7 205.6zM1445.8 234.8L1448.0 228.8L1448.7 201.0L1446.5 207.0zM1461.7 236.2L1463.8 230.2L1464.5 202.4L1462.4 208.3zM1477.5 237.6L1479.6 231.5L1480.3 203.7L1478.2 209.7zM1493.4 239.0L1495.5 232.9L1496.2 205.1L1494.1 211.1zM1509.3 240.4L1511.3 234.3L1512.1 206.5L1510.1 212.5zM1525.2 241.8L1527.2 235.7L1528.0 207.9L1526.0 213.9zM1541.1 243.2L1543.1 237.1L1543.9 209.3L1541.9 215.3zM1557.0 244.6L1559.0 238.5L1559.8 210.7L1557.9 216.7zM1573.0 246.0L1574.9 239.9L1575.8 212.0L1573.9 218.1zM1589.0 247.4L1590.9 241.3L1591.7 213.4L1589.8 219.5zM1604.9 248.8L1606.8 242.7L1607.7 214.8L1605.8 220.9zM1620.9 250.2L1622.8 244.1L1623.7 216.2L1621.9 222.3zM1637.0 251.6L1638.8 245.5L1639.7 217.6L1637.9 223.7zM1653.0 253.1L1654.8 247.0L1655.8 219.0L1654.0 225.1zM1669.0 254.5L1670.8 248.4L1671.8 220.4L1670.0 226.5zM1685.1 255.9L1686.8 249.8L1687.8 221.8L1686.1 227.9zM1701.2 257.3L1702.9 251.2L1703.9 223.2L1702.2 229.3zM1717.3 258.7L1718.9 252.6L1720.0 224.6L1718.3 230.7zM1733.4 260.1L1735.0 254.0L1736.1 226.0L1734.5 232.1zM1749.5 261.6L1751.1 255.4L1752.2 227.4L1750.6 233.5zM1765.6 263.0L1767.2 256.8L1768.4 228.8L1766.8 234.9zM1781.8 264.4L1783.3 258.3L1784.5 230.2L1783.0 236.3zM1798.0 265.8L1799.5 259.7L1800.7 231.6L1799.2 237.8zM1814.2 267.3L1815.7 261.1L1816.9 233.0L1815.4 239.2zM1830.4 268.7L1831.8 262.5L1833.1 234.5L1831.6 240.6zM1846.6 270.1L1848.0 264.0L1849.3 235.9L1847.9 242.0zM1862.8 271.6L1864.2 265.4L1865.5 237.3L1864.1 243.4zM1879.1 273.0L1880.5 266.8L1881.8 238.7L1880.4 244.8zM1895.3 274.4L1896.7 268.2L1898.1 240.1L1896.7 246.3zM1911.6 275.9L1913.0 269.7L1914.3 241.5L1913.0 247.7zM1927.9 277.3L1929.2 271.1L1930.6 243.0L1929.3 249.1zM1944.3 278.7L1945.5 272.5L1947.0 244.4L1945.7 250.5zM1960.6 280.2L1961.8 274.0L1963.3 245.8L1962.1 252.0zM1977.0 281.6L1978.2 275.4L1979.6 247.2L1978.4 253.4zM1993.3 283.1L1994.5 276.8L1996.0 248.6L1994.8 254.8zM2009.7 284.5L2010.9 278.3L2012.4 250.1L2011.2 256.3z" fill="#3a8460" stroke="#3a8460" stroke-width="0.9" stroke-linejoin="round"/>
<path d="M996.3 167.7L1008.6 168.7L1011.6 162.9L999.2 161.8zM1011.7 169.0L1024.1 170.1L1027.0 164.2L1014.6 163.2zM1027.2 170.4L1039.5 171.4L1042.4 165.6L1030.0 164.5zM1042.6 171.7L1055.0 172.8L1057.8 166.9L1045.5 165.8zM1058.1 173.1L1070.5 174.1L1073.3 168.3L1060.9 167.2zM1073.5 174.4L1085.9 175.5L1088.7 169.6L1076.4 168.5zM1089.0 175.8L1101.5 176.8L1104.2 171.0L1091.8 169.9zM1104.6 177.1L1117.0 178.2L1119.7 172.3L1107.3 171.2zM1120.1 178.5L1132.5 179.6L1135.2 173.7L1122.8 172.6zM1135.6 179.8L1148.1 180.9L1150.7 175.0L1138.3 173.9zM1151.2 181.2L1163.6 182.3L1166.3 176.4L1153.9 175.3zM1166.7 182.5L1179.2 183.6L1181.8 177.7L1169.4 176.6zM1182.3 183.9L1194.8 185.0L1197.4 179.1L1185.0 178.0zM1197.9 185.3L1210.4 186.4L1213.0 180.4L1200.5 179.4zM1213.6 186.6L1226.1 187.7L1228.6 181.8L1216.1 180.7zM1229.2 188.0L1241.7 189.1L1244.2 183.2L1231.7 182.1zM1244.8 189.4L1257.4 190.5L1259.9 184.5L1247.3 183.4zM1260.5 190.7L1273.0 191.8L1275.5 185.9L1263.0 184.8zM1276.2 192.1L1288.7 193.2L1291.2 187.3L1278.6 186.2zM1291.9 193.5L1304.4 194.6L1306.8 188.6L1294.3 187.5zM1307.6 194.8L1320.2 195.9L1322.5 190.0L1310.0 188.9zM1323.3 196.2L1335.9 197.3L1338.3 191.4L1325.7 190.3zM1339.1 197.6L1351.7 198.7L1354.0 192.7L1341.4 191.6zM1354.8 199.0L1367.4 200.1L1369.7 194.1L1357.1 193.0zM1370.6 200.3L1383.2 201.4L1385.5 195.5L1372.9 194.4zM1386.4 201.7L1399.0 202.8L1401.3 196.8L1388.6 195.7zM1402.2 203.1L1414.8 204.2L1417.0 198.2L1404.4 197.1zM1418.0 204.5L1430.7 205.6L1432.8 199.6L1420.2 198.5zM1433.8 205.9L1446.5 207.0L1448.7 201.0L1436.0 199.9zM1449.7 207.2L1462.4 208.3L1464.5 202.4L1451.8 201.2zM1465.5 208.6L1478.2 209.7L1480.3 203.7L1467.7 202.6zM1481.4 210.0L1494.1 211.1L1496.2 205.1L1483.5 204.0zM1497.3 211.4L1510.1 212.5L1512.1 206.5L1499.4 205.4zM1513.2 212.8L1526.0 213.9L1528.0 207.9L1515.3 206.8zM1529.2 214.2L1541.9 215.3L1543.9 209.3L1531.2 208.2zM1545.1 215.6L1557.9 216.7L1559.8 210.7L1547.1 209.5zM1561.1 217.0L1573.9 218.1L1575.8 212.0L1563.0 210.9zM1577.0 218.4L1589.8 219.5L1591.7 213.4L1579.0 212.3zM1593.0 219.8L1605.8 220.9L1607.7 214.8L1594.9 213.7zM1609.1 221.2L1621.9 222.3L1623.7 216.2L1610.9 215.1zM1625.1 222.6L1637.9 223.7L1639.7 217.6L1626.9 216.5zM1641.1 224.0L1654.0 225.1L1655.8 219.0L1642.9 217.9zM1657.2 225.4L1670.0 226.5L1671.8 220.4L1659.0 219.3zM1673.2 226.8L1686.1 227.9L1687.8 221.8L1675.0 220.7zM1689.3 228.2L1702.2 229.3L1703.9 223.2L1691.1 222.1zM1705.4 229.6L1718.3 230.7L1720.0 224.6L1707.1 223.5zM1721.6 231.0L1734.5 232.1L1736.1 226.0L1723.2 224.9zM1737.7 232.4L1750.6 233.5L1752.2 227.4L1739.3 226.3zM1753.9 233.8L1766.8 234.9L1768.4 228.8L1755.5 227.7zM1770.0 235.2L1783.0 236.3L1784.5 230.2L1771.6 229.1zM1786.2 236.6L1799.2 237.8L1800.7 231.6L1787.8 230.5zM1802.4 238.0L1815.4 239.2L1816.9 233.0L1803.9 231.9zM1818.6 239.5L1831.6 240.6L1833.1 234.5L1820.1 233.3zM1834.9 240.9L1847.9 242.0L1849.3 235.9L1836.3 234.7zM1851.1 242.3L1864.1 243.4L1865.5 237.3L1852.5 236.2zM1867.4 243.7L1880.4 244.8L1881.8 238.7L1868.8 237.6zM1883.7 245.1L1896.7 246.3L1898.1 240.1L1885.0 239.0zM1900.0 246.6L1913.0 247.7L1914.3 241.5L1901.3 240.4zM1916.3 248.0L1929.3 249.1L1930.6 243.0L1917.6 241.8zM1932.6 249.4L1945.7 250.5L1947.0 244.4L1933.9 243.2zM1949.0 250.8L1962.1 252.0L1963.3 245.8L1950.2 244.7zM1965.3 252.3L1978.4 253.4L1979.6 247.2L1966.6 246.1zM1981.7 253.7L1994.8 254.8L1996.0 248.6L1982.9 247.5zM1998.1 255.1L2011.2 256.3L2012.4 250.1L1999.3 248.9z" fill="#74d3ac"/>
<path d="M996.3 195.2L1008.6 196.2L1008.6 168.7L996.3 167.7zM1011.7 196.5L1024.0 197.6L1024.1 170.1L1011.7 169.0zM1027.1 197.9L1039.5 199.0L1039.5 171.4L1027.2 170.4zM1042.5 199.2L1054.9 200.3L1055.0 172.8L1042.6 171.7zM1058.0 200.6L1070.3 201.7L1070.5 174.1L1058.1 173.1zM1073.4 202.0L1085.8 203.1L1085.9 175.5L1073.5 174.4zM1088.9 203.3L1101.3 204.4L1101.5 176.8L1089.0 175.8zM1104.4 204.7L1116.8 205.8L1117.0 178.2L1104.6 177.1zM1119.9 206.1L1132.3 207.2L1132.5 179.6L1120.1 178.5zM1135.4 207.4L1147.8 208.5L1148.1 180.9L1135.6 179.8zM1151.0 208.8L1163.4 209.9L1163.6 182.3L1151.2 181.2zM1166.5 210.2L1178.9 211.3L1179.2 183.6L1166.7 182.5zM1182.1 211.5L1194.5 212.6L1194.8 185.0L1182.3 183.9zM1197.6 212.9L1210.1 214.0L1210.4 186.4L1197.9 185.3zM1213.2 214.3L1225.7 215.4L1226.1 187.7L1213.6 186.6zM1228.8 215.7L1241.3 216.8L1241.7 189.1L1229.2 188.0zM1244.5 217.0L1257.0 218.1L1257.4 190.5L1244.8 189.4zM1260.1 218.4L1272.6 219.5L1273.0 191.8L1260.5 190.7zM1275.8 219.8L1288.3 220.9L1288.7 193.2L1276.2 192.1zM1291.4 221.2L1304.0 222.3L1304.4 194.6L1291.9 193.5zM1307.1 222.6L1319.7 223.7L1320.2 195.9L1307.6 194.8zM1322.8 224.0L1335.4 225.1L1335.9 197.3L1323.3 196.2zM1338.5 225.3L1351.1 226.4L1351.7 198.7L1339.1 197.6zM1354.3 226.7L1366.9 227.8L1367.4 200.1L1354.8 199.0zM1370.0 228.1L1382.6 229.2L1383.2 201.4L1370.6 200.3zM1385.8 229.5L1398.4 230.6L1399.0 202.8L1386.4 201.7zM1401.6 230.9L1414.2 232.0L1414.8 204.2L1402.2 203.1zM1417.4 232.3L1430.0 233.4L1430.7 205.6L1418.0 204.5zM1433.2 233.7L1445.8 234.8L1446.5 207.0L1433.8 205.9zM1449.0 235.1L1461.7 236.2L1462.4 208.3L1449.7 207.2zM1464.8 236.5L1477.5 237.6L1478.2 209.7L1465.5 208.6zM1480.7 237.9L1493.4 239.0L1494.1 211.1L1481.4 210.0zM1496.6 239.3L1509.3 240.4L1510.1 212.5L1497.3 211.4zM1512.5 240.7L1525.2 241.8L1526.0 213.9L1513.2 212.8zM1528.4 242.1L1541.1 243.2L1541.9 215.3L1529.2 214.2zM1544.3 243.5L1557.0 244.6L1557.9 216.7L1545.1 215.6zM1560.2 244.9L1573.0 246.0L1573.9 218.1L1561.1 217.0zM1576.2 246.3L1589.0 247.4L1589.8 219.5L1577.0 218.4zM1592.2 247.7L1604.9 248.8L1605.8 220.9L1593.0 219.8zM1608.1 249.1L1620.9 250.2L1621.9 222.3L1609.1 221.2zM1624.1 250.5L1637.0 251.6L1637.9 223.7L1625.1 222.6zM1640.2 251.9L1653.0 253.1L1654.0 225.1L1641.1 224.0zM1656.2 253.3L1669.0 254.5L1670.0 226.5L1657.2 225.4zM1672.2 254.8L1685.1 255.9L1686.1 227.9L1673.2 226.8zM1688.3 256.2L1701.2 257.3L1702.2 229.3L1689.3 228.2zM1704.4 257.6L1717.3 258.7L1718.3 230.7L1705.4 229.6zM1720.5 259.0L1733.4 260.1L1734.5 232.1L1721.6 231.0zM1736.6 260.4L1749.5 261.6L1750.6 233.5L1737.7 232.4zM1752.7 261.9L1765.6 263.0L1766.8 234.9L1753.9 233.8zM1768.9 263.3L1781.8 264.4L1783.0 236.3L1770.0 235.2zM1785.0 264.7L1798.0 265.8L1799.2 237.8L1786.2 236.6zM1801.2 266.1L1814.2 267.3L1815.4 239.2L1802.4 238.0zM1817.4 267.6L1830.4 268.7L1831.6 240.6L1818.6 239.5zM1833.6 269.0L1846.6 270.1L1847.9 242.0L1834.9 240.9zM1849.8 270.4L1862.8 271.6L1864.1 243.4L1851.1 242.3zM1866.1 271.9L1879.1 273.0L1880.4 244.8L1867.4 243.7zM1882.3 273.3L1895.3 274.4L1896.7 246.3L1883.7 245.1zM1898.6 274.7L1911.6 275.9L1913.0 247.7L1900.0 246.6zM1914.9 276.2L1927.9 277.3L1929.3 249.1L1916.3 248.0zM1931.2 277.6L1944.3 278.7L1945.7 250.5L1932.6 249.4zM1947.5 279.0L1960.6 280.2L1962.1 252.0L1949.0 250.8zM1963.9 280.5L1977.0 281.6L1978.4 253.4L1965.3 252.3zM1980.2 281.9L1993.3 283.1L1994.8 254.8L1981.7 253.7zM1996.6 283.4L2009.7 284.5L2011.2 256.3L1998.1 255.1z" fill="#8df3c0"/>
<path d="M1005.0 203.6L1007.9 197.7L1007.9 170.2L1005.0 176.1zM1020.4 205.0L1023.3 199.1L1023.3 171.5L1020.4 177.4zM1035.9 206.4L1038.7 200.4L1038.8 172.9L1035.9 178.8zM1051.3 207.7L1054.2 201.8L1054.3 174.2L1051.4 180.1zM1066.8 209.1L1069.6 203.2L1069.7 175.6L1066.9 181.5zM1082.3 210.5L1085.1 204.5L1085.2 177.0L1082.4 182.8zM1097.8 211.8L1100.6 205.9L1100.8 178.3L1098.0 184.2zM1113.4 213.2L1116.1 207.3L1116.3 179.7L1113.5 185.6zM1128.9 214.6L1131.6 208.6L1131.8 181.0L1129.1 186.9zM1144.5 216.0L1147.2 210.0L1147.4 182.4L1144.7 188.3zM1160.1 217.3L1162.7 211.4L1163.0 183.7L1160.3 189.7zM1175.7 218.7L1178.3 212.8L1178.6 185.1L1175.9 191.0zM1191.3 220.1L1193.9 214.1L1194.2 186.5L1191.6 192.4zM1206.9 221.5L1209.5 215.5L1209.8 187.8L1207.2 193.8zM1222.5 222.9L1225.1 216.9L1225.4 189.2L1222.9 195.1zM1238.2 224.2L1240.7 218.3L1241.1 190.6L1238.5 196.5zM1253.9 225.6L1256.4 219.6L1256.7 191.9L1254.2 197.9zM1269.5 227.0L1272.0 221.0L1272.4 193.3L1270.0 199.3zM1285.3 228.4L1287.7 222.4L1288.1 194.7L1285.7 200.6zM1301.0 229.8L1303.4 223.8L1303.8 196.0L1301.4 202.0zM1316.7 231.2L1319.1 225.2L1319.6 197.4L1317.2 203.4zM1332.5 232.6L1334.8 226.6L1335.3 198.8L1332.9 204.8zM1348.2 234.0L1350.5 227.9L1351.1 200.2L1348.7 206.2zM1364.0 235.4L1366.3 229.3L1366.8 201.6L1364.5 207.5zM1379.8 236.8L1382.1 230.7L1382.6 202.9L1380.4 208.9zM1395.6 238.2L1397.9 232.1L1398.4 204.3L1396.2 210.3zM1411.4 239.6L1413.7 233.5L1414.3 205.7L1412.0 211.7zM1427.3 241.0L1429.5 234.9L1430.1 207.1L1427.9 213.1zM1443.1 242.4L1445.3 236.3L1446.0 208.5L1443.8 214.5zM1459.0 243.8L1461.1 237.7L1461.8 209.9L1459.7 215.9zM1474.9 245.2L1477.0 239.1L1477.7 211.2L1475.6 217.3zM1490.8 246.6L1492.9 240.5L1493.6 212.6L1491.5 218.7zM1506.7 248.0L1508.8 241.9L1509.5 214.0L1507.5 220.1zM1522.7 249.4L1524.7 243.3L1525.5 215.4L1523.4 221.5zM1538.6 250.8L1540.6 244.7L1541.4 216.8L1539.4 222.9zM1554.6 252.2L1556.6 246.1L1557.4 218.2L1555.4 224.3zM1570.6 253.6L1572.5 247.5L1573.4 219.6L1571.4 225.7zM1586.6 255.1L1588.5 248.9L1589.4 221.0L1587.5 227.1zM1602.6 256.5L1604.5 250.4L1605.4 222.4L1603.5 228.5zM1618.6 257.9L1620.5 251.8L1621.4 223.8L1619.6 229.9zM1634.7 259.3L1636.5 253.2L1637.5 225.2L1635.6 231.3zM1650.7 260.7L1652.5 254.6L1653.5 226.6L1651.7 232.7zM1666.8 262.1L1668.6 256.0L1669.6 228.0L1667.8 234.1zM1682.9 263.6L1684.7 257.4L1685.7 229.4L1683.9 235.5zM1699.0 265.0L1700.7 258.8L1701.8 230.8L1700.1 236.9zM1715.2 266.4L1716.8 260.3L1717.9 232.2L1716.2 238.3zM1731.3 267.9L1733.0 261.7L1734.1 233.6L1732.4 239.8zM1747.5 269.3L1749.1 263.1L1750.2 235.0L1748.6 241.2zM1763.6 270.7L1765.2 264.5L1766.4 236.5L1764.8 242.6zM1779.8 272.1L1781.4 266.0L1782.6 237.9L1781.0 244.0zM1796.0 273.6L1797.6 267.4L1798.8 239.3L1797.2 245.4zM1812.3 275.0L1813.8 268.8L1815.0 240.7L1813.5 246.9zM1828.5 276.4L1830.0 270.2L1831.2 242.1L1829.8 248.3zM1844.8 277.9L1846.2 271.7L1847.5 243.5L1846.1 249.7zM1861.1 279.3L1862.5 273.1L1863.8 245.0L1862.4 251.1zM1877.3 280.8L1878.7 274.5L1880.1 246.4L1878.7 252.6zM1893.7 282.2L1895.0 276.0L1896.4 247.8L1895.0 254.0zM1910.0 283.6L1911.3 277.4L1912.7 249.2L1911.4 255.4zM1926.3 285.1L1927.6 278.9L1929.0 250.7L1927.7 256.9zM1942.7 286.5L1943.9 280.3L1945.4 252.1L1944.1 258.3zM1959.0 288.0L1960.3 281.7L1961.7 253.5L1960.5 259.7zM1975.4 289.4L1976.7 283.2L1978.1 255.0L1976.9 261.2zM1991.8 290.9L1993.0 284.6L1994.5 256.4L1993.4 262.6zM2008.3 292.3L2009.4 286.1L2011.0 257.8L2009.8 264.0z" fill="#3a8460" stroke="#3a8460" stroke-width="0.9" stroke-linejoin="round"/>
<path d="M992.6 175.0L1005.0 176.1L1007.9 170.2L995.6 169.1zM1008.1 176.3L1020.4 177.4L1023.3 171.5L1011.0 170.5zM1023.5 177.7L1035.9 178.8L1038.8 172.9L1026.4 171.8zM1039.0 179.0L1051.4 180.1L1054.3 174.2L1041.9 173.2zM1054.5 180.4L1066.9 181.5L1069.7 175.6L1057.4 174.5zM1070.0 181.8L1082.4 182.8L1085.2 177.0L1072.8 175.9zM1085.6 183.1L1098.0 184.2L1100.8 178.3L1088.3 177.2zM1101.1 184.5L1113.5 185.6L1116.3 179.7L1103.9 178.6zM1116.7 185.8L1129.1 186.9L1131.8 181.0L1119.4 179.9zM1132.2 187.2L1144.7 188.3L1147.4 182.4L1134.9 181.3zM1147.8 188.6L1160.3 189.7L1163.0 183.7L1150.5 182.7zM1163.4 189.9L1175.9 191.0L1178.6 185.1L1166.1 184.0zM1179.0 191.3L1191.6 192.4L1194.2 186.5L1181.7 185.4zM1194.7 192.7L1207.2 193.8L1209.8 187.8L1197.3 186.7zM1210.3 194.0L1222.9 195.1L1225.4 189.2L1212.9 188.1zM1226.0 195.4L1238.5 196.5L1241.1 190.6L1228.6 189.5zM1241.7 196.8L1254.2 197.9L1256.7 191.9L1244.2 190.8zM1257.4 198.2L1270.0 199.3L1272.4 193.3L1259.9 192.2zM1273.1 199.5L1285.7 200.6L1288.1 194.7L1275.6 193.6zM1288.8 200.9L1301.4 202.0L1303.8 196.0L1291.3 195.0zM1304.6 202.3L1317.2 203.4L1319.6 197.4L1307.0 196.3zM1320.3 203.7L1332.9 204.8L1335.3 198.8L1322.7 197.7zM1336.1 205.1L1348.7 206.2L1351.1 200.2L1338.5 199.1zM1351.9 206.4L1364.5 207.5L1366.8 201.6L1354.2 200.5zM1367.7 207.8L1380.4 208.9L1382.6 202.9L1370.0 201.8zM1383.5 209.2L1396.2 210.3L1398.4 204.3L1385.8 203.2zM1399.4 210.6L1412.0 211.7L1414.3 205.7L1401.6 204.6zM1415.2 212.0L1427.9 213.1L1430.1 207.1L1417.4 206.0zM1431.1 213.4L1443.8 214.5L1446.0 208.5L1433.3 207.4zM1447.0 214.8L1459.7 215.9L1461.8 209.9L1449.1 208.7zM1462.9 216.2L1475.6 217.3L1477.7 211.2L1465.0 210.1zM1478.8 217.5L1491.5 218.7L1493.6 212.6L1480.9 211.5zM1494.7 218.9L1507.5 220.1L1509.5 214.0L1496.8 212.9zM1510.7 220.3L1523.4 221.5L1525.5 215.4L1512.7 214.3zM1526.6 221.7L1539.4 222.9L1541.4 216.8L1528.7 215.7zM1542.6 223.1L1555.4 224.3L1557.4 218.2L1544.6 217.1zM1558.6 224.5L1571.4 225.7L1573.4 219.6L1560.6 218.5zM1574.6 225.9L1587.5 227.1L1589.4 221.0L1576.6 219.9zM1590.7 227.3L1603.5 228.5L1605.4 222.4L1592.6 221.3zM1606.7 228.7L1619.6 229.9L1621.4 223.8L1608.6 222.7zM1622.8 230.2L1635.6 231.3L1637.5 225.2L1624.6 224.1zM1638.8 231.6L1651.7 232.7L1653.5 226.6L1640.7 225.5zM1654.9 233.0L1667.8 234.1L1669.6 228.0L1656.7 226.9zM1671.0 234.4L1683.9 235.5L1685.7 229.4L1672.8 228.3zM1687.2 235.8L1700.1 236.9L1701.8 230.8L1688.9 229.7zM1703.3 237.2L1716.2 238.3L1717.9 232.2L1705.0 231.1zM1719.5 238.6L1732.4 239.8L1734.1 233.6L1721.1 232.5zM1735.6 240.0L1748.6 241.2L1750.2 235.0L1737.3 233.9zM1751.8 241.5L1764.8 242.6L1766.4 236.5L1753.4 235.3zM1768.0 242.9L1781.0 244.0L1782.6 237.9L1769.6 236.7zM1784.3 244.3L1797.2 245.4L1798.8 239.3L1785.8 238.2zM1800.5 245.7L1813.5 246.9L1815.0 240.7L1802.0 239.6zM1816.8 247.1L1829.8 248.3L1831.2 242.1L1818.3 241.0zM1833.0 248.6L1846.1 249.7L1847.5 243.5L1834.5 242.4zM1849.3 250.0L1862.4 251.1L1863.8 245.0L1850.8 243.8zM1865.6 251.4L1878.7 252.6L1880.1 246.4L1867.0 245.2zM1881.9 252.8L1895.0 254.0L1896.4 247.8L1883.3 246.7zM1898.3 254.3L1911.4 255.4L1912.7 249.2L1899.6 248.1zM1914.6 255.7L1927.7 256.9L1929.0 250.7L1916.0 249.5zM1931.0 257.1L1944.1 258.3L1945.4 252.1L1932.3 250.9zM1947.4 258.6L1960.5 259.7L1961.7 253.5L1948.6 252.4zM1963.8 260.0L1976.9 261.2L1978.1 255.0L1965.0 253.8zM1980.2 261.4L1993.4 262.6L1994.5 256.4L1981.4 255.2zM1996.6 262.9L2009.8 264.0L2011.0 257.8L1997.8 256.7z" fill="#74d3ac"/>
<path d="M992.6 202.5L1005.0 203.6L1005.0 176.1L992.6 175.0zM1008.0 203.9L1020.4 205.0L1020.4 177.4L1008.1 176.3zM1023.5 205.3L1035.9 206.4L1035.9 178.8L1023.5 177.7zM1039.0 206.6L1051.3 207.7L1051.4 180.1L1039.0 179.0zM1054.4 208.0L1066.8 209.1L1066.9 181.5L1054.5 180.4zM1069.9 209.4L1082.3 210.5L1082.4 182.8L1070.0 181.8zM1085.4 210.7L1097.8 211.8L1098.0 184.2L1085.6 183.1zM1100.9 212.1L1113.4 213.2L1113.5 185.6L1101.1 184.5zM1116.5 213.5L1128.9 214.6L1129.1 186.9L1116.7 185.8zM1132.0 214.9L1144.5 216.0L1144.7 188.3L1132.2 187.2zM1147.6 216.2L1160.1 217.3L1160.3 189.7L1147.8 188.6zM1163.2 217.6L1175.7 218.7L1175.9 191.0L1163.4 189.9zM1178.8 219.0L1191.3 220.1L1191.6 192.4L1179.0 191.3zM1194.4 220.4L1206.9 221.5L1207.2 193.8L1194.7 192.7zM1210.0 221.8L1222.5 222.9L1222.9 195.1L1210.3 194.0zM1225.7 223.1L1238.2 224.2L1238.5 196.5L1226.0 195.4zM1241.3 224.5L1253.9 225.6L1254.2 197.9L1241.7 196.8zM1257.0 225.9L1269.5 227.0L1270.0 199.3L1257.4 198.2zM1272.7 227.3L1285.3 228.4L1285.7 200.6L1273.1 199.5zM1288.4 228.7L1301.0 229.8L1301.4 202.0L1288.8 200.9zM1304.1 230.1L1316.7 231.2L1317.2 203.4L1304.6 202.3zM1319.8 231.5L1332.5 232.6L1332.9 204.8L1320.3 203.7zM1335.6 232.9L1348.2 234.0L1348.7 206.2L1336.1 205.1zM1351.4 234.3L1364.0 235.4L1364.5 207.5L1351.9 206.4zM1367.2 235.7L1379.8 236.8L1380.4 208.9L1367.7 207.8zM1383.0 237.0L1395.6 238.2L1396.2 210.3L1383.5 209.2zM1398.8 238.4L1411.4 239.6L1412.0 211.7L1399.4 210.6zM1414.6 239.8L1427.3 241.0L1427.9 213.1L1415.2 212.0zM1430.4 241.2L1443.1 242.4L1443.8 214.5L1431.1 213.4zM1446.3 242.7L1459.0 243.8L1459.7 215.9L1447.0 214.8zM1462.2 244.1L1474.9 245.2L1475.6 217.3L1462.9 216.2zM1478.1 245.5L1490.8 246.6L1491.5 218.7L1478.8 217.5zM1494.0 246.9L1506.7 248.0L1507.5 220.1L1494.7 218.9zM1509.9 248.3L1522.7 249.4L1523.4 221.5L1510.7 220.3zM1525.8 249.7L1538.6 250.8L1539.4 222.9L1526.6 221.7zM1541.8 251.1L1554.6 252.2L1555.4 224.3L1542.6 223.1zM1557.8 252.5L1570.6 253.6L1571.4 225.7L1558.6 224.5zM1573.8 253.9L1586.6 255.1L1587.5 227.1L1574.6 225.9zM1589.8 255.3L1602.6 256.5L1603.5 228.5L1590.7 227.3zM1605.8 256.8L1618.6 257.9L1619.6 229.9L1606.7 228.7zM1621.8 258.2L1634.7 259.3L1635.6 231.3L1622.8 230.2zM1637.9 259.6L1650.7 260.7L1651.7 232.7L1638.8 231.6zM1653.9 261.0L1666.8 262.1L1667.8 234.1L1654.9 233.0zM1670.0 262.4L1682.9 263.6L1683.9 235.5L1671.0 234.4zM1686.1 263.9L1699.0 265.0L1700.1 236.9L1687.2 235.8zM1702.3 265.3L1715.2 266.4L1716.2 238.3L1703.3 237.2zM1718.4 266.7L1731.3 267.9L1732.4 239.8L1719.5 238.6zM1734.5 268.1L1747.5 269.3L1748.6 241.2L1735.6 240.0zM1750.7 269.6L1763.6 270.7L1764.8 242.6L1751.8 241.5zM1766.9 271.0L1779.8 272.1L1781.0 244.0L1768.0 242.9zM1783.1 272.4L1796.0 273.6L1797.2 245.4L1784.3 244.3zM1799.3 273.9L1812.3 275.0L1813.5 246.9L1800.5 245.7zM1815.5 275.3L1828.5 276.4L1829.8 248.3L1816.8 247.1zM1831.8 276.7L1844.8 277.9L1846.1 249.7L1833.0 248.6zM1848.0 278.2L1861.1 279.3L1862.4 251.1L1849.3 250.0zM1864.3 279.6L1877.3 280.8L1878.7 252.6L1865.6 251.4zM1880.6 281.1L1893.7 282.2L1895.0 254.0L1881.9 252.8zM1896.9 282.5L1910.0 283.6L1911.4 255.4L1898.3 254.3zM1913.2 283.9L1926.3 285.1L1927.7 256.9L1914.6 255.7zM1929.6 285.4L1942.7 286.5L1944.1 258.3L1931.0 257.1zM1945.9 286.8L1959.0 288.0L1960.5 259.7L1947.4 258.6zM1962.3 288.3L1975.4 289.4L1976.9 261.2L1963.8 260.0zM1978.7 289.7L1991.8 290.9L1993.4 262.6L1980.2 261.4zM1995.1 291.2L2008.3 292.3L2009.8 264.0L1996.6 262.9z" fill="#8df3c0"/>
<path d="M1250.7 233.2L1253.2 227.1L1253.4 212.3L1250.9 218.3zM1266.4 234.6L1268.9 228.5L1269.1 213.6L1266.7 219.7zM1282.2 235.9L1284.6 229.9L1284.9 215.0L1282.4 221.0zM1297.9 237.3L1300.4 231.3L1300.6 216.4L1298.2 222.4zM1313.7 238.7L1316.1 232.7L1316.4 217.8L1314.0 223.8zM1329.5 240.1L1331.9 234.1L1332.1 219.2L1329.8 225.2zM1345.3 241.5L1347.6 235.5L1347.9 220.6L1345.6 226.6zM1361.1 242.9L1363.4 236.9L1363.7 222.0L1361.4 228.0zM1376.9 244.4L1379.2 238.3L1379.5 223.4L1377.2 229.4zM1392.8 245.8L1395.0 239.7L1395.4 224.8L1393.1 230.8zM1408.6 247.2L1410.9 241.1L1411.2 226.1L1409.0 232.2zM1424.5 248.6L1426.7 242.5L1427.1 227.5L1424.9 233.6zM1440.4 250.0L1442.6 243.9L1442.9 228.9L1440.8 235.0zM1456.3 251.4L1458.5 245.3L1458.8 230.3L1456.7 236.4zM1472.2 252.8L1474.4 246.7L1474.7 231.7L1472.6 237.8zM1488.2 254.2L1490.3 248.1L1490.7 233.1L1488.6 239.2zM1504.1 255.6L1506.2 249.5L1506.6 234.5L1504.6 240.6zM1520.1 257.0L1522.2 250.9L1522.6 236.0L1520.5 242.0zM1536.1 258.5L1538.1 252.3L1538.5 237.4L1536.5 243.5zM1552.1 259.9L1554.1 253.8L1554.5 238.8L1552.6 244.9zM1568.1 261.3L1570.1 255.2L1570.5 240.2L1568.6 246.3zM1584.2 262.7L1586.1 256.6L1586.6 241.6L1584.6 247.7zM1600.2 264.1L1602.1 258.0L1602.6 243.0L1600.7 249.1zM1616.3 265.6L1618.2 259.4L1618.7 244.4L1616.8 250.5zM1632.4 267.0L1634.2 260.8L1634.7 245.8L1632.9 252.0zM1648.5 268.4L1650.3 262.3L1650.8 247.2L1649.0 253.4zM1664.6 269.9L1666.4 263.7L1666.9 248.7L1665.1 254.8zM1680.7 271.3L1682.5 265.1L1683.0 250.1L1681.3 256.2zM1696.9 272.7L1698.6 266.5L1699.2 251.5L1697.4 257.6zM1713.0 274.2L1714.7 268.0L1715.3 252.9L1713.6 259.1zM1729.2 275.6L1730.9 269.4L1731.5 254.3L1729.8 260.5zM1745.4 277.0L1747.1 270.8L1747.7 255.8L1746.0 261.9zM1761.6 278.5L1763.2 272.3L1763.9 257.2L1762.3 263.4zM1777.9 279.9L1779.4 273.7L1780.1 258.6L1778.5 264.8zM1794.1 281.3L1795.7 275.1L1796.3 260.0L1794.8 266.2zM1810.4 282.8L1811.9 276.6L1812.6 261.5L1811.0 267.7zM1826.7 284.2L1828.1 278.0L1828.8 262.9L1827.3 269.1zM1843.0 285.7L1844.4 279.4L1845.1 264.3L1843.6 270.5zM1859.3 287.1L1860.7 280.9L1861.4 265.8L1860.0 272.0zM1875.6 288.6L1877.0 282.3L1877.7 267.2L1876.3 273.4zM1891.9 290.0L1893.3 283.8L1894.0 268.6L1892.7 274.9zM1908.3 291.5L1909.6 285.2L1910.4 270.1L1909.0 276.3zM1924.7 292.9L1926.0 286.7L1926.7 271.5L1925.4 277.8zM1941.1 294.4L1942.4 288.1L1943.1 273.0L1941.8 279.2zM1957.5 295.8L1958.7 289.6L1959.5 274.4L1958.3 280.7zM1973.9 297.3L1975.1 291.0L1975.9 275.8L1974.7 282.1zM1990.4 298.7L1991.6 292.5L1992.4 277.3L1991.2 283.6zM2006.8 300.2L2008.0 293.9L2008.8 278.7L2007.6 285.0z" fill="#24505e"/>
<path d="M1238.4 217.2L1250.9 218.3L1253.4 212.3L1240.9 211.2zM1254.1 218.5L1266.7 219.7L1269.1 213.6L1256.6 212.5zM1269.8 219.9L1282.4 221.0L1284.9 215.0L1272.3 213.9zM1285.6 221.3L1298.2 222.4L1300.6 216.4L1288.0 215.3zM1301.3 222.7L1314.0 223.8L1316.4 217.8L1303.8 216.7zM1317.1 224.1L1329.8 225.2L1332.1 219.2L1319.5 218.1zM1332.9 225.5L1345.6 226.6L1347.9 220.6L1335.3 219.5zM1348.7 226.9L1361.4 228.0L1363.7 222.0L1351.1 220.9zM1364.6 228.3L1377.2 229.4L1379.5 223.4L1366.9 222.2zM1380.4 229.7L1393.1 230.8L1395.4 224.8L1382.7 223.6zM1396.3 231.1L1409.0 232.2L1411.2 226.1L1398.5 225.0zM1412.1 232.5L1424.9 233.6L1427.1 227.5L1414.4 226.4zM1428.0 233.9L1440.8 235.0L1442.9 228.9L1430.2 227.8zM1444.0 235.3L1456.7 236.4L1458.8 230.3L1446.1 229.2zM1459.9 236.7L1472.6 237.8L1474.7 231.7L1462.0 230.6zM1475.8 238.1L1488.6 239.2L1490.7 233.1L1477.9 232.0zM1491.8 239.5L1504.6 240.6L1506.6 234.5L1493.9 233.4zM1507.7 240.9L1520.5 242.0L1522.6 236.0L1509.8 234.8zM1523.7 242.3L1536.5 243.5L1538.5 237.4L1525.8 236.2zM1539.7 243.7L1552.6 244.9L1554.5 238.8L1541.7 237.6zM1555.8 245.2L1568.6 246.3L1570.5 240.2L1557.7 239.0zM1571.8 246.6L1584.6 247.7L1586.6 241.6L1573.7 240.5zM1587.9 248.0L1600.7 249.1L1602.6 243.0L1589.8 241.9zM1603.9 249.4L1616.8 250.5L1618.7 244.4L1605.8 243.3zM1620.0 250.8L1632.9 252.0L1634.7 245.8L1621.9 244.7zM1636.1 252.2L1649.0 253.4L1650.8 247.2L1637.9 246.1zM1652.2 253.7L1665.1 254.8L1666.9 248.7L1654.0 247.5zM1668.4 255.1L1681.3 256.2L1683.0 250.1L1670.1 248.9zM1684.5 256.5L1697.4 257.6L1699.2 251.5L1686.3 250.4zM1700.7 257.9L1713.6 259.1L1715.3 252.9L1702.4 251.8zM1716.9 259.4L1729.8 260.5L1731.5 254.3L1718.5 253.2zM1733.1 260.8L1746.0 261.9L1747.7 255.8L1734.7 254.6zM1749.3 262.2L1762.3 263.4L1763.9 257.2L1750.9 256.0zM1765.5 263.7L1778.5 264.8L1780.1 258.6L1767.1 257.5zM1781.8 265.1L1794.8 266.2L1796.3 260.0L1783.3 258.9zM1798.0 266.5L1811.0 267.7L1812.6 261.5L1799.6 260.3zM1814.3 268.0L1827.3 269.1L1828.8 262.9L1815.8 261.8zM1830.6 269.4L1843.6 270.5L1845.1 264.3L1832.1 263.2zM1846.9 270.8L1860.0 272.0L1861.4 265.8L1848.4 264.6zM1863.2 272.3L1876.3 273.4L1877.7 267.2L1864.7 266.1zM1879.6 273.7L1892.7 274.9L1894.0 268.6L1881.0 267.5zM1895.9 275.2L1909.0 276.3L1910.4 270.1L1897.3 268.9zM1912.3 276.6L1925.4 277.8L1926.7 271.5L1913.7 270.4zM1928.7 278.0L1941.8 279.2L1943.1 273.0L1930.0 271.8zM1945.1 279.5L1958.3 280.7L1959.5 274.4L1946.4 273.2zM1961.6 280.9L1974.7 282.1L1975.9 275.8L1962.8 274.7zM1978.0 282.4L1991.2 283.6L1992.4 277.3L1979.2 276.1zM1994.5 283.8L2007.6 285.0L2008.8 278.7L1995.6 277.6z" fill="#4a8798"/>
<path d="M1238.2 232.0L1250.7 233.2L1250.9 218.3L1238.4 217.2zM1253.9 233.4L1266.4 234.6L1266.7 219.7L1254.1 218.5zM1269.6 234.8L1282.2 235.9L1282.4 221.0L1269.8 219.9zM1285.3 236.2L1297.9 237.3L1298.2 222.4L1285.6 221.3zM1301.1 237.6L1313.7 238.7L1314.0 223.8L1301.3 222.7zM1316.9 239.0L1329.5 240.1L1329.8 225.2L1317.1 224.1zM1332.6 240.4L1345.3 241.5L1345.6 226.6L1332.9 225.5zM1348.4 241.8L1361.1 242.9L1361.4 228.0L1348.7 226.9zM1364.3 243.2L1376.9 244.4L1377.2 229.4L1364.6 228.3zM1380.1 244.6L1392.8 245.8L1393.1 230.8L1380.4 229.7zM1395.9 246.0L1408.6 247.2L1409.0 232.2L1396.3 231.1zM1411.8 247.4L1424.5 248.6L1424.9 233.6L1412.1 232.5zM1427.7 248.9L1440.4 250.0L1440.8 235.0L1428.0 233.9zM1443.6 250.3L1456.3 251.4L1456.7 236.4L1444.0 235.3zM1459.5 251.7L1472.2 252.8L1472.6 237.8L1459.9 236.7zM1475.4 253.1L1488.2 254.2L1488.6 239.2L1475.8 238.1zM1491.4 254.5L1504.1 255.6L1504.6 240.6L1491.8 239.5zM1507.3 255.9L1520.1 257.0L1520.5 242.0L1507.7 240.9zM1523.3 257.3L1536.1 258.5L1536.5 243.5L1523.7 242.3zM1539.3 258.7L1552.1 259.9L1552.6 244.9L1539.7 243.7zM1555.3 260.2L1568.1 261.3L1568.6 246.3L1555.8 245.2zM1571.3 261.6L1584.2 262.7L1584.6 247.7L1571.8 246.6zM1587.4 263.0L1600.2 264.1L1600.7 249.1L1587.9 248.0zM1603.4 264.4L1616.3 265.6L1616.8 250.5L1603.9 249.4zM1619.5 265.9L1632.4 267.0L1632.9 252.0L1620.0 250.8zM1635.6 267.3L1648.5 268.4L1649.0 253.4L1636.1 252.2zM1651.7 268.7L1664.6 269.9L1665.1 254.8L1652.2 253.7zM1667.8 270.1L1680.7 271.3L1681.3 256.2L1668.4 255.1zM1684.0 271.6L1696.9 272.7L1697.4 257.6L1684.5 256.5zM1700.1 273.0L1713.0 274.2L1713.6 259.1L1700.7 257.9zM1716.3 274.4L1729.2 275.6L1729.8 260.5L1716.9 259.4zM1732.5 275.9L1745.4 277.0L1746.0 261.9L1733.1 260.8zM1748.7 277.3L1761.6 278.5L1762.3 263.4L1749.3 262.2zM1764.9 278.7L1777.9 279.9L1778.5 264.8L1765.5 263.7zM1781.1 280.2L1794.1 281.3L1794.8 266.2L1781.8 265.1zM1797.4 281.6L1810.4 282.8L1811.0 267.7L1798.0 266.5zM1813.6 283.1L1826.7 284.2L1827.3 269.1L1814.3 268.0zM1829.9 284.5L1843.0 285.7L1843.6 270.5L1830.6 269.4zM1846.2 286.0L1859.3 287.1L1860.0 272.0L1846.9 270.8zM1862.5 287.4L1875.6 288.6L1876.3 273.4L1863.2 272.3zM1878.9 288.9L1891.9 290.0L1892.7 274.9L1879.6 273.7zM1895.2 290.3L1908.3 291.5L1909.0 276.3L1895.9 275.2zM1911.6 291.8L1924.7 292.9L1925.4 277.8L1912.3 276.6zM1928.0 293.2L1941.1 294.4L1941.8 279.2L1928.7 278.0zM1944.4 294.7L1957.5 295.8L1958.3 280.7L1945.1 279.5zM1960.8 296.1L1973.9 297.3L1974.7 282.1L1961.6 280.9zM1977.2 297.6L1990.4 298.7L1991.2 283.6L1978.0 282.4zM1993.7 299.0L2006.8 300.2L2007.6 285.0L1994.5 283.8z" fill="#5c9eb0"/>
<path d="M1001.3 211.0L1004.2 205.1L1004.2 177.5L1001.3 183.4zM1016.8 212.4L1019.7 206.5L1019.7 178.9L1016.8 184.8zM1032.2 213.8L1035.1 207.8L1035.2 180.2L1032.3 186.2zM1047.8 215.2L1050.6 209.2L1050.7 181.6L1047.8 187.5zM1063.3 216.5L1066.1 210.6L1066.2 183.0L1063.4 188.9zM1078.8 217.9L1081.6 212.0L1081.7 184.3L1078.9 190.2zM1094.4 219.3L1097.1 213.3L1097.3 185.7L1094.5 191.6zM1109.9 220.7L1112.7 214.7L1112.9 187.1L1110.1 193.0zM1125.5 222.1L1128.2 216.1L1128.4 188.4L1125.7 194.4zM1141.1 223.4L1143.8 217.5L1144.0 189.8L1141.3 195.7zM1156.7 224.8L1159.4 218.8L1159.6 191.1L1157.0 197.1zM1172.4 226.2L1175.0 220.2L1175.3 192.5L1172.6 198.5zM1188.0 227.6L1190.6 221.6L1190.9 193.9L1188.3 199.8zM1203.7 229.0L1206.2 223.0L1206.6 195.3L1204.0 201.2zM1219.3 230.4L1221.9 224.4L1222.2 196.6L1219.7 202.6zM1235.0 231.8L1237.6 225.8L1237.9 198.0L1235.4 204.0z" fill="#3a8460" stroke="#3a8460" stroke-width="0.9" stroke-linejoin="round"/>
<path d="M988.9 182.3L1001.3 183.4L1004.2 177.5L991.9 176.5zM1004.4 183.7L1016.8 184.8L1019.7 178.9L1007.3 177.8zM1019.9 185.1L1032.3 186.2L1035.2 180.2L1022.8 179.2zM1035.4 186.4L1047.8 187.5L1050.7 181.6L1038.3 180.5zM1050.9 187.8L1063.4 188.9L1066.2 183.0L1053.8 181.9zM1066.5 189.2L1078.9 190.2L1081.7 184.3L1069.3 183.2zM1082.0 190.5L1094.5 191.6L1097.3 185.7L1084.9 184.6zM1097.6 191.9L1110.1 193.0L1112.9 187.1L1100.4 186.0zM1113.2 193.3L1125.7 194.4L1128.4 188.4L1116.0 187.3zM1128.8 194.6L1141.3 195.7L1144.0 189.8L1131.6 188.7zM1144.5 196.0L1157.0 197.1L1159.6 191.1L1147.1 190.1zM1160.1 197.4L1172.6 198.5L1175.3 192.5L1162.8 191.4zM1175.7 198.7L1188.3 199.8L1190.9 193.9L1178.4 192.8zM1191.4 200.1L1204.0 201.2L1206.6 195.3L1194.0 194.2zM1207.1 201.5L1219.7 202.6L1222.2 196.6L1209.7 195.5zM1222.8 202.9L1235.4 204.0L1237.9 198.0L1225.4 196.9z" fill="#74d3ac"/>
<path d="M988.9 209.9L1001.3 211.0L1001.3 183.4L988.9 182.3zM1004.4 211.3L1016.8 212.4L1016.8 184.8L1004.4 183.7zM1019.9 212.7L1032.2 213.8L1032.3 186.2L1019.9 185.1zM1035.3 214.1L1047.8 215.2L1047.8 187.5L1035.4 186.4zM1050.9 215.4L1063.3 216.5L1063.4 188.9L1050.9 187.8zM1066.4 216.8L1078.8 217.9L1078.9 190.2L1066.5 189.2zM1081.9 218.2L1094.4 219.3L1094.5 191.6L1082.0 190.5zM1097.5 219.6L1109.9 220.7L1110.1 193.0L1097.6 191.9zM1113.0 221.0L1125.5 222.1L1125.7 194.4L1113.2 193.3zM1128.6 222.3L1141.1 223.4L1141.3 195.7L1128.8 194.6zM1144.2 223.7L1156.7 224.8L1157.0 197.1L1144.5 196.0zM1159.8 225.1L1172.4 226.2L1172.6 198.5L1160.1 197.4zM1175.5 226.5L1188.0 227.6L1188.3 199.8L1175.7 198.7zM1191.1 227.9L1203.7 229.0L1204.0 201.2L1191.4 200.1zM1206.8 229.3L1219.3 230.4L1219.7 202.6L1207.1 201.5zM1222.5 230.7L1235.0 231.8L1235.4 204.0L1222.8 202.9z" fill="#8df3c0"/>
<path d="M997.6 218.5L1000.5 212.5L1000.5 197.7L997.6 203.7zM1013.1 219.9L1016.0 213.9L1016.0 199.1L1013.1 205.0zM1028.6 221.3L1031.5 215.3L1031.6 200.5L1028.6 206.4zM1044.2 222.6L1047.0 216.7L1047.1 201.8L1044.2 207.8zM1059.7 224.0L1062.6 218.0L1062.6 203.2L1059.8 209.2zM1075.3 225.4L1078.1 219.4L1078.2 204.6L1075.4 210.5zM1090.9 226.8L1093.7 220.8L1093.7 206.0L1090.9 211.9zM1106.5 228.2L1109.2 222.2L1109.3 207.3L1106.6 213.3zM1122.1 229.6L1124.8 223.6L1124.9 208.7L1122.2 214.7zM1137.7 231.0L1140.4 224.9L1140.5 210.1L1137.8 216.1zM1153.4 232.3L1156.1 226.3L1156.2 211.5L1153.5 217.5zM1169.0 233.7L1171.7 227.7L1171.8 212.8L1169.2 218.8zM1184.7 235.1L1187.3 229.1L1187.5 214.2L1184.9 220.2zM1200.4 236.5L1203.0 230.5L1203.2 215.6L1200.6 221.6zM1216.1 237.9L1218.7 231.9L1218.9 217.0L1216.3 223.0zM1231.8 239.3L1234.4 233.3L1234.6 218.4L1232.0 224.4zM1247.6 240.7L1250.1 234.7L1250.3 219.8L1247.8 225.8zM1263.3 242.1L1265.8 236.1L1266.0 221.2L1263.5 227.2zM1279.1 243.5L1281.6 237.5L1281.8 222.5L1279.3 228.6zM1294.9 244.9L1297.3 238.9L1297.6 223.9L1295.1 230.0zM1310.7 246.3L1313.1 240.3L1313.4 225.3L1310.9 231.4zM1326.5 247.7L1328.9 241.7L1329.2 226.7L1326.8 232.8zM1342.3 249.1L1344.7 243.1L1345.0 228.1L1342.6 234.2zM1358.2 250.6L1360.5 244.5L1360.8 229.5L1358.5 235.6zM1374.1 252.0L1376.4 245.9L1376.7 230.9L1374.4 237.0zM1389.9 253.4L1392.2 247.3L1392.5 232.3L1390.3 238.4zM1405.8 254.8L1408.1 248.7L1408.4 233.7L1406.2 239.8zM1421.8 256.2L1424.0 250.1L1424.3 235.1L1422.1 241.2zM1437.7 257.6L1439.9 251.5L1440.2 236.5L1438.0 242.6zM1453.6 259.0L1455.8 252.9L1456.2 237.9L1454.0 244.0zM1469.6 260.5L1471.7 254.3L1472.1 239.3L1470.0 245.4zM1485.6 261.9L1487.7 255.7L1488.1 240.8L1486.0 246.9zM1501.6 263.3L1503.6 257.2L1504.0 242.2L1502.0 248.3zM1517.6 264.7L1519.6 258.6L1520.0 243.6L1518.0 249.7zM1533.6 266.2L1535.6 260.0L1536.0 245.0L1534.0 251.1zM1549.6 267.6L1551.6 261.4L1552.1 246.4L1550.1 252.5zM1565.7 269.0L1567.6 262.8L1568.1 247.8L1566.1 254.0zM1581.8 270.4L1583.7 264.3L1584.2 249.2L1582.2 255.4zM1597.8 271.9L1599.7 265.7L1600.2 250.7L1598.3 256.8zM1614.0 273.3L1615.8 267.1L1616.3 252.1L1614.5 258.2zM1630.1 274.7L1631.9 268.5L1632.4 253.5L1630.6 259.7zM1646.2 276.2L1648.0 270.0L1648.6 254.9L1646.7 261.1zM1662.4 277.6L1664.1 271.4L1664.7 256.3L1662.9 262.5zM1678.5 279.0L1680.3 272.8L1680.8 257.8L1679.1 263.9zM1694.7 280.5L1696.4 274.3L1697.0 259.2L1695.3 265.4zM1710.9 281.9L1712.6 275.7L1713.2 260.6L1711.5 266.8zM1727.1 283.4L1728.8 277.1L1729.4 262.0L1727.7 268.2zM1743.4 284.8L1745.0 278.6L1745.6 263.5L1744.0 269.7zM1759.6 286.2L1761.2 280.0L1761.9 264.9L1760.2 271.1zM1775.9 287.7L1777.5 281.5L1778.1 266.3L1776.5 272.6zM1792.2 289.1L1793.7 282.9L1794.4 267.8L1792.8 274.0zM1808.5 290.6L1810.0 284.3L1810.7 269.2L1809.1 275.4zM1824.8 292.0L1826.3 285.8L1827.0 270.7L1825.5 276.9zM1841.1 293.5L1842.6 287.2L1843.3 272.1L1841.8 278.3zM1857.5 294.9L1858.9 288.7L1859.6 273.5L1858.2 279.8zM1873.8 296.4L1875.2 290.1L1876.0 275.0L1874.6 281.2zM1890.2 297.9L1891.6 291.6L1892.3 276.4L1891.0 282.7zM1906.6 299.3L1908.0 293.0L1908.7 277.9L1907.4 284.1zM1923.0 300.8L1924.4 294.5L1925.1 279.3L1923.8 285.6zM1939.5 302.2L1940.8 295.9L1941.5 280.8L1940.2 287.0zM1955.9 303.7L1957.2 297.4L1958.0 282.2L1956.7 288.5zM1972.4 305.2L1973.6 298.9L1974.4 283.7L1973.2 290.0zM1988.9 306.6L1990.1 300.3L1990.9 285.1L1989.7 291.4zM2005.4 308.1L2006.5 301.8L2007.4 286.6L2006.2 292.9z" fill="#24505e"/>
<path d="M985.2 202.6L997.6 203.7L1000.5 197.7L988.2 196.6zM1000.7 203.9L1013.1 205.0L1016.0 199.1L1003.6 198.0zM1016.2 205.3L1028.6 206.4L1031.6 200.5L1019.1 199.4zM1031.8 206.7L1044.2 207.8L1047.1 201.8L1034.7 200.7zM1047.3 208.1L1059.8 209.2L1062.6 203.2L1050.2 202.1zM1062.9 209.4L1075.4 210.5L1078.2 204.6L1065.7 203.5zM1078.5 210.8L1090.9 211.9L1093.7 206.0L1081.3 204.9zM1094.1 212.2L1106.6 213.3L1109.3 207.3L1096.9 206.2zM1109.7 213.6L1122.2 214.7L1124.9 208.7L1112.4 207.6zM1125.3 215.0L1137.8 216.1L1140.5 210.1L1128.1 209.0zM1141.0 216.4L1153.5 217.5L1156.2 211.5L1143.7 210.4zM1156.6 217.7L1169.2 218.8L1171.8 212.8L1159.3 211.7zM1172.3 219.1L1184.9 220.2L1187.5 214.2L1175.0 213.1zM1188.0 220.5L1200.6 221.6L1203.2 215.6L1190.6 214.5zM1203.7 221.9L1216.3 223.0L1218.9 217.0L1206.3 215.9zM1219.4 223.3L1232.0 224.4L1234.6 218.4L1222.0 217.3zM1235.2 224.7L1247.8 225.8L1250.3 219.8L1237.7 218.7zM1250.9 226.1L1263.5 227.2L1266.0 221.2L1253.4 220.0zM1266.7 227.5L1279.3 228.6L1281.8 222.5L1269.2 221.4zM1282.5 228.9L1295.1 230.0L1297.6 223.9L1284.9 222.8zM1298.3 230.3L1310.9 231.4L1313.4 225.3L1300.7 224.2zM1314.1 231.7L1326.8 232.8L1329.2 226.7L1316.5 225.6zM1329.9 233.1L1342.6 234.2L1345.0 228.1L1332.3 227.0zM1345.8 234.5L1358.5 235.6L1360.8 229.5L1348.1 228.4zM1361.7 235.9L1374.4 237.0L1376.7 230.9L1364.0 229.8zM1377.5 237.3L1390.3 238.4L1392.5 232.3L1379.8 231.2zM1393.4 238.7L1406.2 239.8L1408.4 233.7L1395.7 232.6zM1409.4 240.1L1422.1 241.2L1424.3 235.1L1411.6 234.0zM1425.3 241.5L1438.0 242.6L1440.2 236.5L1427.5 235.4zM1441.2 242.9L1454.0 244.0L1456.2 237.9L1443.4 236.8zM1457.2 244.3L1470.0 245.4L1472.1 239.3L1459.3 238.2zM1473.2 245.7L1486.0 246.9L1488.1 240.8L1475.3 239.6zM1489.2 247.1L1502.0 248.3L1504.0 242.2L1491.3 241.0zM1505.2 248.6L1518.0 249.7L1520.0 243.6L1507.2 242.4zM1521.2 250.0L1534.0 251.1L1536.0 245.0L1523.2 243.9zM1537.2 251.4L1550.1 252.5L1552.1 246.4L1539.2 245.3zM1553.3 252.8L1566.1 254.0L1568.1 247.8L1555.3 246.7zM1569.4 254.2L1582.2 255.4L1584.2 249.2L1571.3 248.1zM1585.4 255.7L1598.3 256.8L1600.2 250.7L1587.4 249.5zM1601.6 257.1L1614.5 258.2L1616.3 252.1L1603.5 250.9zM1617.7 258.5L1630.6 259.7L1632.4 253.5L1619.5 252.4zM1633.8 259.9L1646.7 261.1L1648.6 254.9L1635.7 253.8zM1650.0 261.4L1662.9 262.5L1664.7 256.3L1651.8 255.2zM1666.1 262.8L1679.1 263.9L1680.8 257.8L1667.9 256.6zM1682.3 264.2L1695.3 265.4L1697.0 259.2L1684.1 258.0zM1698.5 265.7L1711.5 266.8L1713.2 260.6L1700.2 259.5zM1714.7 267.1L1727.7 268.2L1729.4 262.0L1716.4 260.9zM1731.0 268.5L1744.0 269.7L1745.6 263.5L1732.6 262.3zM1747.2 270.0L1760.2 271.1L1761.9 264.9L1748.9 263.8zM1763.5 271.4L1776.5 272.6L1778.1 266.3L1765.1 265.2zM1779.8 272.9L1792.8 274.0L1794.4 267.8L1781.4 266.6zM1796.1 274.3L1809.1 275.4L1810.7 269.2L1797.6 268.1zM1812.4 275.7L1825.5 276.9L1827.0 270.7L1813.9 269.5zM1828.7 277.2L1841.8 278.3L1843.3 272.1L1830.2 270.9zM1845.1 278.6L1858.2 279.8L1859.6 273.5L1846.5 272.4zM1861.5 280.1L1874.6 281.2L1876.0 275.0L1862.9 273.8zM1877.8 281.5L1891.0 282.7L1892.3 276.4L1879.2 275.3zM1894.2 283.0L1907.4 284.1L1908.7 277.9L1895.6 276.7zM1910.7 284.4L1923.8 285.6L1925.1 279.3L1912.0 278.2zM1927.1 285.9L1940.2 287.0L1941.5 280.8L1928.4 279.6zM1943.5 287.3L1956.7 288.5L1958.0 282.2L1944.8 281.1zM1960.0 288.8L1973.2 290.0L1974.4 283.7L1961.2 282.5zM1976.5 290.2L1989.7 291.4L1990.9 285.1L1977.7 284.0zM1993.0 291.7L2006.2 292.9L2007.4 286.6L1994.2 285.4z" fill="#4a8798"/>
<path d="M985.2 217.4L997.6 218.5L997.6 203.7L985.2 202.6zM1000.7 218.8L1013.1 219.9L1013.1 205.0L1000.7 203.9zM1016.2 220.1L1028.6 221.3L1028.6 206.4L1016.2 205.3zM1031.7 221.5L1044.2 222.6L1044.2 207.8L1031.8 206.7zM1047.3 222.9L1059.7 224.0L1059.8 209.2L1047.3 208.1zM1062.8 224.3L1075.3 225.4L1075.4 210.5L1062.9 209.4zM1078.4 225.7L1090.9 226.8L1090.9 211.9L1078.5 210.8zM1094.0 227.1L1106.5 228.2L1106.6 213.3L1094.1 212.2zM1109.6 228.5L1122.1 229.6L1122.2 214.7L1109.7 213.6zM1125.2 229.8L1137.7 231.0L1137.8 216.1L1125.3 215.0zM1140.8 231.2L1153.4 232.3L1153.5 217.5L1141.0 216.4zM1156.5 232.6L1169.0 233.7L1169.2 218.8L1156.6 217.7zM1172.2 234.0L1184.7 235.1L1184.9 220.2L1172.3 219.1zM1187.8 235.4L1200.4 236.5L1200.6 221.6L1188.0 220.5zM1203.5 236.8L1216.1 237.9L1216.3 223.0L1203.7 221.9zM1219.3 238.2L1231.8 239.3L1232.0 224.4L1219.4 223.3zM1235.0 239.6L1247.6 240.7L1247.8 225.8L1235.2 224.7zM1250.7 241.0L1263.3 242.1L1263.5 227.2L1250.9 226.1zM1266.5 242.4L1279.1 243.5L1279.3 228.6L1266.7 227.5zM1282.3 243.8L1294.9 244.9L1295.1 230.0L1282.5 228.9zM1298.0 245.2L1310.7 246.3L1310.9 231.4L1298.3 230.3zM1313.9 246.6L1326.5 247.7L1326.8 232.8L1314.1 231.7zM1329.7 248.0L1342.3 249.1L1342.6 234.2L1329.9 233.1zM1345.5 249.4L1358.2 250.6L1358.5 235.6L1345.8 234.5zM1361.4 250.8L1374.1 252.0L1374.4 237.0L1361.7 235.9zM1377.2 252.2L1389.9 253.4L1390.3 238.4L1377.5 237.3zM1393.1 253.7L1405.8 254.8L1406.2 239.8L1393.4 238.7zM1409.0 255.1L1421.8 256.2L1422.1 241.2L1409.4 240.1zM1424.9 256.5L1437.7 257.6L1438.0 242.6L1425.3 241.5zM1440.9 257.9L1453.6 259.0L1454.0 244.0L1441.2 242.9zM1456.8 259.3L1469.6 260.5L1470.0 245.4L1457.2 244.3zM1472.8 260.7L1485.6 261.9L1486.0 246.9L1473.2 245.7zM1488.8 262.2L1501.6 263.3L1502.0 248.3L1489.2 247.1zM1504.8 263.6L1517.6 264.7L1518.0 249.7L1505.2 248.6zM1520.8 265.0L1533.6 266.2L1534.0 251.1L1521.2 250.0zM1536.8 266.4L1549.6 267.6L1550.1 252.5L1537.2 251.4zM1552.8 267.9L1565.7 269.0L1566.1 254.0L1553.3 252.8zM1568.9 269.3L1581.8 270.4L1582.2 255.4L1569.4 254.2zM1585.0 270.7L1597.8 271.9L1598.3 256.8L1585.4 255.7zM1601.1 272.2L1614.0 273.3L1614.5 258.2L1601.6 257.1zM1617.2 273.6L1630.1 274.7L1630.6 259.7L1617.7 258.5zM1633.3 275.0L1646.2 276.2L1646.7 261.1L1633.8 259.9zM1649.4 276.5L1662.4 277.6L1662.9 262.5L1650.0 261.4zM1665.6 277.9L1678.5 279.0L1679.1 263.9L1666.1 262.8zM1681.8 279.3L1694.7 280.5L1695.3 265.4L1682.3 264.2zM1698.0 280.8L1710.9 281.9L1711.5 266.8L1698.5 265.7zM1714.2 282.2L1727.1 283.4L1727.7 268.2L1714.7 267.1zM1730.4 283.6L1743.4 284.8L1744.0 269.7L1731.0 268.5zM1746.6 285.1L1759.6 286.2L1760.2 271.1L1747.2 270.0zM1762.9 286.5L1775.9 287.7L1776.5 272.6L1763.5 271.4zM1779.2 288.0L1792.2 289.1L1792.8 274.0L1779.8 272.9zM1795.4 289.4L1808.5 290.6L1809.1 275.4L1796.1 274.3zM1811.7 290.9L1824.8 292.0L1825.5 276.9L1812.4 275.7zM1828.1 292.3L1841.1 293.5L1841.8 278.3L1828.7 277.2zM1844.4 293.8L1857.5 294.9L1858.2 279.8L1845.1 278.6zM1860.8 295.2L1873.8 296.4L1874.6 281.2L1861.5 280.1zM1877.1 296.7L1890.2 297.9L1891.0 282.7L1877.8 281.5zM1893.5 298.2L1906.6 299.3L1907.4 284.1L1894.2 283.0zM1909.9 299.6L1923.0 300.8L1923.8 285.6L1910.7 284.4zM1926.3 301.1L1939.5 302.2L1940.2 287.0L1927.1 285.9zM1942.8 302.5L1955.9 303.7L1956.7 288.5L1943.5 287.3zM1959.2 304.0L1972.4 305.2L1973.2 290.0L1960.0 288.8zM1975.7 305.5L1988.9 306.6L1989.7 291.4L1976.5 290.2zM1992.2 306.9L2005.4 308.1L2006.2 292.9L1993.0 291.7z" fill="#5c9eb0"/>
<path d="M993.9 226.0L996.9 220.0L996.9 205.2L993.9 211.1zM1009.4 227.4L1012.4 221.4L1012.4 206.5L1009.4 212.5zM1025.0 228.8L1027.9 222.7L1027.9 207.9L1025.0 213.9zM1040.6 230.1L1043.4 224.1L1043.5 209.3L1040.6 215.3zM1056.1 231.5L1059.0 225.5L1059.1 210.7L1056.2 216.7zM1071.7 232.9L1074.6 226.9L1074.6 212.0L1071.8 218.0zM1087.4 234.3L1090.2 228.3L1090.2 213.4L1087.4 219.4zM1103.0 235.7L1105.8 229.7L1105.9 214.8L1103.1 220.8zM1118.7 237.1L1121.4 231.1L1121.5 216.2L1118.7 222.2zM1134.3 238.5L1137.0 232.5L1137.2 217.6L1134.4 223.6zM1150.0 239.9L1152.7 233.9L1152.8 219.0L1150.1 225.0zM1165.7 241.3L1168.4 235.2L1168.5 220.3L1165.8 226.4zM1181.4 242.7L1184.0 236.6L1184.2 221.7L1181.6 227.8zM1197.1 244.1L1199.7 238.0L1199.9 223.1L1197.3 229.2zM1212.9 245.5L1215.5 239.4L1215.6 224.5L1213.1 230.6zM1228.6 246.9L1231.2 240.8L1231.4 225.9L1228.8 232.0zM1244.4 248.3L1246.9 242.2L1247.1 227.3L1244.6 233.4zM1260.2 249.7L1262.7 243.6L1262.9 228.7L1260.4 234.8zM1276.0 251.1L1278.5 245.0L1278.7 230.1L1276.2 236.2zM1291.8 252.5L1294.3 246.4L1294.5 231.5L1292.1 237.6zM1307.7 254.0L1310.1 247.9L1310.3 232.9L1307.9 239.0zM1323.5 255.4L1325.9 249.3L1326.2 234.3L1323.8 240.4zM1339.4 256.8L1341.8 250.7L1342.0 235.7L1339.7 241.8zM1355.3 258.2L1357.6 252.1L1357.9 237.1L1355.6 243.2zM1371.2 259.6L1373.5 253.5L1373.8 238.5L1371.5 244.6zM1387.1 261.0L1389.4 254.9L1389.7 239.9L1387.4 246.0zM1403.0 262.5L1405.3 256.3L1405.6 241.3L1403.4 247.4zM1419.0 263.9L1421.2 257.7L1421.5 242.7L1419.3 248.9zM1434.9 265.3L1437.1 259.2L1437.5 244.2L1435.3 250.3zM1450.9 266.7L1453.1 260.6L1453.5 245.6L1451.3 251.7zM1466.9 268.2L1469.1 262.0L1469.4 247.0L1467.3 253.1zM1482.9 269.6L1485.0 263.4L1485.4 248.4L1483.3 254.5zM1499.0 271.0L1501.0 264.8L1501.4 249.8L1499.4 256.0zM1515.0 272.4L1517.1 266.3L1517.5 251.2L1515.4 257.4zM1531.1 273.9L1533.1 267.7L1533.5 252.7L1531.5 258.8zM1547.1 275.3L1549.1 269.1L1549.6 254.1L1547.6 260.2zM1563.2 276.7L1565.2 270.5L1565.7 255.5L1563.7 261.7zM1579.3 278.2L1581.3 272.0L1581.7 256.9L1579.8 263.1zM1595.5 279.6L1597.4 273.4L1597.9 258.3L1595.9 264.5zM1611.6 281.1L1613.5 274.8L1614.0 259.8L1612.1 266.0zM1627.8 282.5L1629.6 276.3L1630.1 261.2L1628.3 267.4zM1643.9 283.9L1645.8 277.7L1646.3 262.6L1644.5 268.8zM1660.1 285.4L1661.9 279.2L1662.5 264.1L1660.7 270.3zM1676.3 286.8L1678.1 280.6L1678.6 265.5L1676.9 271.7zM1692.6 288.3L1694.3 282.0L1694.9 266.9L1693.1 273.1zM1708.8 289.7L1710.5 283.5L1711.1 268.4L1709.4 274.6zM1725.0 291.2L1726.7 284.9L1727.3 269.8L1725.6 276.0zM1741.3 292.6L1743.0 286.4L1743.6 271.2L1741.9 277.5zM1757.6 294.1L1759.2 287.8L1759.8 272.7L1758.2 278.9zM1773.9 295.5L1775.5 289.3L1776.1 274.1L1774.5 280.4zM1790.2 297.0L1791.8 290.7L1792.4 275.6L1790.9 281.8zM1806.6 298.4L1808.1 292.2L1808.8 277.0L1807.2 283.3zM1822.9 299.9L1824.4 293.6L1825.1 278.5L1823.6 284.7zM1839.3 301.4L1840.8 295.1L1841.4 279.9L1840.0 286.2zM1855.7 302.8L1857.1 296.5L1857.8 281.3L1856.4 287.6zM1872.1 304.3L1873.5 298.0L1874.2 282.8L1872.8 289.1zM1888.5 305.7L1889.9 299.4L1890.6 284.3L1889.2 290.5zM1904.9 307.2L1906.3 300.9L1907.0 285.7L1905.7 292.0zM1921.4 308.7L1922.7 302.4L1923.5 287.2L1922.2 293.5zM1937.9 310.1L1939.2 303.8L1939.9 288.6L1938.6 294.9zM1954.4 311.6L1955.6 305.3L1956.4 290.1L1955.1 296.4zM1970.9 313.1L1972.1 306.7L1972.9 291.5L1971.7 297.8zM1987.4 314.6L1988.6 308.2L1989.4 293.0L1988.2 299.3zM2003.9 316.0L2005.1 309.7L2005.9 294.5L2004.7 300.8z" fill="#24505e"/>
<path d="M981.4 210.0L993.9 211.1L996.9 205.2L984.4 204.1zM997.0 211.4L1009.4 212.5L1012.4 206.5L1000.0 205.4zM1012.5 212.8L1025.0 213.9L1027.9 207.9L1015.5 206.8zM1028.1 214.2L1040.6 215.3L1043.5 209.3L1031.0 208.2zM1043.7 215.5L1056.2 216.7L1059.1 210.7L1046.6 209.6zM1059.3 216.9L1071.8 218.0L1074.6 212.0L1062.2 210.9zM1074.9 218.3L1087.4 219.4L1090.2 213.4L1077.8 212.3zM1090.6 219.7L1103.1 220.8L1105.9 214.8L1093.4 213.7zM1106.2 221.1L1118.7 222.2L1121.5 216.2L1109.0 215.1zM1121.9 222.5L1134.4 223.6L1137.2 217.6L1124.6 216.5zM1137.6 223.9L1150.1 225.0L1152.8 219.0L1140.3 217.9zM1153.3 225.3L1165.8 226.4L1168.5 220.3L1156.0 219.2zM1169.0 226.7L1181.6 227.8L1184.2 221.7L1171.6 220.6zM1184.7 228.1L1197.3 229.2L1199.9 223.1L1187.3 222.0zM1200.4 229.4L1213.1 230.6L1215.6 224.5L1203.1 223.4zM1216.2 230.8L1228.8 232.0L1231.4 225.9L1218.8 224.8zM1232.0 232.2L1244.6 233.4L1247.1 227.3L1234.5 226.2zM1247.8 233.6L1260.4 234.8L1262.9 228.7L1250.3 227.6zM1263.6 235.0L1276.2 236.2L1278.7 230.1L1266.1 229.0zM1279.4 236.4L1292.1 237.6L1294.5 231.5L1281.9 230.4zM1295.2 237.9L1307.9 239.0L1310.3 232.9L1297.7 231.8zM1311.1 239.3L1323.8 240.4L1326.2 234.3L1313.5 233.2zM1327.0 240.7L1339.7 241.8L1342.0 235.7L1329.3 234.6zM1342.8 242.1L1355.6 243.2L1357.9 237.1L1345.2 236.0zM1358.7 243.5L1371.5 244.6L1373.8 238.5L1361.1 237.4zM1374.7 244.9L1387.4 246.0L1389.7 239.9L1377.0 238.8zM1390.6 246.3L1403.4 247.4L1405.6 241.3L1392.9 240.2zM1406.5 247.7L1419.3 248.9L1421.5 242.7L1408.8 241.6zM1422.5 249.1L1435.3 250.3L1437.5 244.2L1424.7 243.0zM1438.5 250.6L1451.3 251.7L1453.5 245.6L1440.7 244.4zM1454.5 252.0L1467.3 253.1L1469.4 247.0L1456.6 245.8zM1470.5 253.4L1483.3 254.5L1485.4 248.4L1472.6 247.3zM1486.5 254.8L1499.4 256.0L1501.4 249.8L1488.6 248.7zM1502.6 256.2L1515.4 257.4L1517.5 251.2L1504.6 250.1zM1518.6 257.7L1531.5 258.8L1533.5 252.7L1520.7 251.5zM1534.7 259.1L1547.6 260.2L1549.6 254.1L1536.7 252.9zM1550.8 260.5L1563.7 261.7L1565.7 255.5L1552.8 254.4zM1566.9 261.9L1579.8 263.1L1581.7 256.9L1568.9 255.8zM1583.0 263.4L1595.9 264.5L1597.9 258.3L1585.0 257.2zM1599.2 264.8L1612.1 266.0L1614.0 259.8L1601.1 258.6zM1615.3 266.2L1628.3 267.4L1630.1 261.2L1617.2 260.1zM1631.5 267.7L1644.5 268.8L1646.3 262.6L1633.4 261.5zM1647.7 269.1L1660.7 270.3L1662.5 264.1L1649.5 262.9zM1663.9 270.6L1676.9 271.7L1678.6 265.5L1665.7 264.3zM1680.1 272.0L1693.1 273.1L1694.9 266.9L1681.9 265.8zM1696.4 273.4L1709.4 274.6L1711.1 268.4L1698.1 267.2zM1712.6 274.9L1725.6 276.0L1727.3 269.8L1714.3 268.7zM1728.9 276.3L1741.9 277.5L1743.6 271.2L1730.6 270.1zM1745.2 277.8L1758.2 278.9L1759.8 272.7L1746.8 271.5zM1761.5 279.2L1774.5 280.4L1776.1 274.1L1763.1 273.0zM1777.8 280.7L1790.9 281.8L1792.4 275.6L1779.4 274.4zM1794.1 282.1L1807.2 283.3L1808.8 277.0L1795.7 275.9zM1810.5 283.6L1823.6 284.7L1825.1 278.5L1812.0 277.3zM1826.9 285.0L1840.0 286.2L1841.4 279.9L1828.4 278.7zM1843.3 286.5L1856.4 287.6L1857.8 281.3L1844.7 280.2zM1859.7 287.9L1872.8 289.1L1874.2 282.8L1861.1 281.6zM1876.1 289.4L1889.2 290.5L1890.6 284.3L1877.5 283.1zM1892.5 290.8L1905.7 292.0L1907.0 285.7L1893.9 284.5zM1909.0 292.3L1922.2 293.5L1923.5 287.2L1910.3 286.0zM1925.4 293.7L1938.6 294.9L1939.9 288.6L1926.8 287.4zM1941.9 295.2L1955.1 296.4L1956.4 290.1L1943.2 288.9zM1958.4 296.7L1971.7 297.8L1972.9 291.5L1959.7 290.4zM1975.0 298.1L1988.2 299.3L1989.4 293.0L1976.2 291.8zM1991.5 299.6L2004.7 300.8L2005.9 294.5L1992.7 293.3z" fill="#4a8798"/>
<path d="M981.5 224.9L993.9 226.0L993.9 211.1L981.4 210.0zM997.0 226.3L1009.4 227.4L1009.4 212.5L997.0 211.4zM1012.5 227.6L1025.0 228.8L1025.0 213.9L1012.5 212.8zM1028.1 229.0L1040.6 230.1L1040.6 215.3L1028.1 214.2zM1043.7 230.4L1056.1 231.5L1056.2 216.7L1043.7 215.5zM1059.3 231.8L1071.7 232.9L1071.8 218.0L1059.3 216.9zM1074.9 233.2L1087.4 234.3L1087.4 219.4L1074.9 218.3zM1090.5 234.6L1103.0 235.7L1103.1 220.8L1090.6 219.7zM1106.1 236.0L1118.7 237.1L1118.7 222.2L1106.2 221.1zM1121.8 237.4L1134.3 238.5L1134.4 223.6L1121.9 222.5zM1137.5 238.8L1150.0 239.9L1150.1 225.0L1137.6 223.9zM1153.1 240.2L1165.7 241.3L1165.8 226.4L1153.3 225.3zM1168.8 241.6L1181.4 242.7L1181.6 227.8L1169.0 226.7zM1184.6 243.0L1197.1 244.1L1197.3 229.2L1184.7 228.1zM1200.3 244.4L1212.9 245.5L1213.1 230.6L1200.4 229.4zM1216.0 245.8L1228.6 246.9L1228.8 232.0L1216.2 230.8zM1231.8 247.2L1244.4 248.3L1244.6 233.4L1232.0 232.2zM1247.6 248.6L1260.2 249.7L1260.4 234.8L1247.8 233.6zM1263.4 250.0L1276.0 251.1L1276.2 236.2L1263.6 235.0zM1279.2 251.4L1291.8 252.5L1292.1 237.6L1279.4 236.4zM1295.0 252.8L1307.7 254.0L1307.9 239.0L1295.2 237.9zM1310.8 254.2L1323.5 255.4L1323.8 240.4L1311.1 239.3zM1326.7 255.7L1339.4 256.8L1339.7 241.8L1327.0 240.7zM1342.6 257.1L1355.3 258.2L1355.6 243.2L1342.8 242.1zM1358.5 258.5L1371.2 259.6L1371.5 244.6L1358.7 243.5zM1374.4 259.9L1387.1 261.0L1387.4 246.0L1374.7 244.9zM1390.3 261.3L1403.0 262.5L1403.4 247.4L1390.6 246.3zM1406.2 262.7L1419.0 263.9L1419.3 248.9L1406.5 247.7zM1422.2 264.2L1434.9 265.3L1435.3 250.3L1422.5 249.1zM1438.1 265.6L1450.9 266.7L1451.3 251.7L1438.5 250.6zM1454.1 267.0L1466.9 268.2L1467.3 253.1L1454.5 252.0zM1470.1 268.4L1482.9 269.6L1483.3 254.5L1470.5 253.4zM1486.1 269.9L1499.0 271.0L1499.4 256.0L1486.5 254.8zM1502.2 271.3L1515.0 272.4L1515.4 257.4L1502.6 256.2zM1518.2 272.7L1531.1 273.9L1531.5 258.8L1518.6 257.7zM1534.3 274.2L1547.1 275.3L1547.6 260.2L1534.7 259.1zM1550.4 275.6L1563.2 276.7L1563.7 261.7L1550.8 260.5zM1566.4 277.0L1579.3 278.2L1579.8 263.1L1566.9 261.9zM1582.6 278.5L1595.5 279.6L1595.9 264.5L1583.0 263.4zM1598.7 279.9L1611.6 281.1L1612.1 266.0L1599.2 264.8zM1614.8 281.3L1627.8 282.5L1628.3 267.4L1615.3 266.2zM1631.0 282.8L1643.9 283.9L1644.5 268.8L1631.5 267.7zM1647.2 284.2L1660.1 285.4L1660.7 270.3L1647.7 269.1zM1663.4 285.7L1676.3 286.8L1676.9 271.7L1663.9 270.6zM1679.6 287.1L1692.6 288.3L1693.1 273.1L1680.1 272.0zM1695.8 288.6L1708.8 289.7L1709.4 274.6L1696.4 273.4zM1712.0 290.0L1725.0 291.2L1725.6 276.0L1712.6 274.9zM1728.3 291.5L1741.3 292.6L1741.9 277.5L1728.9 276.3zM1744.6 292.9L1757.6 294.1L1758.2 278.9L1745.2 277.8zM1760.9 294.4L1773.9 295.5L1774.5 280.4L1761.5 279.2zM1777.2 295.8L1790.2 297.0L1790.9 281.8L1777.8 280.7zM1793.5 297.3L1806.6 298.4L1807.2 283.3L1794.1 282.1zM1809.8 298.7L1822.9 299.9L1823.6 284.7L1810.5 283.6zM1826.2 300.2L1839.3 301.4L1840.0 286.2L1826.9 285.0zM1842.6 301.6L1855.7 302.8L1856.4 287.6L1843.3 286.5zM1859.0 303.1L1872.1 304.3L1872.8 289.1L1859.7 287.9zM1875.4 304.6L1888.5 305.7L1889.2 290.5L1876.1 289.4zM1891.8 306.0L1904.9 307.2L1905.7 292.0L1892.5 290.8zM1908.2 307.5L1921.4 308.7L1922.2 293.5L1909.0 292.3zM1924.7 309.0L1937.9 310.1L1938.6 294.9L1925.4 293.7zM1941.2 310.4L1954.4 311.6L1955.1 296.4L1941.9 295.2zM1957.7 311.9L1970.9 313.1L1971.7 297.8L1958.4 296.7zM1974.2 313.4L1987.4 314.6L1988.2 299.3L1975.0 298.1zM1990.7 314.9L2003.9 316.0L2004.7 300.8L1991.5 299.6z" fill="#5c9eb0"/>
<path d="M990.2 233.5L993.1 227.5L993.1 212.6L990.2 218.6zM1005.7 234.9L1008.7 228.9L1008.7 214.0L1005.7 220.0zM1021.3 236.3L1024.3 230.3L1024.3 215.4L1021.3 221.4zM1036.9 237.7L1039.8 231.6L1039.9 216.8L1037.0 222.8zM1052.6 239.1L1055.4 233.0L1055.5 218.2L1052.6 224.2zM1068.2 240.5L1071.0 234.4L1071.1 219.5L1068.2 225.6zM1083.8 241.9L1086.7 235.8L1086.7 220.9L1083.9 227.0zM1099.5 243.3L1102.3 237.2L1102.4 222.3L1099.6 228.4zM1115.2 244.7L1118.0 238.6L1118.1 223.7L1115.3 229.7zM1130.9 246.1L1133.6 240.0L1133.7 225.1L1131.0 231.1zM1146.6 247.5L1149.3 241.4L1149.4 226.5L1146.7 232.5zM1162.3 248.9L1165.0 242.8L1165.2 227.9L1162.5 233.9zM1178.1 250.3L1180.7 244.2L1180.9 229.3L1178.2 235.3zM1193.9 251.7L1196.5 245.6L1196.6 230.7L1194.0 236.7zM1209.6 253.1L1212.2 247.0L1212.4 232.1L1209.8 238.2zM1225.4 254.5L1228.0 248.4L1228.2 233.5L1225.6 239.6zM1241.2 255.9L1243.8 249.8L1244.0 234.9L1241.4 241.0zM1257.1 257.4L1259.6 251.2L1259.8 236.3L1257.3 242.4zM1272.9 258.8L1275.4 252.7L1275.6 237.7L1273.1 243.8zM1288.8 260.2L1291.2 254.1L1291.5 239.1L1289.0 245.2zM1304.6 261.6L1307.1 255.5L1307.3 240.5L1304.9 246.6zM1320.5 263.0L1322.9 256.9L1323.2 241.9L1320.8 248.0zM1336.4 264.5L1338.8 258.3L1339.1 243.3L1336.7 249.4zM1352.3 265.9L1354.7 259.7L1355.0 244.7L1352.6 250.9zM1368.3 267.3L1370.6 261.2L1370.9 246.1L1368.6 252.3zM1384.2 268.7L1386.5 262.6L1386.8 247.6L1384.5 253.7zM1400.2 270.2L1402.5 264.0L1402.8 249.0L1400.5 255.1zM1416.2 271.6L1418.4 265.4L1418.8 250.4L1416.5 256.5zM1432.2 273.0L1434.4 266.8L1434.7 251.8L1432.5 258.0zM1448.2 274.4L1450.4 268.3L1450.7 253.2L1448.6 259.4zM1464.2 275.9L1466.4 269.7L1466.8 254.7L1464.6 260.8zM1480.3 277.3L1482.4 271.1L1482.8 256.1L1480.7 262.2zM1496.3 278.8L1498.4 272.6L1498.8 257.5L1496.7 263.7zM1512.4 280.2L1514.5 274.0L1514.9 258.9L1512.8 265.1zM1528.5 281.6L1530.6 275.4L1531.0 260.4L1528.9 266.5zM1544.6 283.1L1546.6 276.9L1547.1 261.8L1545.1 268.0zM1560.8 284.5L1562.7 278.3L1563.2 263.2L1561.2 269.4zM1576.9 286.0L1578.9 279.7L1579.3 264.6L1577.4 270.8zM1593.1 287.4L1595.0 281.2L1595.5 266.1L1593.5 272.3zM1609.2 288.8L1611.1 282.6L1611.6 267.5L1609.7 273.7zM1625.4 290.3L1627.3 284.1L1627.8 268.9L1625.9 275.2zM1641.6 291.7L1643.5 285.5L1644.0 270.4L1642.2 276.6zM1657.9 293.2L1659.7 286.9L1660.2 271.8L1658.4 278.1zM1674.1 294.6L1675.9 288.4L1676.4 273.3L1674.7 279.5zM1690.4 296.1L1692.1 289.8L1692.7 274.7L1690.9 280.9zM1706.7 297.6L1708.4 291.3L1708.9 276.1L1707.2 282.4zM1722.9 299.0L1724.6 292.7L1725.2 277.6L1723.5 283.8zM1739.3 300.5L1740.9 294.2L1741.5 279.0L1739.9 285.3zM1755.6 301.9L1757.2 295.6L1757.8 280.5L1756.2 286.7zM1771.9 303.4L1773.5 297.1L1774.1 281.9L1772.6 288.2zM1788.3 304.9L1789.8 298.6L1790.5 283.4L1788.9 289.7zM1804.7 306.3L1806.2 300.0L1806.8 284.8L1805.3 291.1zM1821.0 307.8L1822.5 301.5L1823.2 286.3L1821.7 292.6zM1837.5 309.3L1838.9 302.9L1839.6 287.7L1838.1 294.0zM1853.9 310.7L1855.3 304.4L1856.0 289.2L1854.6 295.5zM1870.3 312.2L1871.7 305.9L1872.4 290.7L1871.0 297.0zM1886.8 313.7L1888.2 307.3L1888.9 292.1L1887.5 298.4zM1903.3 315.1L1904.6 308.8L1905.3 293.6L1904.0 299.9zM1919.7 316.6L1921.1 310.3L1921.8 295.0L1920.5 301.4zM1936.3 318.1L1937.5 311.7L1938.3 296.5L1937.0 302.8zM1952.8 319.6L1954.0 313.2L1954.8 298.0L1953.6 304.3zM1969.3 321.0L1970.6 314.7L1971.3 299.4L1970.1 305.8zM1985.9 322.5L1987.1 316.1L1987.9 300.9L1986.7 307.2zM2002.5 324.0L2003.6 317.6L2004.5 302.4L2003.3 308.7z" fill="#24505e"/>
<path d="M977.7 217.5L990.2 218.6L993.1 212.6L980.7 211.5zM993.3 218.9L1005.7 220.0L1008.7 214.0L996.2 212.9zM1008.9 220.3L1021.3 221.4L1024.3 215.4L1011.8 214.3zM1024.5 221.7L1037.0 222.8L1039.9 216.8L1027.4 215.7zM1040.1 223.1L1052.6 224.2L1055.5 218.2L1043.0 217.0zM1055.7 224.5L1068.2 225.6L1071.1 219.5L1058.6 218.4zM1071.4 225.8L1083.9 227.0L1086.7 220.9L1074.2 219.8zM1087.0 227.2L1099.6 228.4L1102.4 222.3L1089.9 221.2zM1102.7 228.6L1115.3 229.7L1118.1 223.7L1105.5 222.6zM1118.4 230.0L1131.0 231.1L1133.7 225.1L1121.2 224.0zM1134.1 231.4L1146.7 232.5L1149.4 226.5L1136.9 225.4zM1149.9 232.8L1162.5 233.9L1165.2 227.9L1152.6 226.8zM1165.6 234.2L1178.2 235.3L1180.9 229.3L1168.3 228.2zM1181.4 235.6L1194.0 236.7L1196.6 230.7L1184.0 229.6zM1197.2 237.0L1209.8 238.2L1212.4 232.1L1199.8 231.0zM1213.0 238.4L1225.6 239.6L1228.2 233.5L1215.6 232.4zM1228.8 239.8L1241.4 241.0L1244.0 234.9L1231.3 233.8zM1244.6 241.2L1257.3 242.4L1259.8 236.3L1247.1 235.2zM1260.4 242.7L1273.1 243.8L1275.6 237.7L1262.9 236.6zM1276.3 244.1L1289.0 245.2L1291.5 239.1L1278.8 238.0zM1292.2 245.5L1304.9 246.6L1307.3 240.5L1294.6 239.4zM1308.1 246.9L1320.8 248.0L1323.2 241.9L1310.5 240.8zM1324.0 248.3L1336.7 249.4L1339.1 243.3L1326.4 242.2zM1339.9 249.7L1352.6 250.9L1355.0 244.7L1342.3 243.6zM1355.8 251.1L1368.6 252.3L1370.9 246.1L1358.2 245.0zM1371.8 252.6L1384.5 253.7L1386.8 247.6L1374.1 246.4zM1387.7 254.0L1400.5 255.1L1402.8 249.0L1390.0 247.8zM1403.7 255.4L1416.5 256.5L1418.8 250.4L1406.0 249.3zM1419.7 256.8L1432.5 258.0L1434.7 251.8L1421.9 250.7zM1435.7 258.2L1448.6 259.4L1450.7 253.2L1437.9 252.1zM1451.8 259.7L1464.6 260.8L1466.8 254.7L1453.9 253.5zM1467.8 261.1L1480.7 262.2L1482.8 256.1L1470.0 254.9zM1483.9 262.5L1496.7 263.7L1498.8 257.5L1486.0 256.4zM1500.0 264.0L1512.8 265.1L1514.9 258.9L1502.0 257.8zM1516.1 265.4L1528.9 266.5L1531.0 260.4L1518.1 259.2zM1532.2 266.8L1545.1 268.0L1547.1 261.8L1534.2 260.6zM1548.3 268.3L1561.2 269.4L1563.2 263.2L1550.3 262.1zM1564.4 269.7L1577.4 270.8L1579.3 264.6L1566.4 263.5zM1580.6 271.1L1593.5 272.3L1595.5 266.1L1582.5 264.9zM1596.8 272.6L1609.7 273.7L1611.6 267.5L1598.7 266.4zM1613.0 274.0L1625.9 275.2L1627.8 268.9L1614.9 267.8zM1629.2 275.5L1642.2 276.6L1644.0 270.4L1631.0 269.2zM1645.4 276.9L1658.4 278.1L1660.2 271.8L1647.2 270.7zM1661.7 278.3L1674.7 279.5L1676.4 273.3L1663.5 272.1zM1677.9 279.8L1690.9 280.9L1692.7 274.7L1679.7 273.5zM1694.2 281.2L1707.2 282.4L1708.9 276.1L1695.9 275.0zM1710.5 282.7L1723.5 283.8L1725.2 277.6L1712.2 276.4zM1726.8 284.1L1739.9 285.3L1741.5 279.0L1728.5 277.9zM1743.1 285.6L1756.2 286.7L1757.8 280.5L1744.8 279.3zM1759.5 287.0L1772.6 288.2L1774.1 281.9L1761.1 280.8zM1775.8 288.5L1788.9 289.7L1790.5 283.4L1777.4 282.2zM1792.2 289.9L1805.3 291.1L1806.8 284.8L1793.8 283.7zM1808.6 291.4L1821.7 292.6L1823.2 286.3L1810.1 285.1zM1825.0 292.9L1838.1 294.0L1839.6 287.7L1826.5 286.6zM1841.4 294.3L1854.6 295.5L1856.0 289.2L1842.9 288.0zM1857.9 295.8L1871.0 297.0L1872.4 290.7L1859.3 289.5zM1874.3 297.3L1887.5 298.4L1888.9 292.1L1875.7 290.9zM1890.8 298.7L1904.0 299.9L1905.3 293.6L1892.2 292.4zM1907.3 300.2L1920.5 301.4L1921.8 295.0L1908.6 293.9zM1923.8 301.7L1937.0 302.8L1938.3 296.5L1925.1 295.3zM1940.3 303.1L1953.6 304.3L1954.8 298.0L1941.6 296.8zM1956.9 304.6L1970.1 305.8L1971.3 299.4L1958.1 298.3zM1973.4 306.1L1986.7 307.2L1987.9 300.9L1974.7 299.7zM1990.0 307.5L2003.3 308.7L2004.5 302.4L1991.2 301.2z" fill="#4a8798"/>
<path d="M977.7 232.4L990.2 233.5L990.2 218.6L977.7 217.5zM993.3 233.8L1005.7 234.9L1005.7 220.0L993.3 218.9zM1008.8 235.2L1021.3 236.3L1021.3 221.4L1008.9 220.3zM1024.4 236.6L1036.9 237.7L1037.0 222.8L1024.5 221.7zM1040.1 238.0L1052.6 239.1L1052.6 224.2L1040.1 223.1zM1055.7 239.4L1068.2 240.5L1068.2 225.6L1055.7 224.5zM1071.3 240.8L1083.8 241.9L1083.9 227.0L1071.4 225.8zM1087.0 242.2L1099.5 243.3L1099.6 228.4L1087.0 227.2zM1102.6 243.6L1115.2 244.7L1115.3 229.7L1102.7 228.6zM1118.3 245.0L1130.9 246.1L1131.0 231.1L1118.4 230.0zM1134.0 246.4L1146.6 247.5L1146.7 232.5L1134.1 231.4zM1149.8 247.8L1162.3 248.9L1162.5 233.9L1149.9 232.8zM1165.5 249.2L1178.1 250.3L1178.2 235.3L1165.6 234.2zM1181.2 250.6L1193.9 251.7L1194.0 236.7L1181.4 235.6zM1197.0 252.0L1209.6 253.1L1209.8 238.2L1197.2 237.0zM1212.8 253.4L1225.4 254.5L1225.6 239.6L1213.0 238.4zM1228.6 254.8L1241.2 255.9L1241.4 241.0L1228.8 239.8zM1244.4 256.2L1257.1 257.4L1257.3 242.4L1244.6 241.2zM1260.2 257.6L1272.9 258.8L1273.1 243.8L1260.4 242.7zM1276.1 259.1L1288.8 260.2L1289.0 245.2L1276.3 244.1zM1291.9 260.5L1304.6 261.6L1304.9 246.6L1292.2 245.5zM1307.8 261.9L1320.5 263.0L1320.8 248.0L1308.1 246.9zM1323.7 263.3L1336.4 264.5L1336.7 249.4L1324.0 248.3zM1339.6 264.7L1352.3 265.9L1352.6 250.9L1339.9 249.7zM1355.5 266.2L1368.3 267.3L1368.6 252.3L1355.8 251.1zM1371.5 267.6L1384.2 268.7L1384.5 253.7L1371.8 252.6zM1387.4 269.0L1400.2 270.2L1400.5 255.1L1387.7 254.0zM1403.4 270.4L1416.2 271.6L1416.5 256.5L1403.7 255.4zM1419.4 271.9L1432.2 273.0L1432.5 258.0L1419.7 256.8zM1435.4 273.3L1448.2 274.4L1448.6 259.4L1435.7 258.2zM1451.4 274.7L1464.2 275.9L1464.6 260.8L1451.8 259.7zM1467.4 276.2L1480.3 277.3L1480.7 262.2L1467.8 261.1zM1483.5 277.6L1496.3 278.8L1496.7 263.7L1483.9 262.5zM1499.6 279.0L1512.4 280.2L1512.8 265.1L1500.0 264.0zM1515.6 280.5L1528.5 281.6L1528.9 266.5L1516.1 265.4zM1531.7 281.9L1544.6 283.1L1545.1 268.0L1532.2 266.8zM1547.9 283.4L1560.8 284.5L1561.2 269.4L1548.3 268.3zM1564.0 284.8L1576.9 286.0L1577.4 270.8L1564.4 269.7zM1580.1 286.2L1593.1 287.4L1593.5 272.3L1580.6 271.1zM1596.3 287.7L1609.2 288.8L1609.7 273.7L1596.8 272.6zM1612.5 289.1L1625.4 290.3L1625.9 275.2L1613.0 274.0zM1628.7 290.6L1641.6 291.7L1642.2 276.6L1629.2 275.5zM1644.9 292.0L1657.9 293.2L1658.4 278.1L1645.4 276.9zM1661.1 293.5L1674.1 294.6L1674.7 279.5L1661.7 278.3zM1677.4 294.9L1690.4 296.1L1690.9 280.9L1677.9 279.8zM1693.6 296.4L1706.7 297.6L1707.2 282.4L1694.2 281.2zM1709.9 297.8L1722.9 299.0L1723.5 283.8L1710.5 282.7zM1726.2 299.3L1739.3 300.5L1739.9 285.3L1726.8 284.1zM1742.5 300.8L1755.6 301.9L1756.2 286.7L1743.1 285.6zM1758.8 302.2L1771.9 303.4L1772.6 288.2L1759.5 287.0zM1775.2 303.7L1788.3 304.9L1788.9 289.7L1775.8 288.5zM1791.6 305.1L1804.7 306.3L1805.3 291.1L1792.2 289.9zM1807.9 306.6L1821.0 307.8L1821.7 292.6L1808.6 291.4zM1824.3 308.1L1837.5 309.3L1838.1 294.0L1825.0 292.9zM1840.7 309.5L1853.9 310.7L1854.6 295.5L1841.4 294.3zM1857.2 311.0L1870.3 312.2L1871.0 297.0L1857.9 295.8zM1873.6 312.5L1886.8 313.7L1887.5 298.4L1874.3 297.3zM1890.1 314.0L1903.3 315.1L1904.0 299.9L1890.8 298.7zM1906.5 315.4L1919.7 316.6L1920.5 301.4L1907.3 300.2zM1923.0 316.9L1936.3 318.1L1937.0 302.8L1923.8 301.7zM1939.6 318.4L1952.8 319.6L1953.6 304.3L1940.3 303.1zM1956.1 319.9L1969.3 321.0L1970.1 305.8L1956.9 304.6zM1972.6 321.3L1985.9 322.5L1986.7 307.2L1973.4 306.1zM1989.2 322.8L2002.5 324.0L2003.3 308.7L1990.0 307.5z" fill="#5c9eb0"/>
<path d="M986.4 241.0L989.4 235.0L989.4 220.1L986.4 226.1zM1002.0 242.4L1005.0 236.4L1005.0 221.5L1002.0 227.5zM1017.6 243.8L1020.6 237.8L1020.6 222.9L1017.7 228.9zM1033.3 245.3L1036.2 239.2L1036.2 224.3L1033.3 230.3zM1048.9 246.7L1051.8 240.6L1051.9 225.7L1049.0 231.7zM1064.6 248.1L1067.5 242.0L1067.5 227.1L1064.7 233.1zM1080.3 249.5L1083.1 243.4L1083.2 228.5L1080.4 234.5zM1096.0 250.9L1098.8 244.8L1098.9 229.9L1096.1 235.9zM1111.7 252.3L1114.5 246.2L1114.6 231.3L1111.8 237.3zM1127.5 253.7L1130.2 247.6L1130.3 232.7L1127.6 238.7zM1143.2 255.1L1145.9 249.0L1146.1 234.1L1143.3 240.1zM1159.0 256.5L1161.7 250.4L1161.8 235.5L1159.1 241.5zM1174.8 257.9L1177.4 251.8L1177.6 236.9L1174.9 243.0zM1190.6 259.4L1193.2 253.2L1193.4 238.3L1190.7 244.4zM1206.4 260.8L1209.0 254.6L1209.1 239.7L1206.5 245.8zM1222.2 262.2L1224.8 256.1L1225.0 241.1L1222.4 247.2zM1238.0 263.6L1240.6 257.5L1240.8 242.5L1238.2 248.6zM1253.9 265.0L1256.4 258.9L1256.6 243.9L1254.1 250.0zM1269.8 266.5L1272.3 260.3L1272.5 245.3L1270.0 251.4zM1285.7 267.9L1288.1 261.7L1288.4 246.7L1285.9 252.9zM1301.6 269.3L1304.0 263.1L1304.3 248.1L1301.8 254.3zM1317.5 270.7L1319.9 264.6L1320.2 249.6L1317.8 255.7zM1333.4 272.2L1335.8 266.0L1336.1 251.0L1333.7 257.1zM1349.4 273.6L1351.8 267.4L1352.0 252.4L1349.7 258.5zM1365.4 275.0L1367.7 268.8L1368.0 253.8L1365.7 260.0zM1381.4 276.5L1383.7 270.3L1384.0 255.2L1381.7 261.4zM1397.4 277.9L1399.6 271.7L1400.0 256.7L1397.7 262.8zM1413.4 279.3L1415.6 273.1L1416.0 258.1L1413.7 264.3zM1429.4 280.8L1431.6 274.6L1432.0 259.5L1429.8 265.7zM1445.5 282.2L1447.7 276.0L1448.0 260.9L1445.8 267.1zM1461.5 283.6L1463.7 277.4L1464.1 262.4L1461.9 268.6zM1477.6 285.1L1479.7 278.9L1480.1 263.8L1478.0 270.0zM1493.7 286.5L1495.8 280.3L1496.2 265.2L1494.1 271.4zM1509.8 288.0L1511.9 281.7L1512.3 266.7L1510.2 272.9zM1526.0 289.4L1528.0 283.2L1528.4 268.1L1526.4 274.3zM1542.1 290.9L1544.1 284.6L1544.6 269.5L1542.6 275.7zM1558.3 292.3L1560.3 286.1L1560.7 271.0L1558.7 277.2zM1574.5 293.8L1576.4 287.5L1576.9 272.4L1574.9 278.6zM1590.7 295.2L1592.6 289.0L1593.1 273.8L1591.1 280.1zM1606.9 296.7L1608.8 290.4L1609.3 275.3L1607.4 281.5zM1623.1 298.1L1625.0 291.9L1625.5 276.7L1623.6 283.0zM1639.3 299.6L1641.2 293.3L1641.7 278.2L1639.9 284.4zM1655.6 301.0L1657.4 294.8L1658.0 279.6L1656.1 285.9zM1671.9 302.5L1673.7 296.2L1674.2 281.1L1672.4 287.3zM1688.2 304.0L1689.9 297.7L1690.5 282.5L1688.8 288.8zM1704.5 305.4L1706.2 299.1L1706.8 284.0L1705.1 290.2zM1720.8 306.9L1722.5 300.6L1723.1 285.4L1721.4 291.7zM1737.2 308.4L1738.8 302.0L1739.4 286.9L1737.8 293.2zM1753.5 309.8L1755.2 303.5L1755.8 288.3L1754.2 294.6zM1769.9 311.3L1771.5 305.0L1772.2 289.8L1770.5 296.1zM1786.3 312.8L1787.9 306.4L1788.5 291.2L1787.0 297.5zM1802.7 314.2L1804.3 307.9L1804.9 292.7L1803.4 299.0zM1819.2 315.7L1820.7 309.4L1821.3 294.2L1819.8 300.5zM1835.6 317.2L1837.1 310.8L1837.8 295.6L1836.3 301.9zM1852.1 318.7L1853.5 312.3L1854.2 297.1L1852.8 303.4zM1868.5 320.1L1870.0 313.8L1870.7 298.5L1869.3 304.9zM1885.0 321.6L1886.4 315.2L1887.2 300.0L1885.8 306.4zM1901.6 323.1L1902.9 316.7L1903.7 301.5L1902.3 307.8zM1918.1 324.6L1919.4 318.2L1920.2 302.9L1918.8 309.3zM1934.6 326.1L1935.9 319.7L1936.7 304.4L1935.4 310.8zM1951.2 327.5L1952.5 321.2L1953.2 305.9L1952.0 312.3zM1967.8 329.0L1969.0 322.6L1969.8 307.4L1968.6 313.7zM1984.4 330.5L1985.6 324.1L1986.4 308.8L1985.2 315.2zM2001.0 332.0L2002.2 325.6L2003.0 310.3L2001.8 316.7z" fill="#24505e"/>
<path d="M973.9 225.0L986.4 226.1L989.4 220.1L976.9 219.0zM989.5 226.4L1002.0 227.5L1005.0 221.5L992.5 220.4zM1005.2 227.8L1017.7 228.9L1020.6 222.9L1008.1 221.8zM1020.8 229.2L1033.3 230.3L1036.2 224.3L1023.7 223.2zM1036.5 230.6L1049.0 231.7L1051.9 225.7L1039.4 224.6zM1052.1 232.0L1064.7 233.1L1067.5 227.1L1055.0 226.0zM1067.8 233.4L1080.4 234.5L1083.2 228.5L1070.7 227.4zM1083.5 234.8L1096.1 235.9L1098.9 229.9L1086.3 228.7zM1099.2 236.2L1111.8 237.3L1114.6 231.3L1102.0 230.1zM1115.0 237.6L1127.6 238.7L1130.3 232.7L1117.7 231.5zM1130.7 239.0L1143.3 240.1L1146.1 234.1L1133.5 232.9zM1146.5 240.4L1159.1 241.5L1161.8 235.5L1149.2 234.3zM1162.3 241.8L1174.9 243.0L1177.6 236.9L1165.0 235.7zM1178.1 243.2L1190.7 244.4L1193.4 238.3L1180.7 237.1zM1193.9 244.6L1206.5 245.8L1209.1 239.7L1196.5 238.5zM1209.7 246.1L1222.4 247.2L1225.0 241.1L1212.3 240.0zM1225.5 247.5L1238.2 248.6L1240.8 242.5L1228.1 241.4zM1241.4 248.9L1254.1 250.0L1256.6 243.9L1244.0 242.8zM1257.3 250.3L1270.0 251.4L1272.5 245.3L1259.8 244.2zM1273.2 251.7L1285.9 252.9L1288.4 246.7L1275.7 245.6zM1289.1 253.1L1301.8 254.3L1304.3 248.1L1291.5 247.0zM1305.0 254.6L1317.8 255.7L1320.2 249.6L1307.4 248.4zM1320.9 256.0L1333.7 257.1L1336.1 251.0L1323.4 249.8zM1336.9 257.4L1349.7 258.5L1352.0 252.4L1339.3 251.3zM1352.9 258.8L1365.7 260.0L1368.0 253.8L1355.2 252.7zM1368.9 260.3L1381.7 261.4L1384.0 255.2L1371.2 254.1zM1384.9 261.7L1397.7 262.8L1400.0 256.7L1387.2 255.5zM1400.9 263.1L1413.7 264.3L1416.0 258.1L1403.2 256.9zM1416.9 264.5L1429.8 265.7L1432.0 259.5L1419.2 258.4zM1433.0 266.0L1445.8 267.1L1448.0 260.9L1435.2 259.8zM1449.0 267.4L1461.9 268.6L1464.1 262.4L1451.2 261.2zM1465.1 268.8L1478.0 270.0L1480.1 263.8L1467.3 262.6zM1481.2 270.3L1494.1 271.4L1496.2 265.2L1483.4 264.1zM1497.3 271.7L1510.2 272.9L1512.3 266.7L1499.4 265.5zM1513.5 273.1L1526.4 274.3L1528.4 268.1L1515.5 266.9zM1529.6 274.6L1542.6 275.7L1544.6 269.5L1531.7 268.4zM1545.8 276.0L1558.7 277.2L1560.7 271.0L1547.8 269.8zM1562.0 277.5L1574.9 278.6L1576.9 272.4L1564.0 271.2zM1578.2 278.9L1591.1 280.1L1593.1 273.8L1580.1 272.7zM1594.4 280.4L1607.4 281.5L1609.3 275.3L1596.3 274.1zM1610.6 281.8L1623.6 283.0L1625.5 276.7L1612.5 275.6zM1626.9 283.3L1639.9 284.4L1641.7 278.2L1628.7 277.0zM1643.1 284.7L1656.1 285.9L1658.0 279.6L1645.0 278.5zM1659.4 286.2L1672.4 287.3L1674.2 281.1L1661.2 279.9zM1675.7 287.6L1688.8 288.8L1690.5 282.5L1677.5 281.3zM1692.0 289.1L1705.1 290.2L1706.8 284.0L1693.8 282.8zM1708.3 290.5L1721.4 291.7L1723.1 285.4L1710.1 284.2zM1724.7 292.0L1737.8 293.2L1739.4 286.9L1726.4 285.7zM1741.1 293.4L1754.2 294.6L1755.8 288.3L1742.7 287.2zM1757.4 294.9L1770.5 296.1L1772.2 289.8L1759.1 288.6zM1773.8 296.4L1787.0 297.5L1788.5 291.2L1775.4 290.1zM1790.2 297.8L1803.4 299.0L1804.9 292.7L1791.8 291.5zM1806.7 299.3L1819.8 300.5L1821.3 294.2L1808.2 293.0zM1823.1 300.8L1836.3 301.9L1837.8 295.6L1824.6 294.4zM1839.6 302.2L1852.8 303.4L1854.2 297.1L1841.1 295.9zM1856.1 303.7L1869.3 304.9L1870.7 298.5L1857.5 297.4zM1872.6 305.2L1885.8 306.4L1887.2 300.0L1874.0 298.8zM1889.1 306.6L1902.3 307.8L1903.7 301.5L1890.5 300.3zM1905.6 308.1L1918.8 309.3L1920.2 302.9L1907.0 301.8zM1922.1 309.6L1935.4 310.8L1936.7 304.4L1923.5 303.2zM1938.7 311.1L1952.0 312.3L1953.2 305.9L1940.0 304.7zM1955.3 312.6L1968.6 313.7L1969.8 307.4L1956.6 306.2zM1971.9 314.0L1985.2 315.2L1986.4 308.8L1973.1 307.7zM1988.5 315.5L2001.8 316.7L2003.0 310.3L1989.7 309.1z" fill="#4a8798"/>
<path d="M973.9 239.9L986.4 241.0L986.4 226.1L973.9 225.0zM989.5 241.3L1002.0 242.4L1002.0 227.5L989.5 226.4zM1005.1 242.7L1017.6 243.8L1017.7 228.9L1005.2 227.8zM1020.8 244.1L1033.3 245.3L1033.3 230.3L1020.8 229.2zM1036.4 245.5L1048.9 246.7L1049.0 231.7L1036.5 230.6zM1052.1 246.9L1064.6 248.1L1064.7 233.1L1052.1 232.0zM1067.8 248.3L1080.3 249.5L1080.4 234.5L1067.8 233.4zM1083.4 249.7L1096.0 250.9L1096.1 235.9L1083.5 234.8zM1099.2 251.2L1111.7 252.3L1111.8 237.3L1099.2 236.2zM1114.9 252.6L1127.5 253.7L1127.6 238.7L1115.0 237.6zM1130.6 254.0L1143.2 255.1L1143.3 240.1L1130.7 239.0zM1146.4 255.4L1159.0 256.5L1159.1 241.5L1146.5 240.4zM1162.1 256.8L1174.8 257.9L1174.9 243.0L1162.3 241.8zM1177.9 258.2L1190.6 259.4L1190.7 244.4L1178.1 243.2zM1193.7 259.6L1206.4 260.8L1206.5 245.8L1193.9 244.6zM1209.5 261.1L1222.2 262.2L1222.4 247.2L1209.7 246.1zM1225.4 262.5L1238.0 263.6L1238.2 248.6L1225.5 247.5zM1241.2 263.9L1253.9 265.0L1254.1 250.0L1241.4 248.9zM1257.1 265.3L1269.8 266.5L1270.0 251.4L1257.3 250.3zM1273.0 266.7L1285.7 267.9L1285.9 252.9L1273.2 251.7zM1288.8 268.2L1301.6 269.3L1301.8 254.3L1289.1 253.1zM1304.8 269.6L1317.5 270.7L1317.8 255.7L1305.0 254.6zM1320.7 271.0L1333.4 272.2L1333.7 257.1L1320.9 256.0zM1336.6 272.4L1349.4 273.6L1349.7 258.5L1336.9 257.4zM1352.6 273.9L1365.4 275.0L1365.7 260.0L1352.9 258.8zM1368.6 275.3L1381.4 276.5L1381.7 261.4L1368.9 260.3zM1384.6 276.7L1397.4 277.9L1397.7 262.8L1384.9 261.7zM1400.6 278.2L1413.4 279.3L1413.7 264.3L1400.9 263.1zM1416.6 279.6L1429.4 280.8L1429.8 265.7L1416.9 264.5zM1432.6 281.1L1445.5 282.2L1445.8 267.1L1433.0 266.0zM1448.7 282.5L1461.5 283.6L1461.9 268.6L1449.0 267.4zM1464.7 283.9L1477.6 285.1L1478.0 270.0L1465.1 268.8zM1480.8 285.4L1493.7 286.5L1494.1 271.4L1481.2 270.3zM1496.9 286.8L1509.8 288.0L1510.2 272.9L1497.3 271.7zM1513.1 288.3L1526.0 289.4L1526.4 274.3L1513.5 273.1zM1529.2 289.7L1542.1 290.9L1542.6 275.7L1529.6 274.6zM1545.3 291.2L1558.3 292.3L1558.7 277.2L1545.8 276.0zM1561.5 292.6L1574.5 293.8L1574.9 278.6L1562.0 277.5zM1577.7 294.1L1590.7 295.2L1591.1 280.1L1578.2 278.9zM1593.9 295.5L1606.9 296.7L1607.4 281.5L1594.4 280.4zM1610.1 297.0L1623.1 298.1L1623.6 283.0L1610.6 281.8zM1626.3 298.4L1639.3 299.6L1639.9 284.4L1626.9 283.3zM1642.6 299.9L1655.6 301.0L1656.1 285.9L1643.1 284.7zM1658.9 301.3L1671.9 302.5L1672.4 287.3L1659.4 286.2zM1675.1 302.8L1688.2 304.0L1688.8 288.8L1675.7 287.6zM1691.4 304.3L1704.5 305.4L1705.1 290.2L1692.0 289.1zM1707.8 305.7L1720.8 306.9L1721.4 291.7L1708.3 290.5zM1724.1 307.2L1737.2 308.4L1737.8 293.2L1724.7 292.0zM1740.4 308.7L1753.5 309.8L1754.2 294.6L1741.1 293.4zM1756.8 310.1L1769.9 311.3L1770.5 296.1L1757.4 294.9zM1773.2 311.6L1786.3 312.8L1787.0 297.5L1773.8 296.4zM1789.6 313.1L1802.7 314.2L1803.4 299.0L1790.2 297.8zM1806.0 314.5L1819.2 315.7L1819.8 300.5L1806.7 299.3zM1822.4 316.0L1835.6 317.2L1836.3 301.9L1823.1 300.8zM1838.9 317.5L1852.1 318.7L1852.8 303.4L1839.6 302.2zM1855.4 319.0L1868.5 320.1L1869.3 304.9L1856.1 303.7zM1871.8 320.4L1885.0 321.6L1885.8 306.4L1872.6 305.2zM1888.3 321.9L1901.6 323.1L1902.3 307.8L1889.1 306.6zM1904.9 323.4L1918.1 324.6L1918.8 309.3L1905.6 308.1zM1921.4 324.9L1934.6 326.1L1935.4 310.8L1922.1 309.6zM1937.9 326.4L1951.2 327.5L1952.0 312.3L1938.7 311.1zM1954.5 327.8L1967.8 329.0L1968.6 313.7L1955.3 312.6zM1971.1 329.3L1984.4 330.5L1985.2 315.2L1971.9 314.0zM1987.7 330.8L2001.0 332.0L2001.8 316.7L1988.5 315.5z" fill="#5c9eb0"/>
<path d="M1222.1 270.2L1234.8 271.3L1237.4 265.1L1224.7 264.0zM1238.0 271.6L1250.7 272.7L1253.3 266.6L1240.6 265.4zM1253.9 273.0L1266.6 274.2L1269.1 268.0L1256.4 266.9zM1269.8 274.5L1282.6 275.6L1285.0 269.4L1272.3 268.3zM1285.8 275.9L1298.5 277.0L1301.0 270.8L1288.2 269.7zM1301.7 277.3L1314.5 278.5L1316.9 272.3L1304.1 271.1zM1317.7 278.8L1330.4 279.9L1332.8 273.7L1320.1 272.6zM1333.6 280.2L1346.4 281.3L1348.8 275.1L1336.0 274.0zM1349.6 281.6L1362.4 282.8L1364.8 276.6L1352.0 275.4zM1365.6 283.1L1378.5 284.2L1380.8 278.0L1368.0 276.9zM1381.7 284.5L1394.5 285.7L1396.8 279.4L1384.0 278.3zM1397.7 286.0L1410.6 287.1L1412.8 280.9L1400.0 279.7zM1413.8 287.4L1426.6 288.6L1428.9 282.3L1416.0 281.2zM1429.8 288.8L1442.7 290.0L1444.9 283.8L1432.1 282.6zM1445.9 290.3L1458.8 291.4L1461.0 285.2L1448.1 284.1zM1462.0 291.7L1474.9 292.9L1477.1 286.6L1464.2 285.5zM1478.2 293.2L1491.1 294.3L1493.2 288.1L1480.3 286.9zM1494.3 294.6L1507.2 295.8L1509.3 289.5L1496.4 288.4zM1510.5 296.1L1523.4 297.3L1525.5 291.0L1512.5 289.8zM1526.6 297.5L1539.6 298.7L1541.6 292.4L1528.7 291.3zM1542.8 299.0L1555.8 300.2L1557.8 293.9L1544.8 292.7zM1559.0 300.5L1572.0 301.6L1574.0 295.3L1561.0 294.2zM1575.2 301.9L1588.2 303.1L1590.2 296.8L1577.2 295.6zM1591.5 303.4L1604.5 304.5L1606.4 298.2L1593.4 297.1zM1607.7 304.8L1620.8 306.0L1622.6 299.7L1609.6 298.5zM1624.0 306.3L1637.0 307.5L1638.9 301.2L1625.9 300.0zM1640.3 307.8L1653.3 308.9L1655.2 302.6L1642.1 301.5zM1656.6 309.2L1669.7 310.4L1671.4 304.1L1658.4 302.9zM1672.9 310.7L1686.0 311.9L1687.7 305.5L1674.7 304.4zM1689.3 312.2L1702.3 313.3L1704.1 307.0L1691.0 305.8zM1705.6 313.6L1718.7 314.8L1720.4 308.5L1707.3 307.3zM1722.0 315.1L1735.1 316.3L1736.8 309.9L1723.7 308.8zM1738.4 316.6L1751.5 317.8L1753.1 311.4L1740.0 310.2zM1754.8 318.1L1767.9 319.2L1769.5 312.9L1756.4 311.7zM1771.2 319.5L1784.3 320.7L1785.9 314.4L1772.8 313.2zM1787.6 321.0L1800.8 322.2L1802.3 315.8L1789.2 314.6zM1804.1 322.5L1817.3 323.7L1818.8 317.3L1805.6 316.1zM1820.6 324.0L1833.7 325.2L1835.2 318.8L1822.1 317.6zM1837.0 325.5L1850.2 326.6L1851.7 320.3L1838.5 319.1zM1853.5 326.9L1866.8 328.1L1868.2 321.7L1855.0 320.6zM1870.1 328.4L1883.3 329.6L1884.7 323.2L1871.5 322.0zM1886.6 329.9L1899.8 331.1L1901.2 324.7L1888.0 323.5zM1903.2 331.4L1916.4 332.6L1917.7 326.2L1904.5 325.0zM1919.7 332.9L1933.0 334.1L1934.3 327.7L1921.1 326.5zM1936.3 334.4L1949.6 335.6L1950.9 329.2L1937.6 328.0zM1952.9 335.9L1966.2 337.1L1967.5 330.6L1954.2 329.4zM1969.5 337.4L1982.9 338.6L1984.1 332.1L1970.8 330.9zM1986.2 338.9L1999.5 340.1L2000.7 333.6L1987.4 332.4z" fill="#2a369a"/>
<path d="M982.7 248.6L985.7 242.6L985.7 227.7L982.6 233.7zM998.3 250.0L1001.3 244.0L1001.3 229.0L998.3 235.1zM1014.0 251.5L1016.9 245.4L1016.9 230.4L1014.0 236.5zM1029.6 252.9L1032.6 246.8L1032.6 231.8L1029.7 237.9zM1045.3 254.3L1048.2 248.2L1048.3 233.2L1045.4 239.3zM1061.0 255.7L1063.9 249.6L1064.0 234.6L1061.1 240.7zM1076.7 257.1L1079.6 251.0L1079.7 236.0L1076.8 242.1zM1092.5 258.5L1095.3 252.4L1095.4 237.4L1092.6 243.5zM1108.2 259.9L1111.0 253.8L1111.1 238.8L1108.3 244.9zM1124.0 261.3L1126.8 255.2L1126.9 240.3L1124.1 246.4zM1139.8 262.8L1142.5 256.6L1142.6 241.7L1139.9 247.8zM1155.6 264.2L1158.3 258.1L1158.4 243.1L1155.7 249.2zM1171.4 265.6L1174.1 259.5L1174.2 244.5L1171.5 250.6zM1187.2 267.0L1189.9 260.9L1190.0 245.9L1187.4 252.0zM1203.1 268.5L1205.7 262.3L1205.9 247.3L1203.3 253.4zM1219.0 269.9L1221.5 263.7L1221.7 248.7L1219.1 254.9z" fill="#24505e"/>
<path d="M970.1 232.6L982.6 233.7L985.7 227.7L973.2 226.5zM985.8 234.0L998.3 235.1L1001.3 229.0L988.8 227.9zM1001.4 235.4L1014.0 236.5L1016.9 230.4L1004.4 229.3zM1017.1 236.8L1029.7 237.9L1032.6 231.8L1020.1 230.7zM1032.8 238.2L1045.4 239.3L1048.3 233.2L1035.7 232.1zM1048.5 239.6L1061.1 240.7L1064.0 234.6L1051.4 233.5zM1064.2 241.0L1076.8 242.1L1079.7 236.0L1067.1 234.9zM1080.0 242.4L1092.6 243.5L1095.4 237.4L1082.8 236.3zM1095.7 243.8L1108.3 244.9L1111.1 238.8L1098.5 237.7zM1111.5 245.2L1124.1 246.4L1126.9 240.3L1114.3 239.1zM1127.3 246.6L1139.9 247.8L1142.6 241.7L1130.0 240.5zM1143.1 248.0L1155.7 249.2L1158.4 243.1L1145.8 241.9zM1158.9 249.5L1171.5 250.6L1174.2 244.5L1161.6 243.4zM1174.7 250.9L1187.4 252.0L1190.0 245.9L1177.4 244.8zM1190.6 252.3L1203.3 253.4L1205.9 247.3L1193.2 246.2zM1206.4 253.7L1219.1 254.9L1221.7 248.7L1209.0 247.6z" fill="#4a8798"/>
<path d="M970.1 247.5L982.7 248.6L982.6 233.7L970.1 232.6zM985.8 248.9L998.3 250.0L998.3 235.1L985.8 234.0zM1001.4 250.3L1014.0 251.5L1014.0 236.5L1001.4 235.4zM1017.1 251.7L1029.6 252.9L1029.7 237.9L1017.1 236.8zM1032.8 253.1L1045.3 254.3L1045.4 239.3L1032.8 238.2zM1048.5 254.6L1061.0 255.7L1061.1 240.7L1048.5 239.6zM1064.2 256.0L1076.7 257.1L1076.8 242.1L1064.2 241.0zM1079.9 257.4L1092.5 258.5L1092.6 243.5L1080.0 242.4zM1095.6 258.8L1108.2 259.9L1108.3 244.9L1095.7 243.8zM1111.4 260.2L1124.0 261.3L1124.1 246.4L1111.5 245.2zM1127.2 261.6L1139.8 262.8L1139.9 247.8L1127.3 246.6zM1143.0 263.0L1155.6 264.2L1155.7 249.2L1143.1 248.0zM1158.8 264.5L1171.4 265.6L1171.5 250.6L1158.9 249.5zM1174.6 265.9L1187.2 267.0L1187.4 252.0L1174.7 250.9zM1190.4 267.3L1203.1 268.5L1203.3 253.4L1190.6 252.3zM1206.3 268.7L1219.0 269.9L1219.1 254.9L1206.4 253.7z" fill="#5c9eb0"/>
<path d="M945.8 247.3L2023 345.9" stroke="#222" stroke-width="2" fill="none"/>
<path d="M2023 345.9L2048.6 213.6L2053.9 129.9" stroke="#222" stroke-width="1.5" fill="none"/>
<rect x="894.3" y="79.7" width="19.4" height="33.5" fill="#f04b48"/>
<rect x="894.3" y="112.9" width="19.4" height="29.6" fill="#f09650"/>
<rect x="894.3" y="142.2" width="19.4" height="30.2" fill="#f4f961"/>
<rect x="894.3" y="172.1" width="19.4" height="30.2" fill="#e6f87e"/>
<rect x="894.3" y="202.0" width="19.4" height="30.2" fill="#c6fba6"/>
<rect x="894.3" y="231.9" width="19.4" height="30.3" fill="#95f9d0"/>
<rect x="894.3" y="261.9" width="19.4" height="29.6" fill="#5fa3b5"/>
<rect x="894.3" y="291.2" width="19.4" height="29.9" fill="#3446ae"/>
<rect x="894.3" y="79.7" width="19.4" height="241.1" fill="none" stroke="#111" stroke-width="1.6"/>
<text x="850.0" y="24.8" font-size="32.0" textLength="20.5" lengthAdjust="spacingAndGlyphs" font-weight="700" fill="#231815" stroke="#231815" stroke-width="0.3">b</text>
<text transform="translate(935.0,102.3)" x="-9.1" y="11.1" font-size="32.5" fill="#111" stroke="#111" stroke-width="0.3">5</text>
<text transform="translate(935.0,311.6)" x="-8.9" y="11.2" font-size="32.5" fill="#111" stroke="#111" stroke-width="0.3">0</text>
<text transform="translate(872.0,204.3) rotate(-90)" x="-82.9" y="0.0" font-size="33.3" fill="#111" stroke="#111" stroke-width="0.3">Equiv. freq.</text>
<text transform="translate(970.8,278.0)" x="-9.2" y="11.5" font-size="33.3" fill="#111" stroke="#111" stroke-width="0.3">0</text>
<text transform="translate(1078.0,288.7)" x="-9.3" y="11.7" font-size="33.3" fill="#111" stroke="#111" stroke-width="0.3">7</text>
<text transform="translate(1199.8,300.1)" x="-19.1" y="11.3" font-size="33.3" fill="#111" stroke="#111" stroke-width="0.3">15</text>
<text transform="translate(1331.0,310.7)" x="-18.8" y="11.5" font-size="33.3" fill="#111" stroke="#111" stroke-width="0.3">23</text>
<text transform="translate(1459.8,323.0)" x="-18.3" y="11.5" font-size="33.3" fill="#111" stroke="#111" stroke-width="0.3">31</text>
<text transform="translate(1590.6,334.8)" x="-18.3" y="11.5" font-size="33.3" fill="#111" stroke="#111" stroke-width="0.3">39</text>
<text transform="translate(1718.6,347.4)" x="-18.1" y="11.7" font-size="33.3" fill="#111" stroke="#111" stroke-width="0.3">47</text>
<text transform="translate(1852.6,357.4)" x="-18.6" y="11.3" font-size="33.3" fill="#111" stroke="#111" stroke-width="0.3">55</text>
<text transform="translate(1982.8,369.0)" x="-18.8" y="11.5" font-size="33.3" fill="#111" stroke="#111" stroke-width="0.3">63</text>
<text transform="translate(2051.8,343.3)" x="-9.2" y="11.5" font-size="33.3" fill="#111" stroke="#111" stroke-width="0.3">0</text>
<text transform="translate(2065.9,282.0)" x="-9.3" y="11.7" font-size="33.3" fill="#111" stroke="#111" stroke-width="0.3">7</text>
<text transform="translate(2078.0,215.8)" x="-19.1" y="11.3" font-size="33.3" fill="#111" stroke="#111" stroke-width="0.3">15</text>
<text x="1129.4" y="424.9" font-size="33.3" font-weight="700" fill="#231815" stroke="#231815" stroke-width="0.3">Equivalent reuse frequencies of weights</text>
</g>
<g id="panel-c">
<rect x="140.2" y="529.1" width="1270.6" height="317.5" fill="#fff"/>
<path d="M299.0 529.1h19.9v19.8h-19.9zM338.7 529.1h19.9v19.8h-19.9zM378.4 529.1h39.7v19.8h-39.7zM438.0 529.1h19.9v19.8h-19.9zM477.7 529.1h39.7v19.8h-39.7zM537.3 529.1h39.7v19.8h-39.7zM596.8 529.1h19.9v19.8h-19.9zM636.5 529.1h19.9v19.8h-19.9zM676.2 529.1h39.7v19.8h-39.7zM755.6 529.1h19.9v19.8h-19.9zM954.2 529.1h19.9v19.8h-19.9zM1033.6 529.1h19.9v19.8h-19.9zM1073.3 529.1h238.2v19.8h-238.2zM1331.4 529.1h39.7v19.8h-39.7zM1390.9 529.1h19.9v19.8h-19.9zM140.2 548.9h19.9v19.8h-19.9zM179.9 548.9h79.4v19.8h-79.4zM279.2 548.9h19.9v19.8h-19.9zM318.9 548.9h39.7v19.8h-39.7zM378.4 548.9h39.7v19.8h-39.7zM457.8 548.9h19.9v19.8h-19.9zM557.1 548.9h39.7v19.8h-39.7zM616.7 548.9h19.9v19.8h-19.9zM676.2 548.9h19.9v19.8h-19.9zM755.6 548.9h39.7v19.8h-39.7zM815.2 548.9h19.9v19.8h-19.9zM874.8 548.9h99.3v19.8h-99.3zM993.9 548.9h59.6v19.8h-59.6zM1093.1 548.9h19.9v19.8h-19.9zM1132.9 548.9h99.3v19.8h-99.3zM1291.7 548.9h99.3v19.8h-99.3zM279.2 568.8h19.9v19.8h-19.9zM358.6 568.8h39.7v19.8h-39.7zM438.0 568.8h39.7v19.8h-39.7zM577.0 568.8h59.6v19.8h-59.6zM656.4 568.8h139.0v19.8h-139.0zM815.2 568.8h39.7v19.8h-39.7zM914.5 568.8h238.2v19.8h-238.2zM1252.0 568.8h39.7v19.8h-39.7zM1311.5 568.8h99.3v19.8h-99.3zM160.1 588.6h19.9v19.8h-19.9zM199.8 588.6h39.7v19.8h-39.7zM299.0 588.6h19.9v19.8h-19.9zM358.6 588.6h19.9v19.8h-19.9zM398.3 588.6h39.7v19.8h-39.7zM477.7 588.6h39.7v19.8h-39.7zM537.3 588.6h39.7v19.8h-39.7zM596.8 588.6h19.9v19.8h-19.9zM775.5 588.6h19.9v19.8h-19.9zM835.1 588.6h19.9v19.8h-19.9zM914.5 588.6h19.9v19.8h-19.9zM974.0 588.6h19.9v19.8h-19.9zM1013.7 588.6h59.6v19.8h-59.6zM1093.1 588.6h198.5v19.8h-198.5zM1351.2 588.6h39.7v19.8h-39.7zM140.2 608.5h59.6v19.8h-59.6zM239.5 608.5h39.7v19.8h-39.7zM318.9 608.5h39.7v19.8h-39.7zM398.3 608.5h19.9v19.8h-19.9zM438.0 608.5h19.9v19.8h-19.9zM477.7 608.5h39.7v19.8h-39.7zM537.3 608.5h19.9v19.8h-19.9zM596.8 608.5h218.4v19.8h-218.4zM954.2 608.5h19.9v19.8h-19.9zM993.9 608.5h19.9v19.8h-19.9zM1073.3 608.5h19.9v19.8h-19.9zM1152.7 608.5h39.7v19.8h-39.7zM1232.1 608.5h19.9v19.8h-19.9zM1390.9 608.5h19.9v19.8h-19.9zM160.1 628.3h19.9v19.8h-19.9zM259.3 628.3h39.7v19.8h-39.7zM517.4 628.3h79.4v19.8h-79.4zM616.7 628.3h19.9v19.8h-19.9zM676.2 628.3h19.9v19.8h-19.9zM775.5 628.3h258.1v19.8h-258.1zM1093.1 628.3h39.7v19.8h-39.7zM1152.7 628.3h79.4v19.8h-79.4zM1271.8 628.3h19.9v19.8h-19.9zM1331.4 628.3h39.7v19.8h-39.7zM318.9 648.2h39.7v19.8h-39.7zM378.4 648.2h59.6v19.8h-59.6zM457.8 648.2h39.7v19.8h-39.7zM517.4 648.2h39.7v19.8h-39.7zM577.0 648.2h59.6v19.8h-59.6zM676.2 648.2h99.3v19.8h-99.3zM795.4 648.2h19.9v19.8h-19.9zM874.8 648.2h238.2v19.8h-238.2zM1132.9 648.2h19.9v19.8h-19.9zM1172.6 648.2h19.9v19.8h-19.9zM1212.3 648.2h198.5v19.8h-198.5zM140.2 668.0h39.7v19.8h-39.7zM219.6 668.0h19.9v19.8h-19.9zM279.2 668.0h19.9v19.8h-19.9zM318.9 668.0h39.7v19.8h-39.7zM378.4 668.0h19.9v19.8h-19.9zM438.0 668.0h238.2v19.8h-238.2zM696.1 668.0h19.9v19.8h-19.9zM755.6 668.0h59.6v19.8h-59.6zM954.2 668.0h19.9v19.8h-19.9zM1013.7 668.0h19.9v19.8h-19.9zM1113.0 668.0h19.9v19.8h-19.9zM1192.4 668.0h19.9v19.8h-19.9zM1232.1 668.0h19.9v19.8h-19.9zM1390.9 668.0h19.9v19.8h-19.9zM160.1 687.9h79.4v19.8h-79.4zM259.3 687.9h19.9v19.8h-19.9zM299.0 687.9h19.9v19.8h-19.9zM378.4 687.9h39.7v19.8h-39.7zM438.0 687.9h39.7v19.8h-39.7zM497.6 687.9h79.4v19.8h-79.4zM596.8 687.9h19.9v19.8h-19.9zM636.5 687.9h39.7v19.8h-39.7zM735.8 687.9h39.7v19.8h-39.7zM914.5 687.9h19.9v19.8h-19.9zM1073.3 687.9h19.9v19.8h-19.9zM1113.0 687.9h39.7v19.8h-39.7zM1172.6 687.9h19.9v19.8h-19.9zM1232.1 687.9h39.7v19.8h-39.7zM1311.5 687.9h19.9v19.8h-19.9zM160.1 707.7h19.9v19.8h-19.9zM299.0 707.7h19.9v19.8h-19.9zM338.7 707.7h19.9v19.8h-19.9zM398.3 707.7h19.9v19.8h-19.9zM457.8 707.7h39.7v19.8h-39.7zM537.3 707.7h59.6v19.8h-59.6zM616.7 707.7h19.9v19.8h-19.9zM676.2 707.7h19.9v19.8h-19.9zM715.9 707.7h19.9v19.8h-19.9zM854.9 707.7h19.9v19.8h-19.9zM914.5 707.7h19.9v19.8h-19.9zM1053.4 707.7h39.7v19.8h-39.7zM1132.9 707.7h19.9v19.8h-19.9zM1172.6 707.7h19.9v19.8h-19.9zM1212.3 707.7h39.7v19.8h-39.7zM1291.7 707.7h59.6v19.8h-59.6zM1371.1 707.7h39.7v19.8h-39.7zM199.8 727.5h19.9v19.8h-19.9zM239.5 727.5h39.7v19.8h-39.7zM497.6 727.5h19.9v19.8h-19.9zM537.3 727.5h39.7v19.8h-39.7zM596.8 727.5h19.9v19.8h-19.9zM696.1 727.5h19.9v19.8h-19.9zM755.6 727.5h19.9v19.8h-19.9zM954.2 727.5h19.9v19.8h-19.9zM1013.7 727.5h19.9v19.8h-19.9zM1053.4 727.5h79.4v19.8h-79.4zM1152.7 727.5h39.7v19.8h-39.7zM1212.3 727.5h19.9v19.8h-19.9zM1252.0 727.5h19.9v19.8h-19.9zM1291.7 727.5h59.6v19.8h-59.6zM140.2 747.4h19.9v19.8h-19.9zM199.8 747.4h19.9v19.8h-19.9zM239.5 747.4h19.9v19.8h-19.9zM318.9 747.4h79.4v19.8h-79.4zM418.1 747.4h19.9v19.8h-19.9zM477.7 747.4h59.6v19.8h-59.6zM577.0 747.4h19.9v19.8h-19.9zM616.7 747.4h19.9v19.8h-19.9zM656.4 747.4h19.9v19.8h-19.9zM715.9 747.4h79.4v19.8h-79.4zM815.2 747.4h39.7v19.8h-39.7zM874.8 747.4h79.4v19.8h-79.4zM974.0 747.4h79.4v19.8h-79.4zM1073.3 747.4h19.9v19.8h-19.9zM1271.8 747.4h39.7v19.8h-39.7zM1351.2 747.4h39.7v19.8h-39.7zM179.9 767.2h59.6v19.8h-59.6zM299.0 767.2h19.9v19.8h-19.9zM358.6 767.2h39.7v19.8h-39.7zM438.0 767.2h19.9v19.8h-19.9zM676.2 767.2h119.1v19.8h-119.1zM815.2 767.2h19.9v19.8h-19.9zM854.9 767.2h59.6v19.8h-59.6zM934.3 767.2h39.7v19.8h-39.7zM993.9 767.2h19.9v19.8h-19.9zM1073.3 767.2h19.9v19.8h-19.9zM1132.9 767.2h39.7v19.8h-39.7zM1212.3 767.2h59.6v19.8h-59.6zM1291.7 767.2h19.9v19.8h-19.9zM1331.4 767.2h19.9v19.8h-19.9zM1371.1 767.2h39.7v19.8h-39.7zM140.2 787.1h19.9v19.8h-19.9zM199.8 787.1h59.6v19.8h-59.6zM279.2 787.1h39.7v19.8h-39.7zM398.3 787.1h39.7v19.8h-39.7zM457.8 787.1h19.9v19.8h-19.9zM497.6 787.1h19.9v19.8h-19.9zM557.1 787.1h79.4v19.8h-79.4zM676.2 787.1h79.4v19.8h-79.4zM775.5 787.1h19.9v19.8h-19.9zM874.8 787.1h19.9v19.8h-19.9zM914.5 787.1h19.9v19.8h-19.9zM974.0 787.1h99.3v19.8h-99.3zM1113.0 787.1h39.7v19.8h-39.7zM1232.1 787.1h19.9v19.8h-19.9zM160.1 806.9h39.7v19.8h-39.7zM239.5 806.9h19.9v19.8h-19.9zM279.2 806.9h39.7v19.8h-39.7zM398.3 806.9h19.9v19.8h-19.9zM438.0 806.9h19.9v19.8h-19.9zM616.7 806.9h19.9v19.8h-19.9zM676.2 806.9h59.6v19.8h-59.6zM775.5 806.9h19.9v19.8h-19.9zM835.1 806.9h79.4v19.8h-79.4zM934.3 806.9h19.9v19.8h-19.9zM993.9 806.9h19.9v19.8h-19.9zM1033.6 806.9h19.9v19.8h-19.9zM1132.9 806.9h19.9v19.8h-19.9zM1172.6 806.9h39.7v19.8h-39.7zM1232.1 806.9h19.9v19.8h-19.9zM1271.8 806.9h59.6v19.8h-59.6zM1390.9 806.9h19.9v19.8h-19.9zM140.2 826.8h19.9v19.8h-19.9zM219.6 826.8h19.9v19.8h-19.9zM279.2 826.8h39.7v19.8h-39.7zM398.3 826.8h59.6v19.8h-59.6z" fill="#eea52d"/>
<path d="M140.20 528.5V847.2M160.05 528.5V847.2M179.91 528.5V847.2M199.76 528.5V847.2M219.61 528.5V847.2M239.47 528.5V847.2M259.32 528.5V847.2M279.17 528.5V847.2M299.02 528.5V847.2M318.88 528.5V847.2M338.73 528.5V847.2M358.58 528.5V847.2M378.44 528.5V847.2M398.29 528.5V847.2M418.14 528.5V847.2M438.00 528.5V847.2M457.85 528.5V847.2M477.70 528.5V847.2M497.56 528.5V847.2M517.41 528.5V847.2M537.26 528.5V847.2M557.12 528.5V847.2M576.97 528.5V847.2M596.82 528.5V847.2M616.67 528.5V847.2M636.53 528.5V847.2M656.38 528.5V847.2M676.23 528.5V847.2M696.09 528.5V847.2M715.94 528.5V847.2M735.79 528.5V847.2M755.65 528.5V847.2M775.50 528.5V847.2M795.35 528.5V847.2M815.21 528.5V847.2M835.06 528.5V847.2M854.91 528.5V847.2M874.77 528.5V847.2M894.62 528.5V847.2M914.47 528.5V847.2M934.33 528.5V847.2M954.18 528.5V847.2M974.03 528.5V847.2M993.88 528.5V847.2M1013.74 528.5V847.2M1033.59 528.5V847.2M1053.44 528.5V847.2M1073.30 528.5V847.2M1093.15 528.5V847.2M1113.00 528.5V847.2M1132.86 528.5V847.2M1152.71 528.5V847.2M1172.56 528.5V847.2M1192.42 528.5V847.2M1212.27 528.5V847.2M1232.12 528.5V847.2M1251.97 528.5V847.2M1271.83 528.5V847.2M1291.68 528.5V847.2M1311.53 528.5V847.2M1331.39 528.5V847.2M1351.24 528.5V847.2M1371.09 528.5V847.2M1390.95 528.5V847.2M1410.80 528.5V847.2M139.6 529.10H1411.4M139.6 548.94H1411.4M139.6 568.79H1411.4M139.6 588.63H1411.4M139.6 608.48H1411.4M139.6 628.32H1411.4M139.6 648.16H1411.4M139.6 668.01H1411.4M139.6 687.85H1411.4M139.6 707.69H1411.4M139.6 727.54H1411.4M139.6 747.38H1411.4M139.6 767.23H1411.4M139.6 787.07H1411.4M139.6 806.91H1411.4M139.6 826.76H1411.4M139.6 846.60H1411.4" stroke="#1c1c1c" stroke-width="1.6" fill="none"/>
<rect x="66.2" y="545.2" width="22.8" height="317" fill="#fff"/>
<rect x="66.2" y="545.2" width="22.8" height="158.8" fill="#eea52d"/>
<rect x="66.2" y="545.2" width="22.8" height="317" fill="none" stroke="#111" stroke-width="1.6"/>
<text x="0.2" y="541.8" font-size="32.0" textLength="17.5" lengthAdjust="spacingAndGlyphs" font-weight="700" fill="#231815" stroke="#231815" stroke-width="0.3">c</text>
<text transform="translate(101.4,557.6)" x="-9.6" y="11.4" font-size="33" fill="#111" stroke="#111" stroke-width="0.3">1</text>
<text transform="translate(103.8,855.1)" x="-9.1" y="11.4" font-size="33" fill="#111" stroke="#111" stroke-width="0.3">0</text>
<text transform="translate(56.4,681.5) rotate(-90)" x="-40.4" y="0.0" font-size="33" fill="#111" stroke="#111" stroke-width="0.3">Value</text>
<text transform="translate(152.3,886.1)" x="-9.2" y="0.0" font-size="33.3" fill="#111" stroke="#111" stroke-width="0.3">0</text>
<text transform="translate(290.9,886.1)" x="-9.3" y="0.0" font-size="33.3" fill="#111" stroke="#111" stroke-width="0.3">7</text>
<text transform="translate(445.7,886.1)" x="-19.1" y="0.0" font-size="33.3" fill="#111" stroke="#111" stroke-width="0.3">15</text>
<text transform="translate(603.1,886.1)" x="-18.8" y="0.0" font-size="33.3" fill="#111" stroke="#111" stroke-width="0.3">23</text>
<text transform="translate(760.1,886.1)" x="-18.3" y="0.0" font-size="33.3" fill="#111" stroke="#111" stroke-width="0.3">31</text>
<text transform="translate(920.5,886.1)" x="-18.3" y="0.0" font-size="33.3" fill="#111" stroke="#111" stroke-width="0.3">39</text>
<text transform="translate(1078.4,886.1)" x="-18.1" y="0.0" font-size="33.3" fill="#111" stroke="#111" stroke-width="0.3">47</text>
<text transform="translate(1237.1,886.1)" x="-18.6" y="0.0" font-size="33.3" fill="#111" stroke="#111" stroke-width="0.3">55</text>
<text transform="translate(1396.0,886.1)" x="-18.8" y="0.0" font-size="33.3" fill="#111" stroke="#111" stroke-width="0.3">63</text>
<text transform="translate(1433.2,553.4)" x="-19.1" y="0.0" font-size="33.3" fill="#111" stroke="#111" stroke-width="0.3">15</text>
<text transform="translate(1437.7,712.4)" x="-9.3" y="0.0" font-size="33.3" fill="#111" stroke="#111" stroke-width="0.3">7</text>
<text transform="translate(1437.4,851.8)" x="-9.2" y="0.0" font-size="33.3" fill="#111" stroke="#111" stroke-width="0.3">0</text>
<text x="403.7" y="925.2" font-size="33.3" font-weight="700" fill="#231815" stroke="#231815" stroke-width="0.3">On-chip distribution of weights</text>
</g>
<g id="panel-d">
<rect x="1652.2" y="528.4" width="329.7" height="329.7" fill="#f7fafd"/>
<rect x="1652.2" y="528.4" width="65.9" height="65.9" fill="#3a6cb0"/>
<rect x="1718.1" y="528.4" width="65.9" height="65.9" fill="#eaf1f9"/>
<rect x="1718.1" y="594.3" width="65.9" height="65.9" fill="#3a6cb0"/>
<rect x="1784.1" y="660.3" width="65.9" height="65.9" fill="#2f5fa6"/>
<rect x="1850.0" y="726.2" width="65.9" height="65.9" fill="#2f5fa6"/>
<rect x="1915.9" y="726.2" width="65.9" height="65.9" fill="#eaf1f9"/>
<rect x="1915.9" y="792.1" width="65.9" height="65.9" fill="#1e3a6f"/>
<rect x="1652.2" y="528.4" width="329.7" height="329.7" fill="none" stroke="#111" stroke-width="2.3"/>
<text transform="translate(1683.7,558.2)" x="-16.9" y="10.3" font-size="29.3" fill="#fff" stroke="#fff" stroke-width="0.3">14</text>
<text transform="translate(1749.3,558.2)" x="-8.5" y="10.1" font-size="29.3" fill="#111" stroke="#111" stroke-width="0.3">1</text>
<text transform="translate(1815.2,558.2)" x="-8.1" y="10.1" font-size="29.3" fill="#111" stroke="#111" stroke-width="0.3">0</text>
<text transform="translate(1881.2,558.2)" x="-8.1" y="10.1" font-size="29.3" fill="#111" stroke="#111" stroke-width="0.3">0</text>
<text transform="translate(1947.1,558.2)" x="-8.1" y="10.1" font-size="29.3" fill="#111" stroke="#111" stroke-width="0.3">0</text>
<text transform="translate(1683.4,624.1)" x="-8.1" y="10.1" font-size="29.3" fill="#111" stroke="#111" stroke-width="0.3">0</text>
<text transform="translate(1749.2,624.1)" x="-16.9" y="10.3" font-size="29.3" fill="#fff" stroke="#fff" stroke-width="0.3">14</text>
<text transform="translate(1815.2,624.1)" x="-8.1" y="10.1" font-size="29.3" fill="#111" stroke="#111" stroke-width="0.3">0</text>
<text transform="translate(1881.2,624.1)" x="-8.1" y="10.1" font-size="29.3" fill="#111" stroke="#111" stroke-width="0.3">0</text>
<text transform="translate(1947.1,624.1)" x="-8.1" y="10.1" font-size="29.3" fill="#111" stroke="#111" stroke-width="0.3">0</text>
<text transform="translate(1683.4,690.0)" x="-8.1" y="10.1" font-size="29.3" fill="#111" stroke="#111" stroke-width="0.3">0</text>
<text transform="translate(1749.3,690.0)" x="-8.1" y="10.1" font-size="29.3" fill="#111" stroke="#111" stroke-width="0.3">0</text>
<text transform="translate(1815.7,690.0)" x="-16.8" y="10.0" font-size="29.3" fill="#fff" stroke="#fff" stroke-width="0.3">15</text>
<text transform="translate(1881.2,690.0)" x="-8.1" y="10.1" font-size="29.3" fill="#111" stroke="#111" stroke-width="0.3">0</text>
<text transform="translate(1947.1,690.0)" x="-8.1" y="10.1" font-size="29.3" fill="#111" stroke="#111" stroke-width="0.3">0</text>
<text transform="translate(1683.4,756.0)" x="-8.1" y="10.1" font-size="29.3" fill="#111" stroke="#111" stroke-width="0.3">0</text>
<text transform="translate(1749.3,756.0)" x="-8.1" y="10.1" font-size="29.3" fill="#111" stroke="#111" stroke-width="0.3">0</text>
<text transform="translate(1815.2,756.0)" x="-8.1" y="10.1" font-size="29.3" fill="#111" stroke="#111" stroke-width="0.3">0</text>
<text transform="translate(1885.6,756.0)" x="-16.8" y="10.0" font-size="29.3" fill="#fff" stroke="#fff" stroke-width="0.3">15</text>
<text transform="translate(1947.1,756.0)" x="-8.5" y="10.1" font-size="29.3" fill="#111" stroke="#111" stroke-width="0.3">1</text>
<text transform="translate(1683.4,821.9)" x="-8.1" y="10.1" font-size="29.3" fill="#111" stroke="#111" stroke-width="0.3">0</text>
<text transform="translate(1749.3,821.9)" x="-8.1" y="10.1" font-size="29.3" fill="#111" stroke="#111" stroke-width="0.3">0</text>
<text transform="translate(1815.2,821.9)" x="-8.1" y="10.1" font-size="29.3" fill="#111" stroke="#111" stroke-width="0.3">0</text>
<text transform="translate(1881.2,821.9)" x="-8.1" y="10.1" font-size="29.3" fill="#111" stroke="#111" stroke-width="0.3">0</text>
<text transform="translate(1948.4,821.9)" x="-16.6" y="10.3" font-size="29.3" fill="#fff" stroke="#fff" stroke-width="0.3">17</text>
<text x="1580.8" y="567.4" font-size="24.8" textLength="65.2" lengthAdjust="spacingAndGlyphs" fill="#111" stroke="#111" stroke-width="0.3">sitting</text>
<text x="1561.3" y="633.0" font-size="24.8" fill="#111" stroke="#111" stroke-width="0.3">nervous</text>
<text x="1563.0" y="698.7" font-size="24.8" textLength="81.8" lengthAdjust="spacingAndGlyphs" fill="#111" stroke="#111" stroke-width="0.3">walking</text>
<text x="1569.0" y="765.0" font-size="24.8" fill="#111" stroke="#111" stroke-width="0.3">cycling</text>
<text x="1568.9" y="831.4" font-size="24.8" textLength="79.5" lengthAdjust="spacingAndGlyphs" fill="#111" stroke="#111" stroke-width="0.3">jogging</text>
<text transform="translate(1688.0,897.0) rotate(-45)" x="-31.9" y="6.4" font-size="24.8" fill="#111" stroke="#111" stroke-width="0.3">sitting</text>
<text transform="translate(1756.0,898.0) rotate(-45)" x="-44.5" y="6.6" font-size="24.8" fill="#111" stroke="#111" stroke-width="0.3">nervous</text>
<text transform="translate(1822.0,897.0) rotate(-45)" x="-40.5" y="6.4" font-size="24.8" fill="#111" stroke="#111" stroke-width="0.3">walking</text>
<text transform="translate(1893.0,892.0) rotate(-45)" x="-37.7" y="6.4" font-size="24.8" fill="#111" stroke="#111" stroke-width="0.3">cycling</text>
<text transform="translate(1953.0,899.5) rotate(-45)" x="-38.9" y="6.4" font-size="24.8" fill="#111" stroke="#111" stroke-width="0.3">jogging</text>
<text x="1516.0" y="540.6" font-size="32.0" textLength="20.7" lengthAdjust="spacingAndGlyphs" font-weight="700" fill="#231815" stroke="#231815" stroke-width="0.3">d</text>
<text x="1717.3" y="511.3" font-size="29.4" font-weight="700" fill="#231815" stroke="#231815" stroke-width="0.3">Predicted label</text>
<text transform="translate(1555.3,692.4) rotate(-90)" x="-67.5" y="0.0" font-size="29.3" font-weight="700" fill="#231815" stroke="#231815" stroke-width="0.3">True label</text>
<text transform="translate(2021.0,684.5) rotate(90)" x="-182.9" y="0.0" font-size="32.9" font-weight="700" fill="#4a8fd0" stroke="#4a8fd0" stroke-width="0.3">Test accuracy = 97.40%</text>
</g>
</svg>
</body></html>
